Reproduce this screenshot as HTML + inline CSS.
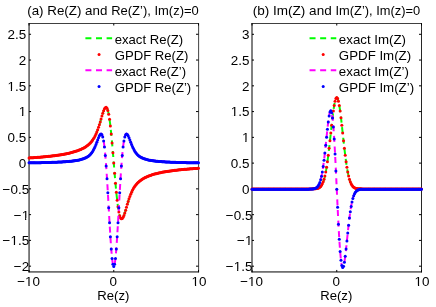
<!DOCTYPE html>
<html><head><meta charset="utf-8"><title>plot</title>
<style>html,body{margin:0;padding:0;background:#fff}body{width:436px;height:307px;overflow:hidden;font-family:"Liberation Sans",sans-serif}</style></head>
<body>
<svg width="436" height="307" viewBox="0 0 436 307" style="display:block;will-change:transform" font-family="Liberation Sans, sans-serif" font-size="13.6" fill="#000">
<rect width="436" height="307" fill="#fff"/>
<g transform="translate(26.15,39.18) scale(0.989,1)"><text text-anchor="end">2.5</text></g>
<g transform="translate(26.15,64.94) scale(0.989,1)"><text text-anchor="end">2</text></g>
<g transform="translate(26.15,90.70) scale(0.989,1)"><text text-anchor="end">1.5</text><rect x="-19.11" y="-1.43" width="3.62" height="2.46" fill="#fff"/><rect x="-14.28" y="-1.43" width="3.11" height="2.46" fill="#fff"/></g>
<g transform="translate(26.15,116.47) scale(0.989,1)"><text text-anchor="end">1</text><rect x="-7.76" y="-1.43" width="3.62" height="2.46" fill="#fff"/><rect x="-2.94" y="-1.43" width="3.11" height="2.46" fill="#fff"/></g>
<g transform="translate(26.15,142.23) scale(0.989,1)"><text text-anchor="end">0.5</text></g>
<g transform="translate(26.15,168.00) scale(0.989,1)"><text text-anchor="end">0</text></g>
<g transform="translate(29.15,193.77) scale(0.989,1)"><text text-anchor="end">−0.5</text></g>
<g transform="translate(29.15,219.53) scale(0.989,1)"><text text-anchor="end">−1</text><rect x="-7.76" y="-1.43" width="3.62" height="2.46" fill="#fff"/><rect x="-2.94" y="-1.43" width="3.11" height="2.46" fill="#fff"/></g>
<g transform="translate(29.15,245.29) scale(0.989,1)"><text text-anchor="end">−1.5</text><rect x="-19.11" y="-1.43" width="3.62" height="2.46" fill="#fff"/><rect x="-14.28" y="-1.43" width="3.11" height="2.46" fill="#fff"/></g>
<g transform="translate(29.15,271.06) scale(0.989,1)"><text text-anchor="end">−2</text></g>
<g transform="translate(28.60,286.30) scale(0.989,1)"><text text-anchor="middle">−10</text><rect x="-3.79" y="-1.43" width="3.62" height="2.46" fill="#fff"/><rect x="1.03" y="-1.43" width="3.11" height="2.46" fill="#fff"/></g>
<g transform="translate(113.32,286.30) scale(0.989,1)"><text text-anchor="middle">0</text></g>
<g transform="translate(199.05,286.30) scale(0.989,1)"><text text-anchor="middle">10</text><rect x="-7.76" y="-1.43" width="3.62" height="2.46" fill="#fff"/><rect x="-2.94" y="-1.43" width="3.11" height="2.46" fill="#fff"/></g>
<path d="M29.05,23.1V272.45" stroke="#000" stroke-width="1" fill="none"/>
<path d="M28.55,271.95H198.9" stroke="#000" stroke-width="1" fill="none"/>
<path d="M28.55,23.5H198.9" stroke="#000" stroke-width="0.75" fill="none"/>
<path d="M198.62,23.1V272.45" stroke="#000" stroke-width="0.75" fill="none"/>
<path d="M29.05,34.28h2.0M198.5,34.28h-2.5M29.05,60.04h2.0M198.5,60.04h-2.5M29.05,85.80h2.0M198.5,85.80h-2.5M29.05,111.57h2.0M198.5,111.57h-2.5M29.05,137.33h2.0M198.5,137.33h-2.5M29.05,163.10h2.0M198.5,163.10h-2.5M29.05,188.87h2.0M198.5,188.87h-2.5M29.05,214.63h2.0M198.5,214.63h-2.5M29.05,240.39h2.0M198.5,240.39h-2.5M29.05,266.16h2.0M198.5,266.16h-2.5M29.05,271.95v-2.0M29.05,23.5v2.0M113.77,271.95v-2.0M113.77,23.5v2.0M198.50,271.95v-2.0M198.50,23.5v2.0" stroke="#000" stroke-width="1" fill="none"/>
<path d="M29.05,157.92 L29.13,157.92 L29.22,157.91 L29.30,157.91 L29.39,157.90 L29.47,157.89 L29.56,157.89 L29.64,157.88 L29.73,157.88 L29.81,157.87 L29.90,157.87 L29.98,157.86 L30.07,157.86 L30.15,157.85 L30.24,157.85 L30.32,157.84 L30.41,157.84 L30.49,157.83 L30.58,157.82 L30.66,157.82 L30.74,157.81 L30.83,157.81 L30.91,157.80 L31.00,157.80 L31.08,157.79 L31.17,157.79 L31.25,157.78 L31.34,157.78 L31.42,157.77 L31.51,157.76 L31.59,157.76 L31.68,157.75 L31.76,157.75 L31.85,157.74 L31.93,157.74 L32.02,157.73 L32.10,157.73 L32.18,157.72 L32.27,157.71 L32.35,157.71 L32.44,157.70 L32.52,157.70 L32.61,157.69 L32.69,157.69 L32.78,157.68 L32.86,157.67 L32.95,157.67 L33.03,157.66 L33.12,157.66 L33.20,157.65 L33.29,157.65 L33.37,157.64 L33.46,157.63 L33.54,157.63 L33.63,157.62 L33.71,157.62 L33.79,157.61 L33.88,157.60 L33.96,157.60 L34.05,157.59 L34.13,157.59 L34.22,157.58 L34.30,157.57 L34.39,157.57 L34.47,157.56 L34.56,157.56 L34.64,157.55 L34.73,157.54 L34.81,157.54 L34.90,157.53 L34.98,157.53 L35.07,157.52 L35.15,157.51 L35.23,157.51 L35.32,157.50 L35.40,157.50 L35.49,157.49 L35.57,157.48 L35.66,157.48 L35.74,157.47 L35.83,157.47 L35.91,157.46 L36.00,157.45 L36.08,157.45 L36.17,157.44 L36.25,157.43 L36.34,157.43 L36.42,157.42 L36.51,157.42 L36.59,157.41 L36.68,157.40 L36.76,157.40 L36.84,157.39 L36.93,157.38 L37.01,157.38 L37.10,157.37 L37.18,157.36 L37.27,157.36 L37.35,157.35 L37.44,157.34 L37.52,157.34 L37.61,157.33 L37.69,157.33 L37.78,157.32 L37.86,157.31 L37.95,157.31 L38.03,157.30 L38.12,157.29 L38.20,157.29 L38.29,157.28 L38.37,157.27 L38.45,157.27 L38.54,157.26 L38.62,157.25 L38.71,157.25 L38.79,157.24 L38.88,157.23 L38.96,157.23 L39.05,157.22 L39.13,157.21 L39.22,157.21 L39.30,157.20 L39.39,157.19 L39.47,157.19 L39.56,157.18 L39.64,157.17 L39.73,157.16 L39.81,157.16 L39.89,157.15 L39.98,157.14 L40.06,157.14 L40.15,157.13 L40.23,157.12 L40.32,157.12 L40.40,157.11 L40.49,157.10 L40.57,157.10 L40.66,157.09 L40.74,157.08 L40.83,157.07 L40.91,157.07 L41.00,157.06 L41.08,157.05 L41.17,157.05 L41.25,157.04 L41.34,157.03 L41.42,157.02 L41.50,157.02 L41.59,157.01 L41.67,157.00 L41.76,156.99 L41.84,156.99 L41.93,156.98 L42.01,156.97 L42.10,156.97 L42.18,156.96 L42.27,156.95 L42.35,156.94 L42.44,156.94 L42.52,156.93 L42.61,156.92 L42.69,156.91 L42.78,156.91 L42.86,156.90 L42.94,156.89 L43.03,156.88 L43.11,156.88 L43.20,156.87 L43.28,156.86 L43.37,156.85 L43.45,156.85 L43.54,156.84 L43.62,156.83 L43.71,156.82 L43.79,156.81 L43.88,156.81 L43.96,156.80 L44.05,156.79 L44.13,156.78 L44.22,156.78 L44.30,156.77 L44.39,156.76 L44.47,156.75 L44.55,156.74 L44.64,156.74 L44.72,156.73 L44.81,156.72 L44.89,156.71 L44.98,156.70 L45.06,156.70 L45.15,156.69 L45.23,156.68 L45.32,156.67 L45.40,156.66 L45.49,156.66 L45.57,156.65 L45.66,156.64 L45.74,156.63 L45.83,156.62 L45.91,156.62 L46.00,156.61 L46.08,156.60 L46.16,156.59 L46.25,156.58 L46.33,156.57 L46.42,156.57 L46.50,156.56 L46.59,156.55 L46.67,156.54 L46.76,156.53 L46.84,156.52 L46.93,156.52 L47.01,156.51 L47.10,156.50 L47.18,156.49 L47.27,156.48 L47.35,156.47 L47.44,156.46 L47.52,156.46 L47.60,156.45 L47.69,156.44 L47.77,156.43 L47.86,156.42 L47.94,156.41 L48.03,156.40 L48.11,156.39 L48.20,156.39 L48.28,156.38 L48.37,156.37 L48.45,156.36 L48.54,156.35 L48.62,156.34 L48.71,156.33 L48.79,156.32 L48.88,156.31 L48.96,156.30 L49.05,156.30 L49.13,156.29 L49.21,156.28 L49.30,156.27 L49.38,156.26 L49.47,156.25 L49.55,156.24 L49.64,156.23 L49.72,156.22 L49.81,156.21 L49.89,156.20 L49.98,156.19 L50.06,156.19 L50.15,156.18 L50.23,156.17 L50.32,156.16 L50.40,156.15 L50.49,156.14 L50.57,156.13 L50.65,156.12 L50.74,156.11 L50.82,156.10 L50.91,156.09 L50.99,156.08 L51.08,156.07 L51.16,156.06 L51.25,156.05 L51.33,156.04 L51.42,156.03 L51.50,156.02 L51.59,156.01 L51.67,156.00 L51.76,155.99 L51.84,155.98 L51.93,155.97 L52.01,155.96 L52.10,155.95 L52.18,155.94 L52.26,155.93 L52.35,155.92 L52.43,155.91 L52.52,155.90 L52.60,155.89 L52.69,155.88 L52.77,155.87 L52.86,155.86 L52.94,155.85 L53.03,155.84 L53.11,155.83 L53.20,155.82 L53.28,155.81 L53.37,155.80 L53.45,155.79 L53.54,155.78 L53.62,155.77 L53.70,155.76 L53.79,155.75 L53.87,155.74 L53.96,155.73 L54.04,155.71 L54.13,155.70 L54.21,155.69 L54.30,155.68 L54.38,155.67 L54.47,155.66 L54.55,155.65 L54.64,155.64 L54.72,155.63 L54.81,155.62 L54.89,155.61 L54.98,155.60 L55.06,155.58 L55.15,155.57 L55.23,155.56 L55.31,155.55 L55.40,155.54 L55.48,155.53 L55.57,155.52 L55.65,155.51 L55.74,155.49 L55.82,155.48 L55.91,155.47 L55.99,155.46 L56.08,155.45 L56.16,155.44 L56.25,155.43 L56.33,155.41 L56.42,155.40 L56.50,155.39 L56.59,155.38 L56.67,155.37 L56.76,155.36 L56.84,155.34 L56.92,155.33 L57.01,155.32 L57.09,155.31 L57.18,155.30 L57.26,155.28 L57.35,155.27 L57.43,155.26 L57.52,155.25 L57.60,155.24 L57.69,155.22 L57.77,155.21 L57.86,155.20 L57.94,155.19 L58.03,155.17 L58.11,155.16 L58.20,155.15 L58.28,155.14 L58.36,155.13 L58.45,155.11 L58.53,155.10 L58.62,155.09 L58.70,155.07 L58.79,155.06 L58.87,155.05 L58.96,155.04 L59.04,155.02 L59.13,155.01 L59.21,155.00 L59.30,154.99 L59.38,154.97 L59.47,154.96 L59.55,154.95 L59.64,154.93 L59.72,154.92 L59.81,154.91 L59.89,154.89 L59.97,154.88 L60.06,154.87 L60.14,154.85 L60.23,154.84 L60.31,154.83 L60.40,154.81 L60.48,154.80 L60.57,154.79 L60.65,154.77 L60.74,154.76 L60.82,154.75 L60.91,154.73 L60.99,154.72 L61.08,154.70 L61.16,154.69 L61.25,154.68 L61.33,154.66 L61.41,154.65 L61.50,154.63 L61.58,154.62 L61.67,154.61 L61.75,154.59 L61.84,154.58 L61.92,154.56 L62.01,154.55 L62.09,154.53 L62.18,154.52 L62.26,154.51 L62.35,154.49 L62.43,154.48 L62.52,154.46 L62.60,154.45 L62.69,154.43 L62.77,154.42 L62.86,154.40 L62.94,154.39 L63.02,154.37 L63.11,154.36 L63.19,154.34 L63.28,154.33 L63.36,154.31 L63.45,154.30 L63.53,154.28 L63.62,154.27 L63.70,154.25 L63.79,154.23 L63.87,154.22 L63.96,154.20 L64.04,154.19 L64.13,154.17 L64.21,154.16 L64.30,154.14 L64.38,154.13 L64.47,154.11 L64.55,154.09 L64.63,154.08 L64.72,154.06 L64.80,154.04 L64.89,154.03 L64.97,154.01 L65.06,154.00 L65.14,153.98 L65.23,153.96 L65.31,153.95 L65.40,153.93 L65.48,153.91 L65.57,153.90 L65.65,153.88 L65.74,153.86 L65.82,153.85 L65.91,153.83 L65.99,153.81 L66.07,153.80 L66.16,153.78 L66.24,153.76 L66.33,153.74 L66.41,153.73 L66.50,153.71 L66.58,153.69 L66.67,153.67 L66.75,153.66 L66.84,153.64 L66.92,153.62 L67.01,153.60 L67.09,153.59 L67.18,153.57 L67.26,153.55 L67.35,153.53 L67.43,153.51 L67.52,153.50 L67.60,153.48 L67.68,153.46 L67.77,153.44 L67.85,153.42 L67.94,153.40 L68.02,153.38 L68.11,153.37 L68.19,153.35 L68.28,153.33 L68.36,153.31 L68.45,153.29 L68.53,153.27 L68.62,153.25 L68.70,153.23 L68.79,153.21 L68.87,153.19 L68.96,153.17 L69.04,153.16 L69.12,153.14 L69.21,153.12 L69.29,153.10 L69.38,153.08 L69.46,153.06 L69.55,153.04 L69.63,153.02 L69.72,153.00 L69.80,152.98 L69.89,152.96 L69.97,152.93 L70.06,152.91 L70.14,152.89 L70.23,152.87 L70.31,152.85 L70.40,152.83 L70.48,152.81 L70.57,152.79 L70.65,152.77 L70.73,152.75 L70.82,152.73 L70.90,152.70 L70.99,152.68 L71.07,152.66 L71.16,152.64 L71.24,152.62 L71.33,152.60 L71.41,152.57 L71.50,152.55 L71.58,152.53 L71.67,152.51 L71.75,152.49 L71.84,152.46 L71.92,152.44 L72.01,152.42 L72.09,152.40 L72.18,152.37 L72.26,152.35 L72.34,152.33 L72.43,152.30 L72.51,152.28 L72.60,152.26 L72.68,152.23 L72.77,152.21 L72.85,152.19 L72.94,152.16 L73.02,152.14 L73.11,152.11 L73.19,152.09 L73.28,152.07 L73.36,152.04 L73.45,152.02 L73.53,151.99 L73.62,151.97 L73.70,151.94 L73.78,151.92 L73.87,151.89 L73.95,151.87 L74.04,151.84 L74.12,151.82 L74.21,151.79 L74.29,151.77 L74.38,151.74 L74.46,151.72 L74.55,151.69 L74.63,151.66 L74.72,151.64 L74.80,151.61 L74.89,151.59 L74.97,151.56 L75.06,151.53 L75.14,151.51 L75.23,151.48 L75.31,151.45 L75.39,151.42 L75.48,151.40 L75.56,151.37 L75.65,151.34 L75.73,151.31 L75.82,151.29 L75.90,151.26 L75.99,151.23 L76.07,151.20 L76.16,151.17 L76.24,151.15 L76.33,151.12 L76.41,151.09 L76.50,151.06 L76.58,151.03 L76.67,151.00 L76.75,150.97 L76.83,150.94 L76.92,150.91 L77.00,150.88 L77.09,150.85 L77.17,150.82 L77.26,150.79 L77.34,150.76 L77.43,150.73 L77.51,150.70 L77.60,150.67 L77.68,150.64 L77.77,150.61 L77.85,150.58 L77.94,150.54 L78.02,150.51 L78.11,150.48 L78.19,150.45 L78.28,150.42 L78.36,150.38 L78.44,150.35 L78.53,150.32 L78.61,150.29 L78.70,150.25 L78.78,150.22 L78.87,150.19 L78.95,150.15 L79.04,150.12 L79.12,150.08 L79.21,150.05 L79.29,150.02 L79.38,149.98 L79.46,149.95 L79.55,149.91 L79.63,149.88 L79.72,149.84 L79.80,149.81 L79.88,149.77 L79.97,149.73 L80.05,149.70 L80.14,149.66 L80.22,149.62 L80.31,149.59 L80.39,149.55 L80.48,149.51 L80.56,149.48 L80.65,149.44 L80.73,149.40 L80.82,149.36 L80.90,149.32 L80.99,149.29 L81.07,149.25 L81.16,149.21 L81.24,149.17 L81.33,149.13 L81.41,149.09 L81.49,149.05 L81.58,149.01 L81.66,148.97 L81.75,148.93 L81.83,148.89 L81.92,148.85 L82.00,148.81 L82.09,148.76 L82.17,148.72 L82.26,148.68 L82.34,148.64 L82.43,148.59 L82.51,148.55 L82.60,148.51 L82.68,148.46 L82.77,148.42 L82.85,148.38 L82.94,148.33 L83.02,148.29 L83.10,148.24 L83.19,148.20 L83.27,148.15 L83.36,148.11 L83.44,148.06 L83.53,148.01 L83.61,147.97 L83.70,147.92 L83.78,147.87 L83.87,147.82 L83.95,147.78 L84.04,147.73 L84.12,147.68 L84.21,147.63 L84.29,147.58 L84.38,147.53 L84.46,147.48 L84.54,147.43 L84.63,147.38 L84.71,147.33 L84.80,147.28 L84.88,147.23 L84.97,147.17 L85.05,147.12 L85.14,147.07 L85.22,147.02 L85.31,146.96 L85.39,146.91 L85.48,146.85 L85.56,146.80 L85.65,146.74 L85.73,146.69 L85.82,146.63 L85.90,146.58 L85.99,146.52 L86.07,146.46 L86.15,146.40 L86.24,146.35 L86.32,146.29 L86.41,146.23 L86.49,146.17 L86.58,146.11 L86.66,146.05 L86.75,145.99 L86.83,145.92 L86.92,145.86 L87.00,145.80 L87.09,145.74 L87.17,145.67 L87.26,145.61 L87.34,145.55 L87.43,145.48 L87.51,145.41 L87.59,145.35 L87.68,145.28 L87.76,145.21 L87.85,145.15 L87.93,145.08 L88.02,145.01 L88.10,144.94 L88.19,144.87 L88.27,144.80 L88.36,144.73 L88.44,144.66 L88.53,144.58 L88.61,144.51 L88.70,144.44 L88.78,144.36 L88.87,144.29 L88.95,144.21 L89.04,144.13 L89.12,144.05 L89.20,143.98 L89.29,143.90 L89.37,143.82 L89.46,143.74 L89.54,143.66 L89.63,143.57 L89.71,143.49 L89.80,143.41 L89.88,143.32 L89.97,143.24 L90.05,143.15 L90.14,143.07 L90.22,142.98 L90.31,142.89 L90.39,142.80 L90.48,142.71 L90.56,142.62 L90.65,142.53 L90.73,142.43 L90.81,142.34 L90.90,142.24 L90.98,142.15 L91.07,142.05 L91.15,141.95 L91.24,141.85 L91.32,141.75 L91.41,141.65 L91.49,141.55 L91.58,141.44 L91.66,141.34 L91.75,141.23 L91.83,141.13 L91.92,141.02 L92.00,140.91 L92.09,140.80 L92.17,140.69 L92.25,140.57 L92.34,140.46 L92.42,140.34 L92.51,140.23 L92.59,140.11 L92.68,139.99 L92.76,139.87 L92.85,139.75 L92.93,139.62 L93.02,139.50 L93.10,139.37 L93.19,139.24 L93.27,139.11 L93.36,138.98 L93.44,138.85 L93.53,138.71 L93.61,138.58 L93.70,138.44 L93.78,138.30 L93.86,138.16 L93.95,138.02 L94.03,137.88 L94.12,137.73 L94.20,137.58 L94.29,137.43 L94.37,137.28 L94.46,137.13 L94.54,136.97 L94.63,136.82 L94.71,136.66 L94.80,136.50 L94.88,136.34 L94.97,136.17 L95.05,136.01 L95.14,135.84 L95.22,135.67 L95.30,135.50 L95.39,135.32 L95.47,135.15 L95.56,134.97 L95.64,134.79 L95.73,134.61 L95.81,134.42 L95.90,134.24 L95.98,134.05 L96.07,133.86 L96.15,133.67 L96.24,133.47 L96.32,133.27 L96.41,133.07 L96.49,132.87 L96.58,132.67 L96.66,132.46 L96.75,132.25 L96.83,132.04 L96.91,131.83 L97.00,131.62 L97.08,131.40 L97.17,131.18 L97.25,130.96 L97.34,130.73 L97.42,130.51 L97.51,130.28 L97.59,130.05 L97.68,129.81 L97.76,129.58 L97.85,129.34 L97.93,129.10 L98.02,128.86 L98.10,128.62 L98.19,128.37 L98.27,128.12 L98.36,127.87 L98.44,127.62 L98.52,127.36 L98.61,127.10 L98.69,126.85 L98.78,126.58 L98.86,126.32 L98.95,126.06 L99.03,125.79 L99.12,125.52 L99.20,125.25 L99.29,124.98 L99.37,124.70 L99.46,124.43 L99.54,124.15 L99.63,123.87 L99.71,123.59 L99.80,123.31 L99.88,123.03 L99.96,122.74 L100.05,122.46 L100.13,122.17 L100.22,121.88 L100.30,121.59 L100.39,121.30 L100.47,121.01 L100.56,120.72 L100.64,120.43 L100.73,120.14 L100.81,119.84 L100.90,119.55 L100.98,119.26 L101.07,118.96 L101.15,118.67 L101.24,118.38 L101.32,118.08 L101.41,117.79 L101.49,117.50 L101.57,117.21 L101.66,116.92 L101.74,116.63 L101.83,116.34 L101.91,116.05 L102.00,115.77 L102.08,115.48 L102.17,115.20 L102.25,114.92 L102.34,114.64 L102.42,114.36 L102.51,114.09 L102.59,113.82 L102.68,113.55 L102.76,113.28 L102.85,113.02 L102.93,112.76 L103.01,112.50 L103.10,112.25 L103.18,112.00 L103.27,111.76 L103.35,111.51 L103.44,111.28 L103.52,111.05 L103.61,110.82 L103.69,110.60 L103.78,110.38 L103.86,110.17 L103.95,109.97 L104.03,109.77 L104.12,109.57 L104.20,109.39 L104.29,109.21 L104.37,109.04 L104.46,108.87 L104.54,108.71 L104.62,108.56 L104.71,108.42 L104.79,108.28 L104.88,108.15 L104.96,108.03 L105.05,107.92 L105.13,107.82 L105.22,107.73 L105.30,107.65 L105.39,107.57 L105.47,107.51 L105.56,107.45 L105.64,107.41 L105.73,107.38 L105.81,107.35 L105.90,107.34 L105.98,107.34 L106.07,107.35 L106.15,107.37 L106.23,107.41 L106.32,107.45 L106.40,107.51 L106.49,107.58 L106.57,107.66 L106.66,107.75 L106.74,107.86 L106.83,107.98 L106.91,108.12 L107.00,108.26 L107.08,108.42 L107.17,108.60 L107.25,108.78 L107.34,108.98 L107.42,109.20 L107.51,109.43 L107.59,109.67 L107.67,109.93 L107.76,110.20 L107.84,110.49 L107.93,110.79 L108.01,111.10 L108.10,111.44 L108.18,111.78 L108.27,112.14 L108.35,112.52 L108.44,112.91 L108.52,113.31 L108.61,113.74 L108.69,114.17 L108.78,114.62 L108.86,115.09 L108.95,115.57 L109.03,116.07 L109.12,116.58 L109.20,117.10 L109.28,117.64 L109.37,118.20 L109.45,118.77 L109.54,119.36 L109.62,119.96 L109.71,120.57 L109.79,121.20 L109.88,121.85 L109.96,122.50 L110.05,123.18 L110.13,123.86 L110.22,124.56 L110.30,125.28 L110.39,126.00 L110.47,126.74 L110.56,127.50 L110.64,128.26 L110.72,129.04 L110.81,129.84 L110.89,130.64 L110.98,131.46 L111.06,132.28 L111.15,133.12 L111.23,133.97 L111.32,134.83 L111.40,135.71 L111.49,136.59 L111.57,137.48 L111.66,138.38 L111.74,139.29 L111.83,140.21 L111.91,141.14 L112.00,142.08 L112.08,143.03 L112.17,143.98 L112.25,144.94 L112.33,145.91 L112.42,146.89 L112.50,147.87 L112.59,148.86 L112.67,149.85 L112.76,150.85 L112.84,151.85 L112.93,152.86 L113.01,153.87 L113.10,154.89 L113.18,155.91 L113.27,156.93 L113.35,157.96 L113.44,158.98 L113.52,160.01 L113.61,161.04 L113.69,162.07 L113.77,163.10 L113.86,164.13 L113.94,165.16 L114.03,166.19 L114.11,167.22 L114.20,168.24 L114.28,169.27 L114.37,170.29 L114.45,171.31 L114.54,172.33 L114.62,173.34 L114.71,174.35 L114.79,175.35 L114.88,176.35 L114.96,177.34 L115.05,178.33 L115.13,179.31 L115.22,180.29 L115.30,181.26 L115.38,182.22 L115.47,183.17 L115.55,184.12 L115.64,185.06 L115.72,185.99 L115.81,186.91 L115.89,187.82 L115.98,188.72 L116.06,189.61 L116.15,190.49 L116.23,191.37 L116.32,192.23 L116.40,193.08 L116.49,193.92 L116.57,194.74 L116.66,195.56 L116.74,196.36 L116.83,197.16 L116.91,197.94 L116.99,198.70 L117.08,199.46 L117.16,200.20 L117.25,200.92 L117.33,201.64 L117.42,202.34 L117.50,203.02 L117.59,203.70 L117.67,204.35 L117.76,205.00 L117.84,205.63 L117.93,206.24 L118.01,206.84 L118.10,207.43 L118.18,208.00 L118.27,208.56 L118.35,209.10 L118.43,209.62 L118.52,210.13 L118.60,210.63 L118.69,211.11 L118.77,211.58 L118.86,212.03 L118.94,212.46 L119.03,212.89 L119.11,213.29 L119.20,213.68 L119.28,214.06 L119.37,214.42 L119.45,214.76 L119.54,215.10 L119.62,215.41 L119.71,215.71 L119.79,216.00 L119.88,216.27 L119.96,216.53 L120.04,216.77 L120.13,217.00 L120.21,217.22 L120.30,217.42 L120.38,217.60 L120.47,217.78 L120.55,217.94 L120.64,218.08 L120.72,218.22 L120.81,218.34 L120.89,218.45 L120.98,218.54 L121.06,218.62 L121.15,218.69 L121.23,218.75 L121.32,218.79 L121.40,218.83 L121.48,218.85 L121.57,218.86 L121.65,218.86 L121.74,218.85 L121.82,218.82 L121.91,218.79 L121.99,218.75 L122.08,218.69 L122.16,218.63 L122.25,218.55 L122.33,218.47 L122.42,218.38 L122.50,218.28 L122.59,218.17 L122.67,218.05 L122.76,217.92 L122.84,217.78 L122.93,217.64 L123.01,217.49 L123.09,217.33 L123.18,217.16 L123.26,216.99 L123.35,216.81 L123.43,216.63 L123.52,216.43 L123.60,216.23 L123.69,216.03 L123.77,215.82 L123.86,215.60 L123.94,215.38 L124.03,215.15 L124.11,214.92 L124.20,214.69 L124.28,214.44 L124.37,214.20 L124.45,213.95 L124.54,213.70 L124.62,213.44 L124.70,213.18 L124.79,212.92 L124.87,212.65 L124.96,212.38 L125.04,212.11 L125.13,211.84 L125.21,211.56 L125.30,211.28 L125.38,211.00 L125.47,210.72 L125.55,210.43 L125.64,210.15 L125.72,209.86 L125.81,209.57 L125.89,209.28 L125.98,208.99 L126.06,208.70 L126.14,208.41 L126.23,208.12 L126.31,207.82 L126.40,207.53 L126.48,207.24 L126.57,206.94 L126.65,206.65 L126.74,206.36 L126.82,206.06 L126.91,205.77 L126.99,205.48 L127.08,205.19 L127.16,204.90 L127.25,204.61 L127.33,204.32 L127.42,204.03 L127.50,203.74 L127.59,203.46 L127.67,203.17 L127.75,202.89 L127.84,202.61 L127.92,202.33 L128.01,202.05 L128.09,201.77 L128.18,201.50 L128.26,201.22 L128.35,200.95 L128.43,200.68 L128.52,200.41 L128.60,200.14 L128.69,199.88 L128.77,199.62 L128.86,199.35 L128.94,199.10 L129.03,198.84 L129.11,198.58 L129.19,198.33 L129.28,198.08 L129.36,197.83 L129.45,197.58 L129.53,197.34 L129.62,197.10 L129.70,196.86 L129.79,196.62 L129.87,196.39 L129.96,196.15 L130.04,195.92 L130.13,195.69 L130.21,195.47 L130.30,195.24 L130.38,195.02 L130.47,194.80 L130.55,194.58 L130.64,194.37 L130.72,194.16 L130.80,193.95 L130.89,193.74 L130.97,193.53 L131.06,193.33 L131.14,193.13 L131.23,192.93 L131.31,192.73 L131.40,192.53 L131.48,192.34 L131.57,192.15 L131.65,191.96 L131.74,191.78 L131.82,191.59 L131.91,191.41 L131.99,191.23 L132.08,191.05 L132.16,190.88 L132.25,190.70 L132.33,190.53 L132.41,190.36 L132.50,190.19 L132.58,190.03 L132.67,189.86 L132.75,189.70 L132.84,189.54 L132.92,189.38 L133.01,189.23 L133.09,189.07 L133.18,188.92 L133.26,188.77 L133.35,188.62 L133.43,188.47 L133.52,188.32 L133.60,188.18 L133.69,188.04 L133.77,187.90 L133.85,187.76 L133.94,187.62 L134.02,187.49 L134.11,187.35 L134.19,187.22 L134.28,187.09 L134.36,186.96 L134.45,186.83 L134.53,186.70 L134.62,186.58 L134.70,186.45 L134.79,186.33 L134.87,186.21 L134.96,186.09 L135.04,185.97 L135.13,185.86 L135.21,185.74 L135.30,185.63 L135.38,185.51 L135.46,185.40 L135.55,185.29 L135.63,185.18 L135.72,185.07 L135.80,184.97 L135.89,184.86 L135.97,184.76 L136.06,184.65 L136.14,184.55 L136.23,184.45 L136.31,184.35 L136.40,184.25 L136.48,184.15 L136.57,184.05 L136.65,183.96 L136.74,183.86 L136.82,183.77 L136.90,183.67 L136.99,183.58 L137.07,183.49 L137.16,183.40 L137.24,183.31 L137.33,183.22 L137.41,183.13 L137.50,183.05 L137.58,182.96 L137.67,182.88 L137.75,182.79 L137.84,182.71 L137.92,182.63 L138.01,182.54 L138.09,182.46 L138.18,182.38 L138.26,182.30 L138.35,182.22 L138.43,182.15 L138.51,182.07 L138.60,181.99 L138.68,181.91 L138.77,181.84 L138.85,181.76 L138.94,181.69 L139.02,181.62 L139.11,181.54 L139.19,181.47 L139.28,181.40 L139.36,181.33 L139.45,181.26 L139.53,181.19 L139.62,181.12 L139.70,181.05 L139.79,180.99 L139.87,180.92 L139.96,180.85 L140.04,180.79 L140.12,180.72 L140.21,180.65 L140.29,180.59 L140.38,180.53 L140.46,180.46 L140.55,180.40 L140.63,180.34 L140.72,180.28 L140.80,180.21 L140.89,180.15 L140.97,180.09 L141.06,180.03 L141.14,179.97 L141.23,179.91 L141.31,179.85 L141.40,179.80 L141.48,179.74 L141.56,179.68 L141.65,179.62 L141.73,179.57 L141.82,179.51 L141.90,179.46 L141.99,179.40 L142.07,179.35 L142.16,179.29 L142.24,179.24 L142.33,179.18 L142.41,179.13 L142.50,179.08 L142.58,179.03 L142.67,178.97 L142.75,178.92 L142.84,178.87 L142.92,178.82 L143.01,178.77 L143.09,178.72 L143.17,178.67 L143.26,178.62 L143.34,178.57 L143.43,178.52 L143.51,178.47 L143.60,178.42 L143.68,178.38 L143.77,178.33 L143.85,178.28 L143.94,178.23 L144.02,178.19 L144.11,178.14 L144.19,178.09 L144.28,178.05 L144.36,178.00 L144.45,177.96 L144.53,177.91 L144.61,177.87 L144.70,177.82 L144.78,177.78 L144.87,177.74 L144.95,177.69 L145.04,177.65 L145.12,177.61 L145.21,177.56 L145.29,177.52 L145.38,177.48 L145.46,177.44 L145.55,177.39 L145.63,177.35 L145.72,177.31 L145.80,177.27 L145.89,177.23 L145.97,177.19 L146.06,177.15 L146.14,177.11 L146.22,177.07 L146.31,177.03 L146.39,176.99 L146.48,176.95 L146.56,176.91 L146.65,176.88 L146.73,176.84 L146.82,176.80 L146.90,176.76 L146.99,176.72 L147.07,176.69 L147.16,176.65 L147.24,176.61 L147.33,176.58 L147.41,176.54 L147.50,176.50 L147.58,176.47 L147.66,176.43 L147.75,176.39 L147.83,176.36 L147.92,176.32 L148.00,176.29 L148.09,176.25 L148.17,176.22 L148.26,176.18 L148.34,176.15 L148.43,176.12 L148.51,176.08 L148.60,176.05 L148.68,176.01 L148.77,175.98 L148.85,175.95 L148.94,175.91 L149.02,175.88 L149.11,175.85 L149.19,175.82 L149.27,175.78 L149.36,175.75 L149.44,175.72 L149.53,175.69 L149.61,175.66 L149.70,175.62 L149.78,175.59 L149.87,175.56 L149.95,175.53 L150.04,175.50 L150.12,175.47 L150.21,175.44 L150.29,175.41 L150.38,175.38 L150.46,175.35 L150.55,175.32 L150.63,175.29 L150.72,175.26 L150.80,175.23 L150.88,175.20 L150.97,175.17 L151.05,175.14 L151.14,175.11 L151.22,175.08 L151.31,175.05 L151.39,175.03 L151.48,175.00 L151.56,174.97 L151.65,174.94 L151.73,174.91 L151.82,174.89 L151.90,174.86 L151.99,174.83 L152.07,174.80 L152.16,174.78 L152.24,174.75 L152.32,174.72 L152.41,174.69 L152.49,174.67 L152.58,174.64 L152.66,174.61 L152.75,174.59 L152.83,174.56 L152.92,174.54 L153.00,174.51 L153.09,174.48 L153.17,174.46 L153.26,174.43 L153.34,174.41 L153.43,174.38 L153.51,174.36 L153.60,174.33 L153.68,174.31 L153.77,174.28 L153.85,174.26 L153.93,174.23 L154.02,174.21 L154.10,174.18 L154.19,174.16 L154.27,174.13 L154.36,174.11 L154.44,174.09 L154.53,174.06 L154.61,174.04 L154.70,174.01 L154.78,173.99 L154.87,173.97 L154.95,173.94 L155.04,173.92 L155.12,173.90 L155.21,173.87 L155.29,173.85 L155.37,173.83 L155.46,173.80 L155.54,173.78 L155.63,173.76 L155.71,173.74 L155.80,173.71 L155.88,173.69 L155.97,173.67 L156.05,173.65 L156.14,173.63 L156.22,173.60 L156.31,173.58 L156.39,173.56 L156.48,173.54 L156.56,173.52 L156.65,173.50 L156.73,173.47 L156.82,173.45 L156.90,173.43 L156.98,173.41 L157.07,173.39 L157.15,173.37 L157.24,173.35 L157.32,173.33 L157.41,173.31 L157.49,173.29 L157.58,173.27 L157.66,173.24 L157.75,173.22 L157.83,173.20 L157.92,173.18 L158.00,173.16 L158.09,173.14 L158.17,173.12 L158.26,173.10 L158.34,173.08 L158.43,173.06 L158.51,173.04 L158.59,173.03 L158.68,173.01 L158.76,172.99 L158.85,172.97 L158.93,172.95 L159.02,172.93 L159.10,172.91 L159.19,172.89 L159.27,172.87 L159.36,172.85 L159.44,172.83 L159.53,172.82 L159.61,172.80 L159.70,172.78 L159.78,172.76 L159.87,172.74 L159.95,172.72 L160.03,172.70 L160.12,172.69 L160.20,172.67 L160.29,172.65 L160.37,172.63 L160.46,172.61 L160.54,172.60 L160.63,172.58 L160.71,172.56 L160.80,172.54 L160.88,172.53 L160.97,172.51 L161.05,172.49 L161.14,172.47 L161.22,172.46 L161.31,172.44 L161.39,172.42 L161.48,172.40 L161.56,172.39 L161.64,172.37 L161.73,172.35 L161.81,172.34 L161.90,172.32 L161.98,172.30 L162.07,172.29 L162.15,172.27 L162.24,172.25 L162.32,172.24 L162.41,172.22 L162.49,172.20 L162.58,172.19 L162.66,172.17 L162.75,172.16 L162.83,172.14 L162.92,172.12 L163.00,172.11 L163.08,172.09 L163.17,172.07 L163.25,172.06 L163.34,172.04 L163.42,172.03 L163.51,172.01 L163.59,172.00 L163.68,171.98 L163.76,171.97 L163.85,171.95 L163.93,171.93 L164.02,171.92 L164.10,171.90 L164.19,171.89 L164.27,171.87 L164.36,171.86 L164.44,171.84 L164.53,171.83 L164.61,171.81 L164.69,171.80 L164.78,171.78 L164.86,171.77 L164.95,171.75 L165.03,171.74 L165.12,171.72 L165.20,171.71 L165.29,171.69 L165.37,171.68 L165.46,171.67 L165.54,171.65 L165.63,171.64 L165.71,171.62 L165.80,171.61 L165.88,171.59 L165.97,171.58 L166.05,171.57 L166.14,171.55 L166.22,171.54 L166.30,171.52 L166.39,171.51 L166.47,171.50 L166.56,171.48 L166.64,171.47 L166.73,171.45 L166.81,171.44 L166.90,171.43 L166.98,171.41 L167.07,171.40 L167.15,171.39 L167.24,171.37 L167.32,171.36 L167.41,171.35 L167.49,171.33 L167.58,171.32 L167.66,171.31 L167.74,171.29 L167.83,171.28 L167.91,171.27 L168.00,171.25 L168.08,171.24 L168.17,171.23 L168.25,171.21 L168.34,171.20 L168.42,171.19 L168.51,171.18 L168.59,171.16 L168.68,171.15 L168.76,171.14 L168.85,171.13 L168.93,171.11 L169.02,171.10 L169.10,171.09 L169.19,171.07 L169.27,171.06 L169.35,171.05 L169.44,171.04 L169.52,171.03 L169.61,171.01 L169.69,171.00 L169.78,170.99 L169.86,170.98 L169.95,170.96 L170.03,170.95 L170.12,170.94 L170.20,170.93 L170.29,170.92 L170.37,170.90 L170.46,170.89 L170.54,170.88 L170.63,170.87 L170.71,170.86 L170.79,170.84 L170.88,170.83 L170.96,170.82 L171.05,170.81 L171.13,170.80 L171.22,170.79 L171.30,170.77 L171.39,170.76 L171.47,170.75 L171.56,170.74 L171.64,170.73 L171.73,170.72 L171.81,170.71 L171.90,170.69 L171.98,170.68 L172.07,170.67 L172.15,170.66 L172.24,170.65 L172.32,170.64 L172.40,170.63 L172.49,170.62 L172.57,170.60 L172.66,170.59 L172.74,170.58 L172.83,170.57 L172.91,170.56 L173.00,170.55 L173.08,170.54 L173.17,170.53 L173.25,170.52 L173.34,170.51 L173.42,170.50 L173.51,170.49 L173.59,170.47 L173.68,170.46 L173.76,170.45 L173.85,170.44 L173.93,170.43 L174.01,170.42 L174.10,170.41 L174.18,170.40 L174.27,170.39 L174.35,170.38 L174.44,170.37 L174.52,170.36 L174.61,170.35 L174.69,170.34 L174.78,170.33 L174.86,170.32 L174.95,170.31 L175.03,170.30 L175.12,170.29 L175.20,170.28 L175.29,170.27 L175.37,170.26 L175.45,170.25 L175.54,170.24 L175.62,170.23 L175.71,170.22 L175.79,170.21 L175.88,170.20 L175.96,170.19 L176.05,170.18 L176.13,170.17 L176.22,170.16 L176.30,170.15 L176.39,170.14 L176.47,170.13 L176.56,170.12 L176.64,170.11 L176.73,170.10 L176.81,170.09 L176.90,170.08 L176.98,170.07 L177.06,170.06 L177.15,170.05 L177.23,170.04 L177.32,170.03 L177.40,170.02 L177.49,170.01 L177.57,170.01 L177.66,170.00 L177.74,169.99 L177.83,169.98 L177.91,169.97 L178.00,169.96 L178.08,169.95 L178.17,169.94 L178.25,169.93 L178.34,169.92 L178.42,169.91 L178.50,169.90 L178.59,169.90 L178.67,169.89 L178.76,169.88 L178.84,169.87 L178.93,169.86 L179.01,169.85 L179.10,169.84 L179.18,169.83 L179.27,169.82 L179.35,169.81 L179.44,169.81 L179.52,169.80 L179.61,169.79 L179.69,169.78 L179.78,169.77 L179.86,169.76 L179.95,169.75 L180.03,169.74 L180.11,169.74 L180.20,169.73 L180.28,169.72 L180.37,169.71 L180.45,169.70 L180.54,169.69 L180.62,169.68 L180.71,169.68 L180.79,169.67 L180.88,169.66 L180.96,169.65 L181.05,169.64 L181.13,169.63 L181.22,169.63 L181.30,169.62 L181.39,169.61 L181.47,169.60 L181.56,169.59 L181.64,169.58 L181.72,169.58 L181.81,169.57 L181.89,169.56 L181.98,169.55 L182.06,169.54 L182.15,169.54 L182.23,169.53 L182.32,169.52 L182.40,169.51 L182.49,169.50 L182.57,169.50 L182.66,169.49 L182.74,169.48 L182.83,169.47 L182.91,169.46 L183.00,169.46 L183.08,169.45 L183.16,169.44 L183.25,169.43 L183.33,169.42 L183.42,169.42 L183.50,169.41 L183.59,169.40 L183.67,169.39 L183.76,169.39 L183.84,169.38 L183.93,169.37 L184.01,169.36 L184.10,169.35 L184.18,169.35 L184.27,169.34 L184.35,169.33 L184.44,169.32 L184.52,169.32 L184.61,169.31 L184.69,169.30 L184.77,169.29 L184.86,169.29 L184.94,169.28 L185.03,169.27 L185.11,169.26 L185.20,169.26 L185.28,169.25 L185.37,169.24 L185.45,169.23 L185.54,169.23 L185.62,169.22 L185.71,169.21 L185.79,169.21 L185.88,169.20 L185.96,169.19 L186.05,169.18 L186.13,169.18 L186.21,169.17 L186.30,169.16 L186.38,169.15 L186.47,169.15 L186.55,169.14 L186.64,169.13 L186.72,169.13 L186.81,169.12 L186.89,169.11 L186.98,169.10 L187.06,169.10 L187.15,169.09 L187.23,169.08 L187.32,169.08 L187.40,169.07 L187.49,169.06 L187.57,169.06 L187.66,169.05 L187.74,169.04 L187.82,169.04 L187.91,169.03 L187.99,169.02 L188.08,169.01 L188.16,169.01 L188.25,169.00 L188.33,168.99 L188.42,168.99 L188.50,168.98 L188.59,168.97 L188.67,168.97 L188.76,168.96 L188.84,168.95 L188.93,168.95 L189.01,168.94 L189.10,168.93 L189.18,168.93 L189.26,168.92 L189.35,168.91 L189.43,168.91 L189.52,168.90 L189.60,168.89 L189.69,168.89 L189.77,168.88 L189.86,168.87 L189.94,168.87 L190.03,168.86 L190.11,168.86 L190.20,168.85 L190.28,168.84 L190.37,168.84 L190.45,168.83 L190.54,168.82 L190.62,168.82 L190.71,168.81 L190.79,168.80 L190.87,168.80 L190.96,168.79 L191.04,168.78 L191.13,168.78 L191.21,168.77 L191.30,168.77 L191.38,168.76 L191.47,168.75 L191.55,168.75 L191.64,168.74 L191.72,168.73 L191.81,168.73 L191.89,168.72 L191.98,168.72 L192.06,168.71 L192.15,168.70 L192.23,168.70 L192.32,168.69 L192.40,168.69 L192.48,168.68 L192.57,168.67 L192.65,168.67 L192.74,168.66 L192.82,168.66 L192.91,168.65 L192.99,168.64 L193.08,168.64 L193.16,168.63 L193.25,168.63 L193.33,168.62 L193.42,168.61 L193.50,168.61 L193.59,168.60 L193.67,168.60 L193.76,168.59 L193.84,168.58 L193.92,168.58 L194.01,168.57 L194.09,168.57 L194.18,168.56 L194.26,168.55 L194.35,168.55 L194.43,168.54 L194.52,168.54 L194.60,168.53 L194.69,168.53 L194.77,168.52 L194.86,168.51 L194.94,168.51 L195.03,168.50 L195.11,168.50 L195.20,168.49 L195.28,168.49 L195.37,168.48 L195.45,168.47 L195.53,168.47 L195.62,168.46 L195.70,168.46 L195.79,168.45 L195.87,168.45 L195.96,168.44 L196.04,168.44 L196.13,168.43 L196.21,168.42 L196.30,168.42 L196.38,168.41 L196.47,168.41 L196.55,168.40 L196.64,168.40 L196.72,168.39 L196.81,168.39 L196.89,168.38 L196.97,168.38 L197.06,168.37 L197.14,168.36 L197.23,168.36 L197.31,168.35 L197.40,168.35 L197.48,168.34 L197.57,168.34 L197.65,168.33 L197.74,168.33 L197.82,168.32 L197.91,168.32 L197.99,168.31 L198.08,168.31 L198.16,168.30 L198.25,168.29 L198.33,168.29 L198.42,168.28 L198.50,168.28" fill="none" stroke="#00ff00" stroke-width="2" stroke-dasharray="6 4.6"/>
<g fill="#ff0000"><circle cx="29.05" cy="157.92" r="1.5"/><circle cx="29.90" cy="157.87" r="1.5"/><circle cx="30.74" cy="157.81" r="1.5"/><circle cx="31.59" cy="157.76" r="1.5"/><circle cx="32.44" cy="157.70" r="1.5"/><circle cx="33.29" cy="157.65" r="1.5"/><circle cx="34.13" cy="157.59" r="1.5"/><circle cx="34.98" cy="157.53" r="1.5"/><circle cx="35.83" cy="157.47" r="1.5"/><circle cx="36.68" cy="157.40" r="1.5"/><circle cx="37.52" cy="157.34" r="1.5"/><circle cx="38.37" cy="157.27" r="1.5"/><circle cx="39.22" cy="157.21" r="1.5"/><circle cx="40.06" cy="157.14" r="1.5"/><circle cx="40.91" cy="157.07" r="1.5"/><circle cx="41.76" cy="156.99" r="1.5"/><circle cx="42.61" cy="156.92" r="1.5"/><circle cx="43.45" cy="156.85" r="1.5"/><circle cx="44.30" cy="156.77" r="1.5"/><circle cx="45.15" cy="156.69" r="1.5"/><circle cx="46.00" cy="156.61" r="1.5"/><circle cx="46.84" cy="156.52" r="1.5"/><circle cx="47.69" cy="156.44" r="1.5"/><circle cx="48.54" cy="156.35" r="1.5"/><circle cx="49.38" cy="156.26" r="1.5"/><circle cx="50.23" cy="156.17" r="1.5"/><circle cx="51.08" cy="156.07" r="1.5"/><circle cx="51.93" cy="155.97" r="1.5"/><circle cx="52.77" cy="155.87" r="1.5"/><circle cx="53.62" cy="155.77" r="1.5"/><circle cx="54.47" cy="155.66" r="1.5"/><circle cx="55.31" cy="155.55" r="1.5"/><circle cx="56.16" cy="155.44" r="1.5"/><circle cx="57.01" cy="155.32" r="1.5"/><circle cx="57.86" cy="155.20" r="1.5"/><circle cx="58.70" cy="155.07" r="1.5"/><circle cx="59.55" cy="154.95" r="1.5"/><circle cx="60.40" cy="154.81" r="1.5"/><circle cx="61.25" cy="154.68" r="1.5"/><circle cx="62.09" cy="154.53" r="1.5"/><circle cx="62.94" cy="154.39" r="1.5"/><circle cx="63.79" cy="154.23" r="1.5"/><circle cx="64.63" cy="154.08" r="1.5"/><circle cx="65.48" cy="153.91" r="1.5"/><circle cx="66.33" cy="153.74" r="1.5"/><circle cx="67.18" cy="153.57" r="1.5"/><circle cx="68.02" cy="153.38" r="1.5"/><circle cx="68.87" cy="153.19" r="1.5"/><circle cx="69.72" cy="153.00" r="1.5"/><circle cx="70.57" cy="152.79" r="1.5"/><circle cx="71.41" cy="152.57" r="1.5"/><circle cx="72.26" cy="152.35" r="1.5"/><circle cx="73.11" cy="152.11" r="1.5"/><circle cx="73.95" cy="151.87" r="1.5"/><circle cx="74.80" cy="151.61" r="1.5"/><circle cx="75.65" cy="151.34" r="1.5"/><circle cx="76.50" cy="151.06" r="1.5"/><circle cx="77.34" cy="150.76" r="1.5"/><circle cx="78.19" cy="150.45" r="1.5"/><circle cx="79.04" cy="150.12" r="1.5"/><circle cx="79.88" cy="149.77" r="1.5"/><circle cx="80.73" cy="149.40" r="1.5"/><circle cx="81.58" cy="149.01" r="1.5"/><circle cx="82.43" cy="148.59" r="1.5"/><circle cx="83.27" cy="148.15" r="1.5"/><circle cx="84.12" cy="147.68" r="1.5"/><circle cx="84.97" cy="147.17" r="1.5"/><circle cx="85.82" cy="146.63" r="1.5"/><circle cx="86.66" cy="146.05" r="1.5"/><circle cx="87.51" cy="145.41" r="1.5"/><circle cx="88.36" cy="144.73" r="1.5"/><circle cx="89.20" cy="143.98" r="1.5"/><circle cx="90.05" cy="143.15" r="1.5"/><circle cx="90.90" cy="142.24" r="1.5"/><circle cx="91.75" cy="141.23" r="1.5"/><circle cx="92.59" cy="140.11" r="1.5"/><circle cx="93.44" cy="138.85" r="1.5"/><circle cx="94.29" cy="137.43" r="1.5"/><circle cx="95.14" cy="135.84" r="1.5"/><circle cx="95.98" cy="134.05" r="1.5"/><circle cx="96.83" cy="132.04" r="1.5"/><circle cx="97.68" cy="129.81" r="1.5"/><circle cx="98.52" cy="127.36" r="1.5"/><circle cx="99.37" cy="124.70" r="1.5"/><circle cx="100.22" cy="121.88" r="1.5"/><circle cx="101.07" cy="118.96" r="1.5"/><circle cx="101.91" cy="116.05" r="1.5"/><circle cx="102.76" cy="113.28" r="1.5"/><circle cx="103.61" cy="110.82" r="1.5"/><circle cx="104.46" cy="108.87" r="1.5"/><circle cx="105.30" cy="107.65" r="1.5"/><circle cx="106.15" cy="107.37" r="1.5"/><circle cx="107.00" cy="108.26" r="1.5"/><circle cx="107.84" cy="110.49" r="1.5"/><circle cx="108.69" cy="114.17" r="1.5"/><circle cx="109.54" cy="119.36" r="1.5"/><circle cx="110.39" cy="126.00" r="1.5"/><circle cx="111.23" cy="133.97" r="1.5"/><circle cx="112.08" cy="143.03" r="1.5"/><circle cx="112.93" cy="152.86" r="1.5"/><circle cx="113.77" cy="163.10" r="1.5"/><circle cx="114.62" cy="173.34" r="1.5"/><circle cx="115.47" cy="183.17" r="1.5"/><circle cx="116.32" cy="192.23" r="1.5"/><circle cx="117.16" cy="200.20" r="1.5"/><circle cx="118.01" cy="206.84" r="1.5"/><circle cx="118.86" cy="212.03" r="1.5"/><circle cx="119.71" cy="215.71" r="1.5"/><circle cx="120.55" cy="217.94" r="1.5"/><circle cx="121.40" cy="218.83" r="1.5"/><circle cx="122.25" cy="218.55" r="1.5"/><circle cx="123.09" cy="217.33" r="1.5"/><circle cx="123.94" cy="215.38" r="1.5"/><circle cx="124.79" cy="212.92" r="1.5"/><circle cx="125.64" cy="210.15" r="1.5"/><circle cx="126.48" cy="207.24" r="1.5"/><circle cx="127.33" cy="204.32" r="1.5"/><circle cx="128.18" cy="201.50" r="1.5"/><circle cx="129.03" cy="198.84" r="1.5"/><circle cx="129.87" cy="196.39" r="1.5"/><circle cx="130.72" cy="194.16" r="1.5"/><circle cx="131.57" cy="192.15" r="1.5"/><circle cx="132.41" cy="190.36" r="1.5"/><circle cx="133.26" cy="188.77" r="1.5"/><circle cx="134.11" cy="187.35" r="1.5"/><circle cx="134.96" cy="186.09" r="1.5"/><circle cx="135.80" cy="184.97" r="1.5"/><circle cx="136.65" cy="183.96" r="1.5"/><circle cx="137.50" cy="183.05" r="1.5"/><circle cx="138.35" cy="182.22" r="1.5"/><circle cx="139.19" cy="181.47" r="1.5"/><circle cx="140.04" cy="180.79" r="1.5"/><circle cx="140.89" cy="180.15" r="1.5"/><circle cx="141.73" cy="179.57" r="1.5"/><circle cx="142.58" cy="179.03" r="1.5"/><circle cx="143.43" cy="178.52" r="1.5"/><circle cx="144.28" cy="178.05" r="1.5"/><circle cx="145.12" cy="177.61" r="1.5"/><circle cx="145.97" cy="177.19" r="1.5"/><circle cx="146.82" cy="176.80" r="1.5"/><circle cx="147.66" cy="176.43" r="1.5"/><circle cx="148.51" cy="176.08" r="1.5"/><circle cx="149.36" cy="175.75" r="1.5"/><circle cx="150.21" cy="175.44" r="1.5"/><circle cx="151.05" cy="175.14" r="1.5"/><circle cx="151.90" cy="174.86" r="1.5"/><circle cx="152.75" cy="174.59" r="1.5"/><circle cx="153.60" cy="174.33" r="1.5"/><circle cx="154.44" cy="174.09" r="1.5"/><circle cx="155.29" cy="173.85" r="1.5"/><circle cx="156.14" cy="173.63" r="1.5"/><circle cx="156.98" cy="173.41" r="1.5"/><circle cx="157.83" cy="173.20" r="1.5"/><circle cx="158.68" cy="173.01" r="1.5"/><circle cx="159.53" cy="172.82" r="1.5"/><circle cx="160.37" cy="172.63" r="1.5"/><circle cx="161.22" cy="172.46" r="1.5"/><circle cx="162.07" cy="172.29" r="1.5"/><circle cx="162.92" cy="172.12" r="1.5"/><circle cx="163.76" cy="171.97" r="1.5"/><circle cx="164.61" cy="171.81" r="1.5"/><circle cx="165.46" cy="171.67" r="1.5"/><circle cx="166.30" cy="171.52" r="1.5"/><circle cx="167.15" cy="171.39" r="1.5"/><circle cx="168.00" cy="171.25" r="1.5"/><circle cx="168.85" cy="171.13" r="1.5"/><circle cx="169.69" cy="171.00" r="1.5"/><circle cx="170.54" cy="170.88" r="1.5"/><circle cx="171.39" cy="170.76" r="1.5"/><circle cx="172.24" cy="170.65" r="1.5"/><circle cx="173.08" cy="170.54" r="1.5"/><circle cx="173.93" cy="170.43" r="1.5"/><circle cx="174.78" cy="170.33" r="1.5"/><circle cx="175.62" cy="170.23" r="1.5"/><circle cx="176.47" cy="170.13" r="1.5"/><circle cx="177.32" cy="170.03" r="1.5"/><circle cx="178.17" cy="169.94" r="1.5"/><circle cx="179.01" cy="169.85" r="1.5"/><circle cx="179.86" cy="169.76" r="1.5"/><circle cx="180.71" cy="169.68" r="1.5"/><circle cx="181.56" cy="169.59" r="1.5"/><circle cx="182.40" cy="169.51" r="1.5"/><circle cx="183.25" cy="169.43" r="1.5"/><circle cx="184.10" cy="169.35" r="1.5"/><circle cx="184.94" cy="169.28" r="1.5"/><circle cx="185.79" cy="169.21" r="1.5"/><circle cx="186.64" cy="169.13" r="1.5"/><circle cx="187.49" cy="169.06" r="1.5"/><circle cx="188.33" cy="168.99" r="1.5"/><circle cx="189.18" cy="168.93" r="1.5"/><circle cx="190.03" cy="168.86" r="1.5"/><circle cx="190.87" cy="168.80" r="1.5"/><circle cx="191.72" cy="168.73" r="1.5"/><circle cx="192.57" cy="168.67" r="1.5"/><circle cx="193.42" cy="168.61" r="1.5"/><circle cx="194.26" cy="168.55" r="1.5"/><circle cx="195.11" cy="168.50" r="1.5"/><circle cx="195.96" cy="168.44" r="1.5"/><circle cx="196.81" cy="168.39" r="1.5"/><circle cx="197.65" cy="168.33" r="1.5"/><circle cx="198.50" cy="168.28" r="1.5"/></g>
<path d="M29.05,162.58 L29.13,162.58 L29.22,162.57 L29.30,162.57 L29.39,162.57 L29.47,162.57 L29.56,162.57 L29.64,162.57 L29.73,162.57 L29.81,162.57 L29.90,162.57 L29.98,162.56 L30.07,162.56 L30.15,162.56 L30.24,162.56 L30.32,162.56 L30.41,162.56 L30.49,162.56 L30.58,162.56 L30.66,162.56 L30.74,162.55 L30.83,162.55 L30.91,162.55 L31.00,162.55 L31.08,162.55 L31.17,162.55 L31.25,162.55 L31.34,162.55 L31.42,162.55 L31.51,162.54 L31.59,162.54 L31.68,162.54 L31.76,162.54 L31.85,162.54 L31.93,162.54 L32.02,162.54 L32.10,162.54 L32.18,162.54 L32.27,162.53 L32.35,162.53 L32.44,162.53 L32.52,162.53 L32.61,162.53 L32.69,162.53 L32.78,162.53 L32.86,162.53 L32.95,162.52 L33.03,162.52 L33.12,162.52 L33.20,162.52 L33.29,162.52 L33.37,162.52 L33.46,162.52 L33.54,162.52 L33.63,162.51 L33.71,162.51 L33.79,162.51 L33.88,162.51 L33.96,162.51 L34.05,162.51 L34.13,162.51 L34.22,162.51 L34.30,162.50 L34.39,162.50 L34.47,162.50 L34.56,162.50 L34.64,162.50 L34.73,162.50 L34.81,162.50 L34.90,162.49 L34.98,162.49 L35.07,162.49 L35.15,162.49 L35.23,162.49 L35.32,162.49 L35.40,162.49 L35.49,162.49 L35.57,162.48 L35.66,162.48 L35.74,162.48 L35.83,162.48 L35.91,162.48 L36.00,162.48 L36.08,162.48 L36.17,162.47 L36.25,162.47 L36.34,162.47 L36.42,162.47 L36.51,162.47 L36.59,162.47 L36.68,162.47 L36.76,162.46 L36.84,162.46 L36.93,162.46 L37.01,162.46 L37.10,162.46 L37.18,162.46 L37.27,162.46 L37.35,162.45 L37.44,162.45 L37.52,162.45 L37.61,162.45 L37.69,162.45 L37.78,162.45 L37.86,162.45 L37.95,162.44 L38.03,162.44 L38.12,162.44 L38.20,162.44 L38.29,162.44 L38.37,162.44 L38.45,162.44 L38.54,162.43 L38.62,162.43 L38.71,162.43 L38.79,162.43 L38.88,162.43 L38.96,162.43 L39.05,162.42 L39.13,162.42 L39.22,162.42 L39.30,162.42 L39.39,162.42 L39.47,162.42 L39.56,162.41 L39.64,162.41 L39.73,162.41 L39.81,162.41 L39.89,162.41 L39.98,162.41 L40.06,162.41 L40.15,162.40 L40.23,162.40 L40.32,162.40 L40.40,162.40 L40.49,162.40 L40.57,162.40 L40.66,162.39 L40.74,162.39 L40.83,162.39 L40.91,162.39 L41.00,162.39 L41.08,162.39 L41.17,162.38 L41.25,162.38 L41.34,162.38 L41.42,162.38 L41.50,162.38 L41.59,162.37 L41.67,162.37 L41.76,162.37 L41.84,162.37 L41.93,162.37 L42.01,162.37 L42.10,162.36 L42.18,162.36 L42.27,162.36 L42.35,162.36 L42.44,162.36 L42.52,162.36 L42.61,162.35 L42.69,162.35 L42.78,162.35 L42.86,162.35 L42.94,162.35 L43.03,162.34 L43.11,162.34 L43.20,162.34 L43.28,162.34 L43.37,162.34 L43.45,162.34 L43.54,162.33 L43.62,162.33 L43.71,162.33 L43.79,162.33 L43.88,162.33 L43.96,162.32 L44.05,162.32 L44.13,162.32 L44.22,162.32 L44.30,162.32 L44.39,162.31 L44.47,162.31 L44.55,162.31 L44.64,162.31 L44.72,162.31 L44.81,162.30 L44.89,162.30 L44.98,162.30 L45.06,162.30 L45.15,162.30 L45.23,162.29 L45.32,162.29 L45.40,162.29 L45.49,162.29 L45.57,162.29 L45.66,162.28 L45.74,162.28 L45.83,162.28 L45.91,162.28 L46.00,162.28 L46.08,162.27 L46.16,162.27 L46.25,162.27 L46.33,162.27 L46.42,162.26 L46.50,162.26 L46.59,162.26 L46.67,162.26 L46.76,162.26 L46.84,162.25 L46.93,162.25 L47.01,162.25 L47.10,162.25 L47.18,162.24 L47.27,162.24 L47.35,162.24 L47.44,162.24 L47.52,162.24 L47.60,162.23 L47.69,162.23 L47.77,162.23 L47.86,162.23 L47.94,162.22 L48.03,162.22 L48.11,162.22 L48.20,162.22 L48.28,162.22 L48.37,162.21 L48.45,162.21 L48.54,162.21 L48.62,162.21 L48.71,162.20 L48.79,162.20 L48.88,162.20 L48.96,162.20 L49.05,162.19 L49.13,162.19 L49.21,162.19 L49.30,162.19 L49.38,162.18 L49.47,162.18 L49.55,162.18 L49.64,162.18 L49.72,162.17 L49.81,162.17 L49.89,162.17 L49.98,162.17 L50.06,162.16 L50.15,162.16 L50.23,162.16 L50.32,162.16 L50.40,162.15 L50.49,162.15 L50.57,162.15 L50.65,162.15 L50.74,162.14 L50.82,162.14 L50.91,162.14 L50.99,162.13 L51.08,162.13 L51.16,162.13 L51.25,162.13 L51.33,162.12 L51.42,162.12 L51.50,162.12 L51.59,162.12 L51.67,162.11 L51.76,162.11 L51.84,162.11 L51.93,162.10 L52.01,162.10 L52.10,162.10 L52.18,162.10 L52.26,162.09 L52.35,162.09 L52.43,162.09 L52.52,162.08 L52.60,162.08 L52.69,162.08 L52.77,162.08 L52.86,162.07 L52.94,162.07 L53.03,162.07 L53.11,162.06 L53.20,162.06 L53.28,162.06 L53.37,162.05 L53.45,162.05 L53.54,162.05 L53.62,162.05 L53.70,162.04 L53.79,162.04 L53.87,162.04 L53.96,162.03 L54.04,162.03 L54.13,162.03 L54.21,162.02 L54.30,162.02 L54.38,162.02 L54.47,162.01 L54.55,162.01 L54.64,162.01 L54.72,162.00 L54.81,162.00 L54.89,162.00 L54.98,161.99 L55.06,161.99 L55.15,161.99 L55.23,161.98 L55.31,161.98 L55.40,161.98 L55.48,161.97 L55.57,161.97 L55.65,161.97 L55.74,161.96 L55.82,161.96 L55.91,161.96 L55.99,161.95 L56.08,161.95 L56.16,161.95 L56.25,161.94 L56.33,161.94 L56.42,161.94 L56.50,161.93 L56.59,161.93 L56.67,161.93 L56.76,161.92 L56.84,161.92 L56.92,161.92 L57.01,161.91 L57.09,161.91 L57.18,161.90 L57.26,161.90 L57.35,161.90 L57.43,161.89 L57.52,161.89 L57.60,161.89 L57.69,161.88 L57.77,161.88 L57.86,161.87 L57.94,161.87 L58.03,161.87 L58.11,161.86 L58.20,161.86 L58.28,161.85 L58.36,161.85 L58.45,161.85 L58.53,161.84 L58.62,161.84 L58.70,161.83 L58.79,161.83 L58.87,161.83 L58.96,161.82 L59.04,161.82 L59.13,161.81 L59.21,161.81 L59.30,161.81 L59.38,161.80 L59.47,161.80 L59.55,161.79 L59.64,161.79 L59.72,161.78 L59.81,161.78 L59.89,161.78 L59.97,161.77 L60.06,161.77 L60.14,161.76 L60.23,161.76 L60.31,161.75 L60.40,161.75 L60.48,161.74 L60.57,161.74 L60.65,161.74 L60.74,161.73 L60.82,161.73 L60.91,161.72 L60.99,161.72 L61.08,161.71 L61.16,161.71 L61.25,161.70 L61.33,161.70 L61.41,161.69 L61.50,161.69 L61.58,161.68 L61.67,161.68 L61.75,161.67 L61.84,161.67 L61.92,161.67 L62.01,161.66 L62.09,161.66 L62.18,161.65 L62.26,161.65 L62.35,161.64 L62.43,161.64 L62.52,161.63 L62.60,161.63 L62.69,161.62 L62.77,161.61 L62.86,161.61 L62.94,161.60 L63.02,161.60 L63.11,161.59 L63.19,161.59 L63.28,161.58 L63.36,161.58 L63.45,161.57 L63.53,161.57 L63.62,161.56 L63.70,161.56 L63.79,161.55 L63.87,161.55 L63.96,161.54 L64.04,161.53 L64.13,161.53 L64.21,161.52 L64.30,161.52 L64.38,161.51 L64.47,161.51 L64.55,161.50 L64.63,161.49 L64.72,161.49 L64.80,161.48 L64.89,161.48 L64.97,161.47 L65.06,161.46 L65.14,161.46 L65.23,161.45 L65.31,161.45 L65.40,161.44 L65.48,161.43 L65.57,161.43 L65.65,161.42 L65.74,161.42 L65.82,161.41 L65.91,161.40 L65.99,161.40 L66.07,161.39 L66.16,161.38 L66.24,161.38 L66.33,161.37 L66.41,161.36 L66.50,161.36 L66.58,161.35 L66.67,161.34 L66.75,161.34 L66.84,161.33 L66.92,161.32 L67.01,161.32 L67.09,161.31 L67.18,161.30 L67.26,161.30 L67.35,161.29 L67.43,161.28 L67.52,161.28 L67.60,161.27 L67.68,161.26 L67.77,161.25 L67.85,161.25 L67.94,161.24 L68.02,161.23 L68.11,161.23 L68.19,161.22 L68.28,161.21 L68.36,161.20 L68.45,161.20 L68.53,161.19 L68.62,161.18 L68.70,161.17 L68.79,161.17 L68.87,161.16 L68.96,161.15 L69.04,161.14 L69.12,161.13 L69.21,161.13 L69.29,161.12 L69.38,161.11 L69.46,161.10 L69.55,161.09 L69.63,161.09 L69.72,161.08 L69.80,161.07 L69.89,161.06 L69.97,161.05 L70.06,161.04 L70.14,161.04 L70.23,161.03 L70.31,161.02 L70.40,161.01 L70.48,161.00 L70.57,160.99 L70.65,160.98 L70.73,160.97 L70.82,160.97 L70.90,160.96 L70.99,160.95 L71.07,160.94 L71.16,160.93 L71.24,160.92 L71.33,160.91 L71.41,160.90 L71.50,160.89 L71.58,160.88 L71.67,160.87 L71.75,160.86 L71.84,160.85 L71.92,160.84 L72.01,160.83 L72.09,160.82 L72.18,160.81 L72.26,160.80 L72.34,160.79 L72.43,160.78 L72.51,160.77 L72.60,160.76 L72.68,160.75 L72.77,160.74 L72.85,160.73 L72.94,160.72 L73.02,160.71 L73.11,160.70 L73.19,160.69 L73.28,160.68 L73.36,160.67 L73.45,160.66 L73.53,160.64 L73.62,160.63 L73.70,160.62 L73.78,160.61 L73.87,160.60 L73.95,160.59 L74.04,160.58 L74.12,160.56 L74.21,160.55 L74.29,160.54 L74.38,160.53 L74.46,160.52 L74.55,160.50 L74.63,160.49 L74.72,160.48 L74.80,160.47 L74.89,160.45 L74.97,160.44 L75.06,160.43 L75.14,160.42 L75.23,160.40 L75.31,160.39 L75.39,160.38 L75.48,160.36 L75.56,160.35 L75.65,160.34 L75.73,160.32 L75.82,160.31 L75.90,160.30 L75.99,160.28 L76.07,160.27 L76.16,160.26 L76.24,160.24 L76.33,160.23 L76.41,160.21 L76.50,160.20 L76.58,160.18 L76.67,160.17 L76.75,160.16 L76.83,160.14 L76.92,160.13 L77.00,160.11 L77.09,160.09 L77.17,160.08 L77.26,160.06 L77.34,160.05 L77.43,160.03 L77.51,160.02 L77.60,160.00 L77.68,159.98 L77.77,159.97 L77.85,159.95 L77.94,159.94 L78.02,159.92 L78.11,159.90 L78.19,159.89 L78.28,159.87 L78.36,159.85 L78.44,159.83 L78.53,159.82 L78.61,159.80 L78.70,159.78 L78.78,159.76 L78.87,159.74 L78.95,159.73 L79.04,159.71 L79.12,159.69 L79.21,159.67 L79.29,159.65 L79.38,159.63 L79.46,159.61 L79.55,159.59 L79.63,159.57 L79.72,159.56 L79.80,159.54 L79.88,159.52 L79.97,159.49 L80.05,159.47 L80.14,159.45 L80.22,159.43 L80.31,159.41 L80.39,159.39 L80.48,159.37 L80.56,159.35 L80.65,159.33 L80.73,159.30 L80.82,159.28 L80.90,159.26 L80.99,159.24 L81.07,159.21 L81.16,159.19 L81.24,159.17 L81.33,159.14 L81.41,159.12 L81.49,159.10 L81.58,159.07 L81.66,159.05 L81.75,159.02 L81.83,159.00 L81.92,158.97 L82.00,158.95 L82.09,158.92 L82.17,158.90 L82.26,158.87 L82.34,158.84 L82.43,158.82 L82.51,158.79 L82.60,158.76 L82.68,158.74 L82.77,158.71 L82.85,158.68 L82.94,158.65 L83.02,158.62 L83.10,158.59 L83.19,158.56 L83.27,158.53 L83.36,158.50 L83.44,158.47 L83.53,158.44 L83.61,158.41 L83.70,158.38 L83.78,158.35 L83.87,158.32 L83.95,158.29 L84.04,158.25 L84.12,158.22 L84.21,158.19 L84.29,158.15 L84.38,158.12 L84.46,158.08 L84.54,158.05 L84.63,158.01 L84.71,157.98 L84.80,157.94 L84.88,157.91 L84.97,157.87 L85.05,157.83 L85.14,157.79 L85.22,157.75 L85.31,157.72 L85.39,157.68 L85.48,157.64 L85.56,157.60 L85.65,157.56 L85.73,157.51 L85.82,157.47 L85.90,157.43 L85.99,157.39 L86.07,157.34 L86.15,157.30 L86.24,157.26 L86.32,157.21 L86.41,157.16 L86.49,157.12 L86.58,157.07 L86.66,157.02 L86.75,156.98 L86.83,156.93 L86.92,156.88 L87.00,156.83 L87.09,156.78 L87.17,156.73 L87.26,156.67 L87.34,156.62 L87.43,156.57 L87.51,156.51 L87.59,156.46 L87.68,156.40 L87.76,156.34 L87.85,156.29 L87.93,156.23 L88.02,156.17 L88.10,156.11 L88.19,156.05 L88.27,155.99 L88.36,155.92 L88.44,155.86 L88.53,155.80 L88.61,155.73 L88.70,155.66 L88.78,155.60 L88.87,155.53 L88.95,155.46 L89.04,155.39 L89.12,155.32 L89.20,155.24 L89.29,155.17 L89.37,155.10 L89.46,155.02 L89.54,154.94 L89.63,154.86 L89.71,154.79 L89.80,154.70 L89.88,154.62 L89.97,154.54 L90.05,154.45 L90.14,154.37 L90.22,154.28 L90.31,154.19 L90.39,154.10 L90.48,154.01 L90.56,153.92 L90.65,153.83 L90.73,153.73 L90.81,153.63 L90.90,153.53 L90.98,153.43 L91.07,153.33 L91.15,153.23 L91.24,153.12 L91.32,153.02 L91.41,152.91 L91.49,152.80 L91.58,152.69 L91.66,152.57 L91.75,152.46 L91.83,152.34 L91.92,152.22 L92.00,152.10 L92.09,151.98 L92.17,151.86 L92.25,151.73 L92.34,151.60 L92.42,151.47 L92.51,151.34 L92.59,151.20 L92.68,151.07 L92.76,150.93 L92.85,150.79 L92.93,150.65 L93.02,150.51 L93.10,150.36 L93.19,150.21 L93.27,150.06 L93.36,149.91 L93.44,149.75 L93.53,149.60 L93.61,149.44 L93.70,149.28 L93.78,149.11 L93.86,148.95 L93.95,148.78 L94.03,148.61 L94.12,148.44 L94.20,148.27 L94.29,148.09 L94.37,147.91 L94.46,147.73 L94.54,147.55 L94.63,147.36 L94.71,147.18 L94.80,146.99 L94.88,146.80 L94.97,146.61 L95.05,146.41 L95.14,146.21 L95.22,146.02 L95.30,145.81 L95.39,145.61 L95.47,145.41 L95.56,145.20 L95.64,144.99 L95.73,144.78 L95.81,144.57 L95.90,144.36 L95.98,144.15 L96.07,143.93 L96.15,143.71 L96.24,143.49 L96.32,143.27 L96.41,143.05 L96.49,142.83 L96.58,142.61 L96.66,142.39 L96.75,142.16 L96.83,141.94 L96.91,141.71 L97.00,141.48 L97.08,141.26 L97.17,141.03 L97.25,140.80 L97.34,140.58 L97.42,140.35 L97.51,140.12 L97.59,139.90 L97.68,139.67 L97.76,139.45 L97.85,139.23 L97.93,139.01 L98.02,138.78 L98.10,138.57 L98.19,138.35 L98.27,138.13 L98.36,137.92 L98.44,137.71 L98.52,137.50 L98.61,137.30 L98.69,137.09 L98.78,136.90 L98.86,136.70 L98.95,136.51 L99.03,136.32 L99.12,136.14 L99.20,135.96 L99.29,135.78 L99.37,135.61 L99.46,135.45 L99.54,135.29 L99.63,135.14 L99.71,134.99 L99.80,134.85 L99.88,134.72 L99.96,134.59 L100.05,134.48 L100.13,134.37 L100.22,134.26 L100.30,134.17 L100.39,134.08 L100.47,134.01 L100.56,133.94 L100.64,133.88 L100.73,133.84 L100.81,133.80 L100.90,133.77 L100.98,133.76 L101.07,133.75 L101.15,133.76 L101.24,133.78 L101.32,133.82 L101.41,133.86 L101.49,133.92 L101.57,133.99 L101.66,134.08 L101.74,134.18 L101.83,134.30 L101.91,134.43 L102.00,134.57 L102.08,134.73 L102.17,134.91 L102.25,135.11 L102.34,135.32 L102.42,135.54 L102.51,135.79 L102.59,136.05 L102.68,136.33 L102.76,136.63 L102.85,136.95 L102.93,137.28 L103.01,137.64 L103.10,138.02 L103.18,138.41 L103.27,138.82 L103.35,139.26 L103.44,139.72 L103.52,140.19 L103.61,140.69 L103.69,141.21 L103.78,141.75 L103.86,142.31 L103.95,142.89 L104.03,143.50 L104.12,144.12 L104.20,144.77 L104.29,145.44 L104.37,146.14 L104.46,146.85 L104.54,147.59 L104.62,148.35 L104.71,149.14 L104.79,149.94 L104.88,150.77 L104.96,151.62 L105.05,152.50 L105.13,153.39 L105.22,154.31 L105.30,155.25 L105.39,156.21 L105.47,157.20 L105.56,158.21 L105.64,159.24 L105.73,160.29 L105.81,161.36 L105.90,162.45 L105.98,163.56 L106.07,164.70 L106.15,165.85 L106.23,167.03 L106.32,168.22 L106.40,169.43 L106.49,170.66 L106.57,171.91 L106.66,173.18 L106.74,174.46 L106.83,175.77 L106.91,177.08 L107.00,178.42 L107.08,179.77 L107.17,181.13 L107.25,182.51 L107.34,183.90 L107.42,185.31 L107.51,186.72 L107.59,188.15 L107.67,189.59 L107.76,191.04 L107.84,192.50 L107.93,193.97 L108.01,195.45 L108.10,196.93 L108.18,198.42 L108.27,199.91 L108.35,201.41 L108.44,202.92 L108.52,204.43 L108.61,205.93 L108.69,207.45 L108.78,208.96 L108.86,210.47 L108.95,211.97 L109.03,213.48 L109.12,214.98 L109.20,216.48 L109.28,217.98 L109.37,219.46 L109.45,220.95 L109.54,222.42 L109.62,223.88 L109.71,225.33 L109.79,226.78 L109.88,228.21 L109.96,229.62 L110.05,231.03 L110.13,232.42 L110.22,233.79 L110.30,235.15 L110.39,236.48 L110.47,237.80 L110.56,239.10 L110.64,240.38 L110.72,241.64 L110.81,242.87 L110.89,244.09 L110.98,245.27 L111.06,246.44 L111.15,247.57 L111.23,248.68 L111.32,249.77 L111.40,250.82 L111.49,251.84 L111.57,252.84 L111.66,253.80 L111.74,254.73 L111.83,255.63 L111.91,256.50 L112.00,257.33 L112.08,258.13 L112.17,258.90 L112.25,259.62 L112.33,260.32 L112.42,260.97 L112.50,261.59 L112.59,262.17 L112.67,262.72 L112.76,263.22 L112.84,263.69 L112.93,264.11 L113.01,264.50 L113.10,264.85 L113.18,265.15 L113.27,265.42 L113.35,265.65 L113.44,265.83 L113.52,265.97 L113.61,266.08 L113.69,266.14 L113.77,266.16 L113.86,266.14 L113.94,266.08 L114.03,265.97 L114.11,265.83 L114.20,265.65 L114.28,265.42 L114.37,265.15 L114.45,264.85 L114.54,264.50 L114.62,264.11 L114.71,263.69 L114.79,263.22 L114.88,262.72 L114.96,262.17 L115.05,261.59 L115.13,260.97 L115.22,260.32 L115.30,259.62 L115.38,258.90 L115.47,258.13 L115.55,257.33 L115.64,256.50 L115.72,255.63 L115.81,254.73 L115.89,253.80 L115.98,252.84 L116.06,251.84 L116.15,250.82 L116.23,249.77 L116.32,248.68 L116.40,247.57 L116.49,246.44 L116.57,245.27 L116.66,244.09 L116.74,242.87 L116.83,241.64 L116.91,240.38 L116.99,239.10 L117.08,237.80 L117.16,236.48 L117.25,235.15 L117.33,233.79 L117.42,232.42 L117.50,231.03 L117.59,229.62 L117.67,228.21 L117.76,226.78 L117.84,225.33 L117.93,223.88 L118.01,222.42 L118.10,220.95 L118.18,219.46 L118.27,217.98 L118.35,216.48 L118.43,214.98 L118.52,213.48 L118.60,211.97 L118.69,210.47 L118.77,208.96 L118.86,207.45 L118.94,205.93 L119.03,204.43 L119.11,202.92 L119.20,201.41 L119.28,199.91 L119.37,198.42 L119.45,196.93 L119.54,195.45 L119.62,193.97 L119.71,192.50 L119.79,191.04 L119.88,189.59 L119.96,188.15 L120.04,186.72 L120.13,185.31 L120.21,183.90 L120.30,182.51 L120.38,181.13 L120.47,179.77 L120.55,178.42 L120.64,177.08 L120.72,175.77 L120.81,174.46 L120.89,173.18 L120.98,171.91 L121.06,170.66 L121.15,169.43 L121.23,168.22 L121.32,167.03 L121.40,165.85 L121.48,164.70 L121.57,163.56 L121.65,162.45 L121.74,161.36 L121.82,160.29 L121.91,159.24 L121.99,158.21 L122.08,157.20 L122.16,156.21 L122.25,155.25 L122.33,154.31 L122.42,153.39 L122.50,152.50 L122.59,151.62 L122.67,150.77 L122.76,149.94 L122.84,149.14 L122.93,148.35 L123.01,147.59 L123.09,146.85 L123.18,146.14 L123.26,145.44 L123.35,144.77 L123.43,144.12 L123.52,143.50 L123.60,142.89 L123.69,142.31 L123.77,141.75 L123.86,141.21 L123.94,140.69 L124.03,140.19 L124.11,139.72 L124.20,139.26 L124.28,138.82 L124.37,138.41 L124.45,138.02 L124.54,137.64 L124.62,137.28 L124.70,136.95 L124.79,136.63 L124.87,136.33 L124.96,136.05 L125.04,135.79 L125.13,135.54 L125.21,135.32 L125.30,135.11 L125.38,134.91 L125.47,134.73 L125.55,134.57 L125.64,134.43 L125.72,134.30 L125.81,134.18 L125.89,134.08 L125.98,133.99 L126.06,133.92 L126.14,133.86 L126.23,133.82 L126.31,133.78 L126.40,133.76 L126.48,133.75 L126.57,133.76 L126.65,133.77 L126.74,133.80 L126.82,133.84 L126.91,133.88 L126.99,133.94 L127.08,134.01 L127.16,134.08 L127.25,134.17 L127.33,134.26 L127.42,134.37 L127.50,134.48 L127.59,134.59 L127.67,134.72 L127.75,134.85 L127.84,134.99 L127.92,135.14 L128.01,135.29 L128.09,135.45 L128.18,135.61 L128.26,135.78 L128.35,135.96 L128.43,136.14 L128.52,136.32 L128.60,136.51 L128.69,136.70 L128.77,136.90 L128.86,137.09 L128.94,137.30 L129.03,137.50 L129.11,137.71 L129.19,137.92 L129.28,138.13 L129.36,138.35 L129.45,138.57 L129.53,138.78 L129.62,139.01 L129.70,139.23 L129.79,139.45 L129.87,139.67 L129.96,139.90 L130.04,140.12 L130.13,140.35 L130.21,140.58 L130.30,140.80 L130.38,141.03 L130.47,141.26 L130.55,141.48 L130.64,141.71 L130.72,141.94 L130.80,142.16 L130.89,142.39 L130.97,142.61 L131.06,142.83 L131.14,143.05 L131.23,143.27 L131.31,143.49 L131.40,143.71 L131.48,143.93 L131.57,144.15 L131.65,144.36 L131.74,144.57 L131.82,144.78 L131.91,144.99 L131.99,145.20 L132.08,145.41 L132.16,145.61 L132.25,145.81 L132.33,146.02 L132.41,146.21 L132.50,146.41 L132.58,146.61 L132.67,146.80 L132.75,146.99 L132.84,147.18 L132.92,147.36 L133.01,147.55 L133.09,147.73 L133.18,147.91 L133.26,148.09 L133.35,148.27 L133.43,148.44 L133.52,148.61 L133.60,148.78 L133.69,148.95 L133.77,149.11 L133.85,149.28 L133.94,149.44 L134.02,149.60 L134.11,149.75 L134.19,149.91 L134.28,150.06 L134.36,150.21 L134.45,150.36 L134.53,150.51 L134.62,150.65 L134.70,150.79 L134.79,150.93 L134.87,151.07 L134.96,151.20 L135.04,151.34 L135.13,151.47 L135.21,151.60 L135.30,151.73 L135.38,151.86 L135.46,151.98 L135.55,152.10 L135.63,152.22 L135.72,152.34 L135.80,152.46 L135.89,152.57 L135.97,152.69 L136.06,152.80 L136.14,152.91 L136.23,153.02 L136.31,153.12 L136.40,153.23 L136.48,153.33 L136.57,153.43 L136.65,153.53 L136.74,153.63 L136.82,153.73 L136.90,153.83 L136.99,153.92 L137.07,154.01 L137.16,154.10 L137.24,154.19 L137.33,154.28 L137.41,154.37 L137.50,154.45 L137.58,154.54 L137.67,154.62 L137.75,154.70 L137.84,154.79 L137.92,154.86 L138.01,154.94 L138.09,155.02 L138.18,155.10 L138.26,155.17 L138.35,155.24 L138.43,155.32 L138.51,155.39 L138.60,155.46 L138.68,155.53 L138.77,155.60 L138.85,155.66 L138.94,155.73 L139.02,155.80 L139.11,155.86 L139.19,155.92 L139.28,155.99 L139.36,156.05 L139.45,156.11 L139.53,156.17 L139.62,156.23 L139.70,156.29 L139.79,156.34 L139.87,156.40 L139.96,156.46 L140.04,156.51 L140.12,156.57 L140.21,156.62 L140.29,156.67 L140.38,156.73 L140.46,156.78 L140.55,156.83 L140.63,156.88 L140.72,156.93 L140.80,156.98 L140.89,157.02 L140.97,157.07 L141.06,157.12 L141.14,157.16 L141.23,157.21 L141.31,157.26 L141.40,157.30 L141.48,157.34 L141.56,157.39 L141.65,157.43 L141.73,157.47 L141.82,157.51 L141.90,157.56 L141.99,157.60 L142.07,157.64 L142.16,157.68 L142.24,157.72 L142.33,157.75 L142.41,157.79 L142.50,157.83 L142.58,157.87 L142.67,157.91 L142.75,157.94 L142.84,157.98 L142.92,158.01 L143.01,158.05 L143.09,158.08 L143.17,158.12 L143.26,158.15 L143.34,158.19 L143.43,158.22 L143.51,158.25 L143.60,158.29 L143.68,158.32 L143.77,158.35 L143.85,158.38 L143.94,158.41 L144.02,158.44 L144.11,158.47 L144.19,158.50 L144.28,158.53 L144.36,158.56 L144.45,158.59 L144.53,158.62 L144.61,158.65 L144.70,158.68 L144.78,158.71 L144.87,158.74 L144.95,158.76 L145.04,158.79 L145.12,158.82 L145.21,158.84 L145.29,158.87 L145.38,158.90 L145.46,158.92 L145.55,158.95 L145.63,158.97 L145.72,159.00 L145.80,159.02 L145.89,159.05 L145.97,159.07 L146.06,159.10 L146.14,159.12 L146.22,159.14 L146.31,159.17 L146.39,159.19 L146.48,159.21 L146.56,159.24 L146.65,159.26 L146.73,159.28 L146.82,159.30 L146.90,159.33 L146.99,159.35 L147.07,159.37 L147.16,159.39 L147.24,159.41 L147.33,159.43 L147.41,159.45 L147.50,159.47 L147.58,159.49 L147.66,159.52 L147.75,159.54 L147.83,159.56 L147.92,159.57 L148.00,159.59 L148.09,159.61 L148.17,159.63 L148.26,159.65 L148.34,159.67 L148.43,159.69 L148.51,159.71 L148.60,159.73 L148.68,159.74 L148.77,159.76 L148.85,159.78 L148.94,159.80 L149.02,159.82 L149.11,159.83 L149.19,159.85 L149.27,159.87 L149.36,159.89 L149.44,159.90 L149.53,159.92 L149.61,159.94 L149.70,159.95 L149.78,159.97 L149.87,159.98 L149.95,160.00 L150.04,160.02 L150.12,160.03 L150.21,160.05 L150.29,160.06 L150.38,160.08 L150.46,160.09 L150.55,160.11 L150.63,160.13 L150.72,160.14 L150.80,160.16 L150.88,160.17 L150.97,160.18 L151.05,160.20 L151.14,160.21 L151.22,160.23 L151.31,160.24 L151.39,160.26 L151.48,160.27 L151.56,160.28 L151.65,160.30 L151.73,160.31 L151.82,160.32 L151.90,160.34 L151.99,160.35 L152.07,160.36 L152.16,160.38 L152.24,160.39 L152.32,160.40 L152.41,160.42 L152.49,160.43 L152.58,160.44 L152.66,160.45 L152.75,160.47 L152.83,160.48 L152.92,160.49 L153.00,160.50 L153.09,160.52 L153.17,160.53 L153.26,160.54 L153.34,160.55 L153.43,160.56 L153.51,160.58 L153.60,160.59 L153.68,160.60 L153.77,160.61 L153.85,160.62 L153.93,160.63 L154.02,160.64 L154.10,160.66 L154.19,160.67 L154.27,160.68 L154.36,160.69 L154.44,160.70 L154.53,160.71 L154.61,160.72 L154.70,160.73 L154.78,160.74 L154.87,160.75 L154.95,160.76 L155.04,160.77 L155.12,160.78 L155.21,160.79 L155.29,160.80 L155.37,160.81 L155.46,160.82 L155.54,160.83 L155.63,160.84 L155.71,160.85 L155.80,160.86 L155.88,160.87 L155.97,160.88 L156.05,160.89 L156.14,160.90 L156.22,160.91 L156.31,160.92 L156.39,160.93 L156.48,160.94 L156.56,160.95 L156.65,160.96 L156.73,160.97 L156.82,160.97 L156.90,160.98 L156.98,160.99 L157.07,161.00 L157.15,161.01 L157.24,161.02 L157.32,161.03 L157.41,161.04 L157.49,161.04 L157.58,161.05 L157.66,161.06 L157.75,161.07 L157.83,161.08 L157.92,161.09 L158.00,161.09 L158.09,161.10 L158.17,161.11 L158.26,161.12 L158.34,161.13 L158.43,161.13 L158.51,161.14 L158.59,161.15 L158.68,161.16 L158.76,161.17 L158.85,161.17 L158.93,161.18 L159.02,161.19 L159.10,161.20 L159.19,161.20 L159.27,161.21 L159.36,161.22 L159.44,161.23 L159.53,161.23 L159.61,161.24 L159.70,161.25 L159.78,161.25 L159.87,161.26 L159.95,161.27 L160.03,161.28 L160.12,161.28 L160.20,161.29 L160.29,161.30 L160.37,161.30 L160.46,161.31 L160.54,161.32 L160.63,161.32 L160.71,161.33 L160.80,161.34 L160.88,161.34 L160.97,161.35 L161.05,161.36 L161.14,161.36 L161.22,161.37 L161.31,161.38 L161.39,161.38 L161.48,161.39 L161.56,161.40 L161.64,161.40 L161.73,161.41 L161.81,161.42 L161.90,161.42 L161.98,161.43 L162.07,161.43 L162.15,161.44 L162.24,161.45 L162.32,161.45 L162.41,161.46 L162.49,161.46 L162.58,161.47 L162.66,161.48 L162.75,161.48 L162.83,161.49 L162.92,161.49 L163.00,161.50 L163.08,161.51 L163.17,161.51 L163.25,161.52 L163.34,161.52 L163.42,161.53 L163.51,161.53 L163.59,161.54 L163.68,161.55 L163.76,161.55 L163.85,161.56 L163.93,161.56 L164.02,161.57 L164.10,161.57 L164.19,161.58 L164.27,161.58 L164.36,161.59 L164.44,161.59 L164.53,161.60 L164.61,161.60 L164.69,161.61 L164.78,161.61 L164.86,161.62 L164.95,161.63 L165.03,161.63 L165.12,161.64 L165.20,161.64 L165.29,161.65 L165.37,161.65 L165.46,161.66 L165.54,161.66 L165.63,161.67 L165.71,161.67 L165.80,161.67 L165.88,161.68 L165.97,161.68 L166.05,161.69 L166.14,161.69 L166.22,161.70 L166.30,161.70 L166.39,161.71 L166.47,161.71 L166.56,161.72 L166.64,161.72 L166.73,161.73 L166.81,161.73 L166.90,161.74 L166.98,161.74 L167.07,161.74 L167.15,161.75 L167.24,161.75 L167.32,161.76 L167.41,161.76 L167.49,161.77 L167.58,161.77 L167.66,161.78 L167.74,161.78 L167.83,161.78 L167.91,161.79 L168.00,161.79 L168.08,161.80 L168.17,161.80 L168.25,161.81 L168.34,161.81 L168.42,161.81 L168.51,161.82 L168.59,161.82 L168.68,161.83 L168.76,161.83 L168.85,161.83 L168.93,161.84 L169.02,161.84 L169.10,161.85 L169.19,161.85 L169.27,161.85 L169.35,161.86 L169.44,161.86 L169.52,161.87 L169.61,161.87 L169.69,161.87 L169.78,161.88 L169.86,161.88 L169.95,161.89 L170.03,161.89 L170.12,161.89 L170.20,161.90 L170.29,161.90 L170.37,161.90 L170.46,161.91 L170.54,161.91 L170.63,161.92 L170.71,161.92 L170.79,161.92 L170.88,161.93 L170.96,161.93 L171.05,161.93 L171.13,161.94 L171.22,161.94 L171.30,161.94 L171.39,161.95 L171.47,161.95 L171.56,161.95 L171.64,161.96 L171.73,161.96 L171.81,161.96 L171.90,161.97 L171.98,161.97 L172.07,161.97 L172.15,161.98 L172.24,161.98 L172.32,161.98 L172.40,161.99 L172.49,161.99 L172.57,161.99 L172.66,162.00 L172.74,162.00 L172.83,162.00 L172.91,162.01 L173.00,162.01 L173.08,162.01 L173.17,162.02 L173.25,162.02 L173.34,162.02 L173.42,162.03 L173.51,162.03 L173.59,162.03 L173.68,162.04 L173.76,162.04 L173.85,162.04 L173.93,162.05 L174.01,162.05 L174.10,162.05 L174.18,162.05 L174.27,162.06 L174.35,162.06 L174.44,162.06 L174.52,162.07 L174.61,162.07 L174.69,162.07 L174.78,162.08 L174.86,162.08 L174.95,162.08 L175.03,162.08 L175.12,162.09 L175.20,162.09 L175.29,162.09 L175.37,162.10 L175.45,162.10 L175.54,162.10 L175.62,162.10 L175.71,162.11 L175.79,162.11 L175.88,162.11 L175.96,162.12 L176.05,162.12 L176.13,162.12 L176.22,162.12 L176.30,162.13 L176.39,162.13 L176.47,162.13 L176.56,162.13 L176.64,162.14 L176.73,162.14 L176.81,162.14 L176.90,162.15 L176.98,162.15 L177.06,162.15 L177.15,162.15 L177.23,162.16 L177.32,162.16 L177.40,162.16 L177.49,162.16 L177.57,162.17 L177.66,162.17 L177.74,162.17 L177.83,162.17 L177.91,162.18 L178.00,162.18 L178.08,162.18 L178.17,162.18 L178.25,162.19 L178.34,162.19 L178.42,162.19 L178.50,162.19 L178.59,162.20 L178.67,162.20 L178.76,162.20 L178.84,162.20 L178.93,162.21 L179.01,162.21 L179.10,162.21 L179.18,162.21 L179.27,162.22 L179.35,162.22 L179.44,162.22 L179.52,162.22 L179.61,162.22 L179.69,162.23 L179.78,162.23 L179.86,162.23 L179.95,162.23 L180.03,162.24 L180.11,162.24 L180.20,162.24 L180.28,162.24 L180.37,162.24 L180.45,162.25 L180.54,162.25 L180.62,162.25 L180.71,162.25 L180.79,162.26 L180.88,162.26 L180.96,162.26 L181.05,162.26 L181.13,162.26 L181.22,162.27 L181.30,162.27 L181.39,162.27 L181.47,162.27 L181.56,162.28 L181.64,162.28 L181.72,162.28 L181.81,162.28 L181.89,162.28 L181.98,162.29 L182.06,162.29 L182.15,162.29 L182.23,162.29 L182.32,162.29 L182.40,162.30 L182.49,162.30 L182.57,162.30 L182.66,162.30 L182.74,162.30 L182.83,162.31 L182.91,162.31 L183.00,162.31 L183.08,162.31 L183.16,162.31 L183.25,162.32 L183.33,162.32 L183.42,162.32 L183.50,162.32 L183.59,162.32 L183.67,162.33 L183.76,162.33 L183.84,162.33 L183.93,162.33 L184.01,162.33 L184.10,162.34 L184.18,162.34 L184.27,162.34 L184.35,162.34 L184.44,162.34 L184.52,162.34 L184.61,162.35 L184.69,162.35 L184.77,162.35 L184.86,162.35 L184.94,162.35 L185.03,162.36 L185.11,162.36 L185.20,162.36 L185.28,162.36 L185.37,162.36 L185.45,162.36 L185.54,162.37 L185.62,162.37 L185.71,162.37 L185.79,162.37 L185.88,162.37 L185.96,162.37 L186.05,162.38 L186.13,162.38 L186.21,162.38 L186.30,162.38 L186.38,162.38 L186.47,162.39 L186.55,162.39 L186.64,162.39 L186.72,162.39 L186.81,162.39 L186.89,162.39 L186.98,162.40 L187.06,162.40 L187.15,162.40 L187.23,162.40 L187.32,162.40 L187.40,162.40 L187.49,162.41 L187.57,162.41 L187.66,162.41 L187.74,162.41 L187.82,162.41 L187.91,162.41 L187.99,162.41 L188.08,162.42 L188.16,162.42 L188.25,162.42 L188.33,162.42 L188.42,162.42 L188.50,162.42 L188.59,162.43 L188.67,162.43 L188.76,162.43 L188.84,162.43 L188.93,162.43 L189.01,162.43 L189.10,162.44 L189.18,162.44 L189.26,162.44 L189.35,162.44 L189.43,162.44 L189.52,162.44 L189.60,162.44 L189.69,162.45 L189.77,162.45 L189.86,162.45 L189.94,162.45 L190.03,162.45 L190.11,162.45 L190.20,162.45 L190.28,162.46 L190.37,162.46 L190.45,162.46 L190.54,162.46 L190.62,162.46 L190.71,162.46 L190.79,162.46 L190.87,162.47 L190.96,162.47 L191.04,162.47 L191.13,162.47 L191.21,162.47 L191.30,162.47 L191.38,162.47 L191.47,162.48 L191.55,162.48 L191.64,162.48 L191.72,162.48 L191.81,162.48 L191.89,162.48 L191.98,162.48 L192.06,162.49 L192.15,162.49 L192.23,162.49 L192.32,162.49 L192.40,162.49 L192.48,162.49 L192.57,162.49 L192.65,162.49 L192.74,162.50 L192.82,162.50 L192.91,162.50 L192.99,162.50 L193.08,162.50 L193.16,162.50 L193.25,162.50 L193.33,162.51 L193.42,162.51 L193.50,162.51 L193.59,162.51 L193.67,162.51 L193.76,162.51 L193.84,162.51 L193.92,162.51 L194.01,162.52 L194.09,162.52 L194.18,162.52 L194.26,162.52 L194.35,162.52 L194.43,162.52 L194.52,162.52 L194.60,162.52 L194.69,162.53 L194.77,162.53 L194.86,162.53 L194.94,162.53 L195.03,162.53 L195.11,162.53 L195.20,162.53 L195.28,162.53 L195.37,162.54 L195.45,162.54 L195.53,162.54 L195.62,162.54 L195.70,162.54 L195.79,162.54 L195.87,162.54 L195.96,162.54 L196.04,162.54 L196.13,162.55 L196.21,162.55 L196.30,162.55 L196.38,162.55 L196.47,162.55 L196.55,162.55 L196.64,162.55 L196.72,162.55 L196.81,162.55 L196.89,162.56 L196.97,162.56 L197.06,162.56 L197.14,162.56 L197.23,162.56 L197.31,162.56 L197.40,162.56 L197.48,162.56 L197.57,162.56 L197.65,162.57 L197.74,162.57 L197.82,162.57 L197.91,162.57 L197.99,162.57 L198.08,162.57 L198.16,162.57 L198.25,162.57 L198.33,162.57 L198.42,162.58 L198.50,162.58" fill="none" stroke="#ff00ff" stroke-width="2" stroke-dasharray="6 4.6"/>
<g fill="#0000ff"><circle cx="29.05" cy="162.83" r="1.5"/><circle cx="29.90" cy="162.82" r="1.5"/><circle cx="30.74" cy="162.80" r="1.5"/><circle cx="31.59" cy="162.79" r="1.5"/><circle cx="32.44" cy="162.78" r="1.5"/><circle cx="33.29" cy="162.77" r="1.5"/><circle cx="34.13" cy="162.76" r="1.5"/><circle cx="34.98" cy="162.74" r="1.5"/><circle cx="35.83" cy="162.73" r="1.5"/><circle cx="36.68" cy="162.72" r="1.5"/><circle cx="37.52" cy="162.70" r="1.5"/><circle cx="38.37" cy="162.69" r="1.5"/><circle cx="39.22" cy="162.67" r="1.5"/><circle cx="40.06" cy="162.66" r="1.5"/><circle cx="40.91" cy="162.64" r="1.5"/><circle cx="41.76" cy="162.62" r="1.5"/><circle cx="42.61" cy="162.60" r="1.5"/><circle cx="43.45" cy="162.59" r="1.5"/><circle cx="44.30" cy="162.57" r="1.5"/><circle cx="45.15" cy="162.55" r="1.5"/><circle cx="46.00" cy="162.53" r="1.5"/><circle cx="46.84" cy="162.50" r="1.5"/><circle cx="47.69" cy="162.48" r="1.5"/><circle cx="48.54" cy="162.46" r="1.5"/><circle cx="49.38" cy="162.43" r="1.5"/><circle cx="50.23" cy="162.41" r="1.5"/><circle cx="51.08" cy="162.38" r="1.5"/><circle cx="51.93" cy="162.35" r="1.5"/><circle cx="52.77" cy="162.33" r="1.5"/><circle cx="53.62" cy="162.30" r="1.5"/><circle cx="54.47" cy="162.26" r="1.5"/><circle cx="55.31" cy="162.23" r="1.5"/><circle cx="56.16" cy="162.20" r="1.5"/><circle cx="57.01" cy="162.16" r="1.5"/><circle cx="57.86" cy="162.12" r="1.5"/><circle cx="58.70" cy="162.08" r="1.5"/><circle cx="59.55" cy="162.04" r="1.5"/><circle cx="60.40" cy="162.00" r="1.5"/><circle cx="61.25" cy="161.95" r="1.5"/><circle cx="62.09" cy="161.91" r="1.5"/><circle cx="62.94" cy="161.85" r="1.5"/><circle cx="63.79" cy="161.80" r="1.5"/><circle cx="64.63" cy="161.74" r="1.5"/><circle cx="65.48" cy="161.68" r="1.5"/><circle cx="66.33" cy="161.62" r="1.5"/><circle cx="67.18" cy="161.55" r="1.5"/><circle cx="68.02" cy="161.48" r="1.5"/><circle cx="68.87" cy="161.41" r="1.5"/><circle cx="69.72" cy="161.33" r="1.5"/><circle cx="70.57" cy="161.24" r="1.5"/><circle cx="71.41" cy="161.15" r="1.5"/><circle cx="72.26" cy="161.05" r="1.5"/><circle cx="73.11" cy="160.95" r="1.5"/><circle cx="73.95" cy="160.84" r="1.5"/><circle cx="74.80" cy="160.72" r="1.5"/><circle cx="75.65" cy="160.59" r="1.5"/><circle cx="76.50" cy="160.45" r="1.5"/><circle cx="77.34" cy="160.30" r="1.5"/><circle cx="78.19" cy="160.14" r="1.5"/><circle cx="79.04" cy="159.96" r="1.5"/><circle cx="79.88" cy="159.77" r="1.5"/><circle cx="80.73" cy="159.55" r="1.5"/><circle cx="81.58" cy="159.32" r="1.5"/><circle cx="82.43" cy="159.07" r="1.5"/><circle cx="83.27" cy="158.78" r="1.5"/><circle cx="84.12" cy="158.47" r="1.5"/><circle cx="84.97" cy="158.12" r="1.5"/><circle cx="85.82" cy="157.72" r="1.5"/><circle cx="86.66" cy="157.27" r="1.5"/><circle cx="87.51" cy="156.76" r="1.5"/><circle cx="88.36" cy="156.17" r="1.5"/><circle cx="89.20" cy="155.49" r="1.5"/><circle cx="90.05" cy="154.70" r="1.5"/><circle cx="90.90" cy="153.78" r="1.5"/><circle cx="91.75" cy="152.71" r="1.5"/><circle cx="92.59" cy="151.45" r="1.5"/><circle cx="93.44" cy="150.00" r="1.5"/><circle cx="94.29" cy="148.34" r="1.5"/><circle cx="95.14" cy="146.46" r="1.5"/><circle cx="95.98" cy="144.40" r="1.5"/><circle cx="96.83" cy="142.19" r="1.5"/><circle cx="97.68" cy="139.92" r="1.5"/><circle cx="98.52" cy="137.75" r="1.5"/><circle cx="99.37" cy="135.86" r="1.5"/><circle cx="100.22" cy="134.51" r="1.5"/><circle cx="101.07" cy="134.00" r="1.5"/><circle cx="101.91" cy="134.68" r="1.5"/><circle cx="102.76" cy="136.88" r="1.5"/><circle cx="103.61" cy="140.94" r="1.5"/><circle cx="104.46" cy="147.10" r="1.5"/><circle cx="105.30" cy="155.50" r="1.5"/><circle cx="106.15" cy="166.10" r="1.5"/><circle cx="107.00" cy="178.67" r="1.5"/><circle cx="107.84" cy="192.75" r="1.5"/><circle cx="108.69" cy="207.70" r="1.5"/><circle cx="109.54" cy="222.67" r="1.5"/><circle cx="110.39" cy="236.73" r="1.5"/><circle cx="111.23" cy="248.93" r="1.5"/><circle cx="112.08" cy="258.38" r="1.5"/><circle cx="112.93" cy="264.36" r="1.5"/><circle cx="113.77" cy="266.41" r="1.5"/><circle cx="114.62" cy="264.36" r="1.5"/><circle cx="115.47" cy="258.38" r="1.5"/><circle cx="116.32" cy="248.93" r="1.5"/><circle cx="117.16" cy="236.73" r="1.5"/><circle cx="118.01" cy="222.67" r="1.5"/><circle cx="118.86" cy="207.70" r="1.5"/><circle cx="119.71" cy="192.75" r="1.5"/><circle cx="120.55" cy="178.67" r="1.5"/><circle cx="121.40" cy="166.10" r="1.5"/><circle cx="122.25" cy="155.50" r="1.5"/><circle cx="123.09" cy="147.10" r="1.5"/><circle cx="123.94" cy="140.94" r="1.5"/><circle cx="124.79" cy="136.88" r="1.5"/><circle cx="125.64" cy="134.68" r="1.5"/><circle cx="126.48" cy="134.00" r="1.5"/><circle cx="127.33" cy="134.51" r="1.5"/><circle cx="128.18" cy="135.86" r="1.5"/><circle cx="129.03" cy="137.75" r="1.5"/><circle cx="129.87" cy="139.92" r="1.5"/><circle cx="130.72" cy="142.19" r="1.5"/><circle cx="131.57" cy="144.40" r="1.5"/><circle cx="132.41" cy="146.46" r="1.5"/><circle cx="133.26" cy="148.34" r="1.5"/><circle cx="134.11" cy="150.00" r="1.5"/><circle cx="134.96" cy="151.45" r="1.5"/><circle cx="135.80" cy="152.71" r="1.5"/><circle cx="136.65" cy="153.78" r="1.5"/><circle cx="137.50" cy="154.70" r="1.5"/><circle cx="138.35" cy="155.49" r="1.5"/><circle cx="139.19" cy="156.17" r="1.5"/><circle cx="140.04" cy="156.76" r="1.5"/><circle cx="140.89" cy="157.27" r="1.5"/><circle cx="141.73" cy="157.72" r="1.5"/><circle cx="142.58" cy="158.12" r="1.5"/><circle cx="143.43" cy="158.47" r="1.5"/><circle cx="144.28" cy="158.78" r="1.5"/><circle cx="145.12" cy="159.07" r="1.5"/><circle cx="145.97" cy="159.32" r="1.5"/><circle cx="146.82" cy="159.55" r="1.5"/><circle cx="147.66" cy="159.77" r="1.5"/><circle cx="148.51" cy="159.96" r="1.5"/><circle cx="149.36" cy="160.14" r="1.5"/><circle cx="150.21" cy="160.30" r="1.5"/><circle cx="151.05" cy="160.45" r="1.5"/><circle cx="151.90" cy="160.59" r="1.5"/><circle cx="152.75" cy="160.72" r="1.5"/><circle cx="153.60" cy="160.84" r="1.5"/><circle cx="154.44" cy="160.95" r="1.5"/><circle cx="155.29" cy="161.05" r="1.5"/><circle cx="156.14" cy="161.15" r="1.5"/><circle cx="156.98" cy="161.24" r="1.5"/><circle cx="157.83" cy="161.33" r="1.5"/><circle cx="158.68" cy="161.41" r="1.5"/><circle cx="159.53" cy="161.48" r="1.5"/><circle cx="160.37" cy="161.55" r="1.5"/><circle cx="161.22" cy="161.62" r="1.5"/><circle cx="162.07" cy="161.68" r="1.5"/><circle cx="162.92" cy="161.74" r="1.5"/><circle cx="163.76" cy="161.80" r="1.5"/><circle cx="164.61" cy="161.85" r="1.5"/><circle cx="165.46" cy="161.91" r="1.5"/><circle cx="166.30" cy="161.95" r="1.5"/><circle cx="167.15" cy="162.00" r="1.5"/><circle cx="168.00" cy="162.04" r="1.5"/><circle cx="168.85" cy="162.08" r="1.5"/><circle cx="169.69" cy="162.12" r="1.5"/><circle cx="170.54" cy="162.16" r="1.5"/><circle cx="171.39" cy="162.20" r="1.5"/><circle cx="172.24" cy="162.23" r="1.5"/><circle cx="173.08" cy="162.26" r="1.5"/><circle cx="173.93" cy="162.30" r="1.5"/><circle cx="174.78" cy="162.33" r="1.5"/><circle cx="175.62" cy="162.35" r="1.5"/><circle cx="176.47" cy="162.38" r="1.5"/><circle cx="177.32" cy="162.41" r="1.5"/><circle cx="178.17" cy="162.43" r="1.5"/><circle cx="179.01" cy="162.46" r="1.5"/><circle cx="179.86" cy="162.48" r="1.5"/><circle cx="180.71" cy="162.50" r="1.5"/><circle cx="181.56" cy="162.53" r="1.5"/><circle cx="182.40" cy="162.55" r="1.5"/><circle cx="183.25" cy="162.57" r="1.5"/><circle cx="184.10" cy="162.59" r="1.5"/><circle cx="184.94" cy="162.60" r="1.5"/><circle cx="185.79" cy="162.62" r="1.5"/><circle cx="186.64" cy="162.64" r="1.5"/><circle cx="187.49" cy="162.66" r="1.5"/><circle cx="188.33" cy="162.67" r="1.5"/><circle cx="189.18" cy="162.69" r="1.5"/><circle cx="190.03" cy="162.70" r="1.5"/><circle cx="190.87" cy="162.72" r="1.5"/><circle cx="191.72" cy="162.73" r="1.5"/><circle cx="192.57" cy="162.74" r="1.5"/><circle cx="193.42" cy="162.76" r="1.5"/><circle cx="194.26" cy="162.77" r="1.5"/><circle cx="195.11" cy="162.78" r="1.5"/><circle cx="195.96" cy="162.79" r="1.5"/><circle cx="196.81" cy="162.80" r="1.5"/><circle cx="197.65" cy="162.82" r="1.5"/><circle cx="198.50" cy="162.83" r="1.5"/></g>
<g transform="translate(113.28,299.90) scale(0.9654,1)"><text text-anchor="middle">Re(z)</text></g>
<g transform="translate(27.25,14.90) scale(0.9830390632147105,1)"><text text-anchor="start">(a) Re(Z) and</text></g>
<g transform="translate(111.20,14.90) scale(0.9547930283224401,1)"><text text-anchor="start">Re(Z’), Im(z)=0</text></g>
<path d="M85.4,38.3H112.1" stroke="#00ff00" stroke-width="2" stroke-dasharray="6 4.6"/>
<g transform="translate(114.70,43.70) scale(0.9654,1)"><text text-anchor="start">exact Re(Z)</text></g>
<circle cx="99.05" cy="54.599999999999994" r="1.5" fill="#ff0000"/>
<g transform="translate(114.70,59.70) scale(0.9654,1)"><text text-anchor="start">GPDF Re(Z)</text></g>
<path d="M85.4,70.3H112.1" stroke="#ff00ff" stroke-width="2" stroke-dasharray="6 4.6"/>
<g transform="translate(114.70,75.70) scale(0.9654,1)"><text text-anchor="start">exact Re(Z’)</text></g>
<circle cx="99.05" cy="86.6" r="1.5" fill="#0000ff"/>
<g transform="translate(114.70,91.70) scale(0.9654,1)"><text text-anchor="start">GPDF Re(Z’)</text></g>
<g transform="translate(249.40,39.20) scale(0.989,1)"><text text-anchor="end">3</text></g>
<g transform="translate(249.40,64.97) scale(0.989,1)"><text text-anchor="end">2.5</text></g>
<g transform="translate(249.40,90.73) scale(0.989,1)"><text text-anchor="end">2</text></g>
<g transform="translate(249.40,116.49) scale(0.989,1)"><text text-anchor="end">1.5</text><rect x="-19.11" y="-1.43" width="3.62" height="2.46" fill="#fff"/><rect x="-14.28" y="-1.43" width="3.11" height="2.46" fill="#fff"/></g>
<g transform="translate(249.40,142.26) scale(0.989,1)"><text text-anchor="end">1</text><rect x="-7.76" y="-1.43" width="3.62" height="2.46" fill="#fff"/><rect x="-2.94" y="-1.43" width="3.11" height="2.46" fill="#fff"/></g>
<g transform="translate(249.40,168.03) scale(0.989,1)"><text text-anchor="end">0.5</text></g>
<g transform="translate(249.40,193.79) scale(0.989,1)"><text text-anchor="end">0</text></g>
<g transform="translate(252.40,219.55) scale(0.989,1)"><text text-anchor="end">−0.5</text></g>
<g transform="translate(252.40,245.32) scale(0.989,1)"><text text-anchor="end">−1</text><rect x="-7.76" y="-1.43" width="3.62" height="2.46" fill="#fff"/><rect x="-2.94" y="-1.43" width="3.11" height="2.46" fill="#fff"/></g>
<g transform="translate(252.40,271.08) scale(0.989,1)"><text text-anchor="end">−1.5</text><rect x="-19.11" y="-1.43" width="3.62" height="2.46" fill="#fff"/><rect x="-14.28" y="-1.43" width="3.11" height="2.46" fill="#fff"/></g>
<g transform="translate(251.55,286.30) scale(0.989,1)"><text text-anchor="middle">−10</text><rect x="-3.79" y="-1.43" width="3.62" height="2.46" fill="#fff"/><rect x="1.03" y="-1.43" width="3.11" height="2.46" fill="#fff"/></g>
<g transform="translate(336.30,286.30) scale(0.989,1)"><text text-anchor="middle">0</text></g>
<g transform="translate(422.05,286.30) scale(0.989,1)"><text text-anchor="middle">10</text><rect x="-7.76" y="-1.43" width="3.62" height="2.46" fill="#fff"/><rect x="-2.94" y="-1.43" width="3.11" height="2.46" fill="#fff"/></g>
<path d="M252.0,23.1V272.45" stroke="#000" stroke-width="1" fill="none"/>
<path d="M251.5,271.95H421.9" stroke="#000" stroke-width="1" fill="none"/>
<path d="M251.5,23.5H421.9" stroke="#000" stroke-width="0.75" fill="none"/>
<path d="M421.5,23.1V272.45" stroke="#000" stroke-width="0.85" fill="none"/>
<path d="M252.0,34.30h2.0M421.5,34.30h-2.5M252.0,60.06h2.0M421.5,60.06h-2.5M252.0,85.83h2.0M421.5,85.83h-2.5M252.0,111.59h2.0M421.5,111.59h-2.5M252.0,137.36h2.0M421.5,137.36h-2.5M252.0,163.12h2.0M421.5,163.12h-2.5M252.0,188.89h2.0M421.5,188.89h-2.5M252.0,214.65h2.0M421.5,214.65h-2.5M252.0,240.42h2.0M421.5,240.42h-2.5M252.0,266.19h2.0M421.5,266.19h-2.5M252.00,271.95v-2.0M252.00,23.5v2.0M336.75,271.95v-2.0M336.75,23.5v2.0M421.50,271.95v-2.0M421.50,23.5v2.0" stroke="#000" stroke-width="1" fill="none"/>
<path d="M252.00,188.89 L252.08,188.89 L252.17,188.89 L252.25,188.89 L252.34,188.89 L252.42,188.89 L252.51,188.89 L252.59,188.89 L252.68,188.89 L252.76,188.89 L252.85,188.89 L252.93,188.89 L253.02,188.89 L253.10,188.89 L253.19,188.89 L253.27,188.89 L253.36,188.89 L253.44,188.89 L253.53,188.89 L253.61,188.89 L253.69,188.89 L253.78,188.89 L253.86,188.89 L253.95,188.89 L254.03,188.89 L254.12,188.89 L254.20,188.89 L254.29,188.89 L254.37,188.89 L254.46,188.89 L254.54,188.89 L254.63,188.89 L254.71,188.89 L254.80,188.89 L254.88,188.89 L254.97,188.89 L255.05,188.89 L255.14,188.89 L255.22,188.89 L255.31,188.89 L255.39,188.89 L255.47,188.89 L255.56,188.89 L255.64,188.89 L255.73,188.89 L255.81,188.89 L255.90,188.89 L255.98,188.89 L256.07,188.89 L256.15,188.89 L256.24,188.89 L256.32,188.89 L256.41,188.89 L256.49,188.89 L256.58,188.89 L256.66,188.89 L256.75,188.89 L256.83,188.89 L256.92,188.89 L257.00,188.89 L257.08,188.89 L257.17,188.89 L257.25,188.89 L257.34,188.89 L257.42,188.89 L257.51,188.89 L257.59,188.89 L257.68,188.89 L257.76,188.89 L257.85,188.89 L257.93,188.89 L258.02,188.89 L258.10,188.89 L258.19,188.89 L258.27,188.89 L258.36,188.89 L258.44,188.89 L258.53,188.89 L258.61,188.89 L258.70,188.89 L258.78,188.89 L258.86,188.89 L258.95,188.89 L259.03,188.89 L259.12,188.89 L259.20,188.89 L259.29,188.89 L259.37,188.89 L259.46,188.89 L259.54,188.89 L259.63,188.89 L259.71,188.89 L259.80,188.89 L259.88,188.89 L259.97,188.89 L260.05,188.89 L260.14,188.89 L260.22,188.89 L260.31,188.89 L260.39,188.89 L260.48,188.89 L260.56,188.89 L260.64,188.89 L260.73,188.89 L260.81,188.89 L260.90,188.89 L260.98,188.89 L261.07,188.89 L261.15,188.89 L261.24,188.89 L261.32,188.89 L261.41,188.89 L261.49,188.89 L261.58,188.89 L261.66,188.89 L261.75,188.89 L261.83,188.89 L261.92,188.89 L262.00,188.89 L262.09,188.89 L262.17,188.89 L262.25,188.89 L262.34,188.89 L262.42,188.89 L262.51,188.89 L262.59,188.89 L262.68,188.89 L262.76,188.89 L262.85,188.89 L262.93,188.89 L263.02,188.89 L263.10,188.89 L263.19,188.89 L263.27,188.89 L263.36,188.89 L263.44,188.89 L263.53,188.89 L263.61,188.89 L263.70,188.89 L263.78,188.89 L263.87,188.89 L263.95,188.89 L264.03,188.89 L264.12,188.89 L264.20,188.89 L264.29,188.89 L264.37,188.89 L264.46,188.89 L264.54,188.89 L264.63,188.89 L264.71,188.89 L264.80,188.89 L264.88,188.89 L264.97,188.89 L265.05,188.89 L265.14,188.89 L265.22,188.89 L265.31,188.89 L265.39,188.89 L265.48,188.89 L265.56,188.89 L265.64,188.89 L265.73,188.89 L265.81,188.89 L265.90,188.89 L265.98,188.89 L266.07,188.89 L266.15,188.89 L266.24,188.89 L266.32,188.89 L266.41,188.89 L266.49,188.89 L266.58,188.89 L266.66,188.89 L266.75,188.89 L266.83,188.89 L266.92,188.89 L267.00,188.89 L267.09,188.89 L267.17,188.89 L267.25,188.89 L267.34,188.89 L267.42,188.89 L267.51,188.89 L267.59,188.89 L267.68,188.89 L267.76,188.89 L267.85,188.89 L267.93,188.89 L268.02,188.89 L268.10,188.89 L268.19,188.89 L268.27,188.89 L268.36,188.89 L268.44,188.89 L268.53,188.89 L268.61,188.89 L268.70,188.89 L268.78,188.89 L268.87,188.89 L268.95,188.89 L269.03,188.89 L269.12,188.89 L269.20,188.89 L269.29,188.89 L269.37,188.89 L269.46,188.89 L269.54,188.89 L269.63,188.89 L269.71,188.89 L269.80,188.89 L269.88,188.89 L269.97,188.89 L270.05,188.89 L270.14,188.89 L270.22,188.89 L270.31,188.89 L270.39,188.89 L270.48,188.89 L270.56,188.89 L270.64,188.89 L270.73,188.89 L270.81,188.89 L270.90,188.89 L270.98,188.89 L271.07,188.89 L271.15,188.89 L271.24,188.89 L271.32,188.89 L271.41,188.89 L271.49,188.89 L271.58,188.89 L271.66,188.89 L271.75,188.89 L271.83,188.89 L271.92,188.89 L272.00,188.89 L272.09,188.89 L272.17,188.89 L272.26,188.89 L272.34,188.89 L272.42,188.89 L272.51,188.89 L272.59,188.89 L272.68,188.89 L272.76,188.89 L272.85,188.89 L272.93,188.89 L273.02,188.89 L273.10,188.89 L273.19,188.89 L273.27,188.89 L273.36,188.89 L273.44,188.89 L273.53,188.89 L273.61,188.89 L273.70,188.89 L273.78,188.89 L273.87,188.89 L273.95,188.89 L274.03,188.89 L274.12,188.89 L274.20,188.89 L274.29,188.89 L274.37,188.89 L274.46,188.89 L274.54,188.89 L274.63,188.89 L274.71,188.89 L274.80,188.89 L274.88,188.89 L274.97,188.89 L275.05,188.89 L275.14,188.89 L275.22,188.89 L275.31,188.89 L275.39,188.89 L275.48,188.89 L275.56,188.89 L275.65,188.89 L275.73,188.89 L275.81,188.89 L275.90,188.89 L275.98,188.89 L276.07,188.89 L276.15,188.89 L276.24,188.89 L276.32,188.89 L276.41,188.89 L276.49,188.89 L276.58,188.89 L276.66,188.89 L276.75,188.89 L276.83,188.89 L276.92,188.89 L277.00,188.89 L277.09,188.89 L277.17,188.89 L277.26,188.89 L277.34,188.89 L277.43,188.89 L277.51,188.89 L277.59,188.89 L277.68,188.89 L277.76,188.89 L277.85,188.89 L277.93,188.89 L278.02,188.89 L278.10,188.89 L278.19,188.89 L278.27,188.89 L278.36,188.89 L278.44,188.89 L278.53,188.89 L278.61,188.89 L278.70,188.89 L278.78,188.89 L278.87,188.89 L278.95,188.89 L279.04,188.89 L279.12,188.89 L279.20,188.89 L279.29,188.89 L279.37,188.89 L279.46,188.89 L279.54,188.89 L279.63,188.89 L279.71,188.89 L279.80,188.89 L279.88,188.89 L279.97,188.89 L280.05,188.89 L280.14,188.89 L280.22,188.89 L280.31,188.89 L280.39,188.89 L280.48,188.89 L280.56,188.89 L280.65,188.89 L280.73,188.89 L280.81,188.89 L280.90,188.89 L280.98,188.89 L281.07,188.89 L281.15,188.89 L281.24,188.89 L281.32,188.89 L281.41,188.89 L281.49,188.89 L281.58,188.89 L281.66,188.89 L281.75,188.89 L281.83,188.89 L281.92,188.89 L282.00,188.89 L282.09,188.89 L282.17,188.89 L282.26,188.89 L282.34,188.89 L282.43,188.89 L282.51,188.89 L282.59,188.89 L282.68,188.89 L282.76,188.89 L282.85,188.89 L282.93,188.89 L283.02,188.89 L283.10,188.89 L283.19,188.89 L283.27,188.89 L283.36,188.89 L283.44,188.89 L283.53,188.89 L283.61,188.89 L283.70,188.89 L283.78,188.89 L283.87,188.89 L283.95,188.89 L284.04,188.89 L284.12,188.89 L284.20,188.89 L284.29,188.89 L284.37,188.89 L284.46,188.89 L284.54,188.89 L284.63,188.89 L284.71,188.89 L284.80,188.89 L284.88,188.89 L284.97,188.89 L285.05,188.89 L285.14,188.89 L285.22,188.89 L285.31,188.89 L285.39,188.89 L285.48,188.89 L285.56,188.89 L285.65,188.89 L285.73,188.89 L285.82,188.89 L285.90,188.89 L285.98,188.89 L286.07,188.89 L286.15,188.89 L286.24,188.89 L286.32,188.89 L286.41,188.89 L286.49,188.89 L286.58,188.89 L286.66,188.89 L286.75,188.89 L286.83,188.89 L286.92,188.89 L287.00,188.89 L287.09,188.89 L287.17,188.89 L287.26,188.89 L287.34,188.89 L287.43,188.89 L287.51,188.89 L287.60,188.89 L287.68,188.89 L287.76,188.89 L287.85,188.89 L287.93,188.89 L288.02,188.89 L288.10,188.89 L288.19,188.89 L288.27,188.89 L288.36,188.89 L288.44,188.89 L288.53,188.89 L288.61,188.89 L288.70,188.89 L288.78,188.89 L288.87,188.89 L288.95,188.89 L289.04,188.89 L289.12,188.89 L289.21,188.89 L289.29,188.89 L289.37,188.89 L289.46,188.89 L289.54,188.89 L289.63,188.89 L289.71,188.89 L289.80,188.89 L289.88,188.89 L289.97,188.89 L290.05,188.89 L290.14,188.89 L290.22,188.89 L290.31,188.89 L290.39,188.89 L290.48,188.89 L290.56,188.89 L290.65,188.89 L290.73,188.89 L290.82,188.89 L290.90,188.89 L290.99,188.89 L291.07,188.89 L291.15,188.89 L291.24,188.89 L291.32,188.89 L291.41,188.89 L291.49,188.89 L291.58,188.89 L291.66,188.89 L291.75,188.89 L291.83,188.89 L291.92,188.89 L292.00,188.89 L292.09,188.89 L292.17,188.89 L292.26,188.89 L292.34,188.89 L292.43,188.89 L292.51,188.89 L292.60,188.89 L292.68,188.89 L292.76,188.89 L292.85,188.89 L292.93,188.89 L293.02,188.89 L293.10,188.89 L293.19,188.89 L293.27,188.89 L293.36,188.89 L293.44,188.89 L293.53,188.89 L293.61,188.89 L293.70,188.89 L293.78,188.89 L293.87,188.89 L293.95,188.89 L294.04,188.89 L294.12,188.89 L294.21,188.89 L294.29,188.89 L294.38,188.89 L294.46,188.89 L294.54,188.89 L294.63,188.89 L294.71,188.89 L294.80,188.89 L294.88,188.89 L294.97,188.89 L295.05,188.89 L295.14,188.89 L295.22,188.89 L295.31,188.89 L295.39,188.89 L295.48,188.89 L295.56,188.89 L295.65,188.89 L295.73,188.89 L295.82,188.89 L295.90,188.89 L295.99,188.89 L296.07,188.89 L296.15,188.89 L296.24,188.89 L296.32,188.89 L296.41,188.89 L296.49,188.89 L296.58,188.89 L296.66,188.89 L296.75,188.89 L296.83,188.89 L296.92,188.89 L297.00,188.89 L297.09,188.89 L297.17,188.89 L297.26,188.89 L297.34,188.89 L297.43,188.89 L297.51,188.89 L297.60,188.89 L297.68,188.89 L297.76,188.89 L297.85,188.89 L297.93,188.89 L298.02,188.89 L298.10,188.89 L298.19,188.89 L298.27,188.89 L298.36,188.89 L298.44,188.89 L298.53,188.89 L298.61,188.89 L298.70,188.89 L298.78,188.89 L298.87,188.89 L298.95,188.89 L299.04,188.89 L299.12,188.89 L299.21,188.89 L299.29,188.89 L299.38,188.89 L299.46,188.89 L299.54,188.89 L299.63,188.89 L299.71,188.89 L299.80,188.89 L299.88,188.89 L299.97,188.89 L300.05,188.89 L300.14,188.89 L300.22,188.89 L300.31,188.89 L300.39,188.89 L300.48,188.89 L300.56,188.89 L300.65,188.89 L300.73,188.89 L300.82,188.89 L300.90,188.89 L300.99,188.89 L301.07,188.89 L301.15,188.89 L301.24,188.89 L301.32,188.89 L301.41,188.89 L301.49,188.89 L301.58,188.89 L301.66,188.89 L301.75,188.89 L301.83,188.89 L301.92,188.89 L302.00,188.89 L302.09,188.89 L302.17,188.89 L302.26,188.89 L302.34,188.89 L302.43,188.89 L302.51,188.89 L302.60,188.89 L302.68,188.89 L302.77,188.89 L302.85,188.89 L302.93,188.89 L303.02,188.89 L303.10,188.89 L303.19,188.89 L303.27,188.89 L303.36,188.89 L303.44,188.89 L303.53,188.89 L303.61,188.89 L303.70,188.89 L303.78,188.89 L303.87,188.89 L303.95,188.89 L304.04,188.89 L304.12,188.89 L304.21,188.89 L304.29,188.89 L304.38,188.89 L304.46,188.89 L304.55,188.89 L304.63,188.89 L304.71,188.89 L304.80,188.89 L304.88,188.89 L304.97,188.89 L305.05,188.89 L305.14,188.89 L305.22,188.89 L305.31,188.89 L305.39,188.89 L305.48,188.89 L305.56,188.89 L305.65,188.89 L305.73,188.89 L305.82,188.89 L305.90,188.89 L305.99,188.89 L306.07,188.89 L306.16,188.89 L306.24,188.89 L306.32,188.89 L306.41,188.89 L306.49,188.89 L306.58,188.89 L306.66,188.89 L306.75,188.89 L306.83,188.89 L306.92,188.89 L307.00,188.89 L307.09,188.89 L307.17,188.89 L307.26,188.89 L307.34,188.89 L307.43,188.89 L307.51,188.89 L307.60,188.89 L307.68,188.89 L307.77,188.89 L307.85,188.89 L307.94,188.89 L308.02,188.89 L308.10,188.89 L308.19,188.89 L308.27,188.89 L308.36,188.89 L308.44,188.89 L308.53,188.89 L308.61,188.89 L308.70,188.89 L308.78,188.89 L308.87,188.89 L308.95,188.89 L309.04,188.89 L309.12,188.89 L309.21,188.89 L309.29,188.89 L309.38,188.89 L309.46,188.89 L309.55,188.89 L309.63,188.89 L309.71,188.89 L309.80,188.89 L309.88,188.89 L309.97,188.89 L310.05,188.89 L310.14,188.89 L310.22,188.88 L310.31,188.88 L310.39,188.88 L310.48,188.88 L310.56,188.88 L310.65,188.88 L310.73,188.88 L310.82,188.88 L310.90,188.88 L310.99,188.88 L311.07,188.88 L311.16,188.88 L311.24,188.88 L311.32,188.88 L311.41,188.88 L311.49,188.88 L311.58,188.88 L311.66,188.88 L311.75,188.87 L311.83,188.87 L311.92,188.87 L312.00,188.87 L312.09,188.87 L312.17,188.87 L312.26,188.87 L312.34,188.87 L312.43,188.87 L312.51,188.86 L312.60,188.86 L312.68,188.86 L312.77,188.86 L312.85,188.86 L312.94,188.86 L313.02,188.85 L313.10,188.85 L313.19,188.85 L313.27,188.85 L313.36,188.85 L313.44,188.84 L313.53,188.84 L313.61,188.84 L313.70,188.83 L313.78,188.83 L313.87,188.83 L313.95,188.82 L314.04,188.82 L314.12,188.82 L314.21,188.81 L314.29,188.81 L314.38,188.80 L314.46,188.80 L314.55,188.79 L314.63,188.79 L314.71,188.78 L314.80,188.78 L314.88,188.77 L314.97,188.77 L315.05,188.76 L315.14,188.75 L315.22,188.75 L315.31,188.74 L315.39,188.73 L315.48,188.72 L315.56,188.71 L315.65,188.70 L315.73,188.70 L315.82,188.69 L315.90,188.67 L315.99,188.66 L316.07,188.65 L316.16,188.64 L316.24,188.63 L316.33,188.62 L316.41,188.60 L316.49,188.59 L316.58,188.57 L316.66,188.56 L316.75,188.54 L316.83,188.53 L316.92,188.51 L317.00,188.49 L317.09,188.47 L317.17,188.45 L317.26,188.43 L317.34,188.41 L317.43,188.39 L317.51,188.36 L317.60,188.34 L317.68,188.31 L317.77,188.29 L317.85,188.26 L317.94,188.23 L318.02,188.20 L318.11,188.17 L318.19,188.14 L318.27,188.10 L318.36,188.07 L318.44,188.03 L318.53,187.99 L318.61,187.95 L318.70,187.91 L318.78,187.87 L318.87,187.83 L318.95,187.78 L319.04,187.73 L319.12,187.68 L319.21,187.63 L319.29,187.58 L319.38,187.52 L319.46,187.47 L319.55,187.41 L319.63,187.35 L319.72,187.28 L319.80,187.22 L319.88,187.15 L319.97,187.08 L320.05,187.01 L320.14,186.93 L320.22,186.85 L320.31,186.77 L320.39,186.69 L320.48,186.60 L320.56,186.51 L320.65,186.42 L320.73,186.32 L320.82,186.23 L320.90,186.12 L320.99,186.02 L321.07,185.91 L321.16,185.80 L321.24,185.68 L321.33,185.56 L321.41,185.44 L321.50,185.31 L321.58,185.18 L321.66,185.05 L321.75,184.91 L321.83,184.77 L321.92,184.62 L322.00,184.47 L322.09,184.31 L322.17,184.15 L322.26,183.98 L322.34,183.81 L322.43,183.64 L322.51,183.46 L322.60,183.27 L322.68,183.08 L322.77,182.89 L322.85,182.69 L322.94,182.48 L323.02,182.27 L323.11,182.05 L323.19,181.83 L323.27,181.60 L323.36,181.37 L323.44,181.12 L323.53,180.88 L323.61,180.63 L323.70,180.37 L323.78,180.10 L323.87,179.83 L323.95,179.55 L324.04,179.26 L324.12,178.97 L324.21,178.67 L324.29,178.37 L324.38,178.05 L324.46,177.73 L324.55,177.41 L324.63,177.07 L324.72,176.73 L324.80,176.38 L324.88,176.02 L324.97,175.66 L325.05,175.29 L325.14,174.91 L325.22,174.52 L325.31,174.13 L325.39,173.73 L325.48,173.32 L325.56,172.90 L325.65,172.47 L325.73,172.04 L325.82,171.59 L325.90,171.14 L325.99,170.69 L326.07,170.22 L326.16,169.75 L326.24,169.26 L326.33,168.77 L326.41,168.27 L326.50,167.77 L326.58,167.25 L326.66,166.73 L326.75,166.20 L326.83,165.66 L326.92,165.11 L327.00,164.55 L327.09,163.99 L327.17,163.42 L327.26,162.84 L327.34,162.25 L327.43,161.65 L327.51,161.05 L327.60,160.44 L327.68,159.82 L327.77,159.20 L327.85,158.56 L327.94,157.92 L328.02,157.28 L328.11,156.62 L328.19,155.96 L328.27,155.29 L328.36,154.61 L328.44,153.93 L328.53,153.24 L328.61,152.55 L328.70,151.85 L328.78,151.14 L328.87,150.43 L328.95,149.71 L329.04,148.99 L329.12,148.26 L329.21,147.53 L329.29,146.79 L329.38,146.04 L329.46,145.30 L329.55,144.54 L329.63,143.79 L329.72,143.03 L329.80,142.27 L329.89,141.50 L329.97,140.73 L330.05,139.96 L330.14,139.18 L330.22,138.41 L330.31,137.63 L330.39,136.85 L330.48,136.07 L330.56,135.29 L330.65,134.50 L330.73,133.72 L330.82,132.94 L330.90,132.15 L330.99,131.37 L331.07,130.59 L331.16,129.81 L331.24,129.03 L331.33,128.25 L331.41,127.48 L331.50,126.70 L331.58,125.93 L331.67,125.17 L331.75,124.41 L331.83,123.65 L331.92,122.89 L332.00,122.14 L332.09,121.40 L332.17,120.66 L332.26,119.92 L332.34,119.19 L332.43,118.47 L332.51,117.76 L332.60,117.05 L332.68,116.35 L332.77,115.66 L332.85,114.97 L332.94,114.30 L333.02,113.63 L333.11,112.97 L333.19,112.33 L333.28,111.69 L333.36,111.06 L333.44,110.44 L333.53,109.84 L333.61,109.24 L333.70,108.66 L333.78,108.09 L333.87,107.53 L333.95,106.98 L334.04,106.45 L334.12,105.92 L334.21,105.42 L334.29,104.92 L334.38,104.44 L334.46,103.98 L334.55,103.53 L334.63,103.09 L334.72,102.67 L334.80,102.26 L334.89,101.87 L334.97,101.50 L335.06,101.14 L335.14,100.79 L335.22,100.47 L335.31,100.16 L335.39,99.86 L335.48,99.59 L335.56,99.33 L335.65,99.09 L335.73,98.86 L335.82,98.65 L335.90,98.46 L335.99,98.29 L336.07,98.14 L336.16,98.00 L336.24,97.88 L336.33,97.78 L336.41,97.70 L336.50,97.64 L336.58,97.59 L336.67,97.56 L336.75,97.56 L336.83,97.56 L336.92,97.59 L337.00,97.64 L337.09,97.70 L337.17,97.78 L337.26,97.88 L337.34,98.00 L337.43,98.14 L337.51,98.29 L337.60,98.46 L337.68,98.65 L337.77,98.86 L337.85,99.09 L337.94,99.33 L338.02,99.59 L338.11,99.86 L338.19,100.16 L338.28,100.47 L338.36,100.79 L338.44,101.14 L338.53,101.50 L338.61,101.87 L338.70,102.26 L338.78,102.67 L338.87,103.09 L338.95,103.53 L339.04,103.98 L339.12,104.44 L339.21,104.92 L339.29,105.42 L339.38,105.92 L339.46,106.45 L339.55,106.98 L339.63,107.53 L339.72,108.09 L339.80,108.66 L339.89,109.24 L339.97,109.84 L340.06,110.44 L340.14,111.06 L340.22,111.69 L340.31,112.33 L340.39,112.97 L340.48,113.63 L340.56,114.30 L340.65,114.97 L340.73,115.66 L340.82,116.35 L340.90,117.05 L340.99,117.76 L341.07,118.47 L341.16,119.19 L341.24,119.92 L341.33,120.66 L341.41,121.40 L341.50,122.14 L341.58,122.89 L341.67,123.65 L341.75,124.41 L341.84,125.17 L341.92,125.93 L342.00,126.70 L342.09,127.48 L342.17,128.25 L342.26,129.03 L342.34,129.81 L342.43,130.59 L342.51,131.37 L342.60,132.15 L342.68,132.94 L342.77,133.72 L342.85,134.50 L342.94,135.29 L343.02,136.07 L343.11,136.85 L343.19,137.63 L343.28,138.41 L343.36,139.18 L343.45,139.96 L343.53,140.73 L343.61,141.50 L343.70,142.27 L343.78,143.03 L343.87,143.79 L343.95,144.54 L344.04,145.30 L344.12,146.04 L344.21,146.79 L344.29,147.53 L344.38,148.26 L344.46,148.99 L344.55,149.71 L344.63,150.43 L344.72,151.14 L344.80,151.85 L344.89,152.55 L344.97,153.24 L345.06,153.93 L345.14,154.61 L345.23,155.29 L345.31,155.96 L345.39,156.62 L345.48,157.28 L345.56,157.92 L345.65,158.56 L345.73,159.20 L345.82,159.82 L345.90,160.44 L345.99,161.05 L346.07,161.65 L346.16,162.25 L346.24,162.84 L346.33,163.42 L346.41,163.99 L346.50,164.55 L346.58,165.11 L346.67,165.66 L346.75,166.20 L346.84,166.73 L346.92,167.25 L347.00,167.77 L347.09,168.27 L347.17,168.77 L347.26,169.26 L347.34,169.75 L347.43,170.22 L347.51,170.69 L347.60,171.14 L347.68,171.59 L347.77,172.04 L347.85,172.47 L347.94,172.90 L348.02,173.32 L348.11,173.73 L348.19,174.13 L348.28,174.52 L348.36,174.91 L348.45,175.29 L348.53,175.66 L348.62,176.02 L348.70,176.38 L348.78,176.73 L348.87,177.07 L348.95,177.41 L349.04,177.73 L349.12,178.05 L349.21,178.37 L349.29,178.67 L349.38,178.97 L349.46,179.26 L349.55,179.55 L349.63,179.83 L349.72,180.10 L349.80,180.37 L349.89,180.63 L349.97,180.88 L350.06,181.12 L350.14,181.37 L350.23,181.60 L350.31,181.83 L350.39,182.05 L350.48,182.27 L350.56,182.48 L350.65,182.69 L350.73,182.89 L350.82,183.08 L350.90,183.27 L350.99,183.46 L351.07,183.64 L351.16,183.81 L351.24,183.98 L351.33,184.15 L351.41,184.31 L351.50,184.47 L351.58,184.62 L351.67,184.77 L351.75,184.91 L351.84,185.05 L351.92,185.18 L352.00,185.31 L352.09,185.44 L352.17,185.56 L352.26,185.68 L352.34,185.80 L352.43,185.91 L352.51,186.02 L352.60,186.12 L352.68,186.23 L352.77,186.32 L352.85,186.42 L352.94,186.51 L353.02,186.60 L353.11,186.69 L353.19,186.77 L353.28,186.85 L353.36,186.93 L353.45,187.01 L353.53,187.08 L353.62,187.15 L353.70,187.22 L353.78,187.28 L353.87,187.35 L353.95,187.41 L354.04,187.47 L354.12,187.52 L354.21,187.58 L354.29,187.63 L354.38,187.68 L354.46,187.73 L354.55,187.78 L354.63,187.83 L354.72,187.87 L354.80,187.91 L354.89,187.95 L354.97,187.99 L355.06,188.03 L355.14,188.07 L355.23,188.10 L355.31,188.14 L355.39,188.17 L355.48,188.20 L355.56,188.23 L355.65,188.26 L355.73,188.29 L355.82,188.31 L355.90,188.34 L355.99,188.36 L356.07,188.39 L356.16,188.41 L356.24,188.43 L356.33,188.45 L356.41,188.47 L356.50,188.49 L356.58,188.51 L356.67,188.53 L356.75,188.54 L356.84,188.56 L356.92,188.57 L357.01,188.59 L357.09,188.60 L357.17,188.62 L357.26,188.63 L357.34,188.64 L357.43,188.65 L357.51,188.66 L357.60,188.67 L357.68,188.69 L357.77,188.70 L357.85,188.70 L357.94,188.71 L358.02,188.72 L358.11,188.73 L358.19,188.74 L358.28,188.75 L358.36,188.75 L358.45,188.76 L358.53,188.77 L358.62,188.77 L358.70,188.78 L358.78,188.78 L358.87,188.79 L358.95,188.79 L359.04,188.80 L359.12,188.80 L359.21,188.81 L359.29,188.81 L359.38,188.82 L359.46,188.82 L359.55,188.82 L359.63,188.83 L359.72,188.83 L359.80,188.83 L359.89,188.84 L359.97,188.84 L360.06,188.84 L360.14,188.85 L360.23,188.85 L360.31,188.85 L360.40,188.85 L360.48,188.85 L360.56,188.86 L360.65,188.86 L360.73,188.86 L360.82,188.86 L360.90,188.86 L360.99,188.86 L361.07,188.87 L361.16,188.87 L361.24,188.87 L361.33,188.87 L361.41,188.87 L361.50,188.87 L361.58,188.87 L361.67,188.87 L361.75,188.87 L361.84,188.88 L361.92,188.88 L362.01,188.88 L362.09,188.88 L362.18,188.88 L362.26,188.88 L362.34,188.88 L362.43,188.88 L362.51,188.88 L362.60,188.88 L362.68,188.88 L362.77,188.88 L362.85,188.88 L362.94,188.88 L363.02,188.88 L363.11,188.88 L363.19,188.88 L363.28,188.88 L363.36,188.89 L363.45,188.89 L363.53,188.89 L363.62,188.89 L363.70,188.89 L363.79,188.89 L363.87,188.89 L363.95,188.89 L364.04,188.89 L364.12,188.89 L364.21,188.89 L364.29,188.89 L364.38,188.89 L364.46,188.89 L364.55,188.89 L364.63,188.89 L364.72,188.89 L364.80,188.89 L364.89,188.89 L364.97,188.89 L365.06,188.89 L365.14,188.89 L365.23,188.89 L365.31,188.89 L365.40,188.89 L365.48,188.89 L365.56,188.89 L365.65,188.89 L365.73,188.89 L365.82,188.89 L365.90,188.89 L365.99,188.89 L366.07,188.89 L366.16,188.89 L366.24,188.89 L366.33,188.89 L366.41,188.89 L366.50,188.89 L366.58,188.89 L366.67,188.89 L366.75,188.89 L366.84,188.89 L366.92,188.89 L367.01,188.89 L367.09,188.89 L367.18,188.89 L367.26,188.89 L367.34,188.89 L367.43,188.89 L367.51,188.89 L367.60,188.89 L367.68,188.89 L367.77,188.89 L367.85,188.89 L367.94,188.89 L368.02,188.89 L368.11,188.89 L368.19,188.89 L368.28,188.89 L368.36,188.89 L368.45,188.89 L368.53,188.89 L368.62,188.89 L368.70,188.89 L368.79,188.89 L368.87,188.89 L368.96,188.89 L369.04,188.89 L369.12,188.89 L369.21,188.89 L369.29,188.89 L369.38,188.89 L369.46,188.89 L369.55,188.89 L369.63,188.89 L369.72,188.89 L369.80,188.89 L369.89,188.89 L369.97,188.89 L370.06,188.89 L370.14,188.89 L370.23,188.89 L370.31,188.89 L370.40,188.89 L370.48,188.89 L370.57,188.89 L370.65,188.89 L370.73,188.89 L370.82,188.89 L370.90,188.89 L370.99,188.89 L371.07,188.89 L371.16,188.89 L371.24,188.89 L371.33,188.89 L371.41,188.89 L371.50,188.89 L371.58,188.89 L371.67,188.89 L371.75,188.89 L371.84,188.89 L371.92,188.89 L372.01,188.89 L372.09,188.89 L372.18,188.89 L372.26,188.89 L372.35,188.89 L372.43,188.89 L372.51,188.89 L372.60,188.89 L372.68,188.89 L372.77,188.89 L372.85,188.89 L372.94,188.89 L373.02,188.89 L373.11,188.89 L373.19,188.89 L373.28,188.89 L373.36,188.89 L373.45,188.89 L373.53,188.89 L373.62,188.89 L373.70,188.89 L373.79,188.89 L373.87,188.89 L373.96,188.89 L374.04,188.89 L374.12,188.89 L374.21,188.89 L374.29,188.89 L374.38,188.89 L374.46,188.89 L374.55,188.89 L374.63,188.89 L374.72,188.89 L374.80,188.89 L374.89,188.89 L374.97,188.89 L375.06,188.89 L375.14,188.89 L375.23,188.89 L375.31,188.89 L375.40,188.89 L375.48,188.89 L375.57,188.89 L375.65,188.89 L375.74,188.89 L375.82,188.89 L375.90,188.89 L375.99,188.89 L376.07,188.89 L376.16,188.89 L376.24,188.89 L376.33,188.89 L376.41,188.89 L376.50,188.89 L376.58,188.89 L376.67,188.89 L376.75,188.89 L376.84,188.89 L376.92,188.89 L377.01,188.89 L377.09,188.89 L377.18,188.89 L377.26,188.89 L377.35,188.89 L377.43,188.89 L377.51,188.89 L377.60,188.89 L377.68,188.89 L377.77,188.89 L377.85,188.89 L377.94,188.89 L378.02,188.89 L378.11,188.89 L378.19,188.89 L378.28,188.89 L378.36,188.89 L378.45,188.89 L378.53,188.89 L378.62,188.89 L378.70,188.89 L378.79,188.89 L378.87,188.89 L378.96,188.89 L379.04,188.89 L379.12,188.89 L379.21,188.89 L379.29,188.89 L379.38,188.89 L379.46,188.89 L379.55,188.89 L379.63,188.89 L379.72,188.89 L379.80,188.89 L379.89,188.89 L379.97,188.89 L380.06,188.89 L380.14,188.89 L380.23,188.89 L380.31,188.89 L380.40,188.89 L380.48,188.89 L380.57,188.89 L380.65,188.89 L380.74,188.89 L380.82,188.89 L380.90,188.89 L380.99,188.89 L381.07,188.89 L381.16,188.89 L381.24,188.89 L381.33,188.89 L381.41,188.89 L381.50,188.89 L381.58,188.89 L381.67,188.89 L381.75,188.89 L381.84,188.89 L381.92,188.89 L382.01,188.89 L382.09,188.89 L382.18,188.89 L382.26,188.89 L382.35,188.89 L382.43,188.89 L382.51,188.89 L382.60,188.89 L382.68,188.89 L382.77,188.89 L382.85,188.89 L382.94,188.89 L383.02,188.89 L383.11,188.89 L383.19,188.89 L383.28,188.89 L383.36,188.89 L383.45,188.89 L383.53,188.89 L383.62,188.89 L383.70,188.89 L383.79,188.89 L383.87,188.89 L383.96,188.89 L384.04,188.89 L384.13,188.89 L384.21,188.89 L384.29,188.89 L384.38,188.89 L384.46,188.89 L384.55,188.89 L384.63,188.89 L384.72,188.89 L384.80,188.89 L384.89,188.89 L384.97,188.89 L385.06,188.89 L385.14,188.89 L385.23,188.89 L385.31,188.89 L385.40,188.89 L385.48,188.89 L385.57,188.89 L385.65,188.89 L385.74,188.89 L385.82,188.89 L385.90,188.89 L385.99,188.89 L386.07,188.89 L386.16,188.89 L386.24,188.89 L386.33,188.89 L386.41,188.89 L386.50,188.89 L386.58,188.89 L386.67,188.89 L386.75,188.89 L386.84,188.89 L386.92,188.89 L387.01,188.89 L387.09,188.89 L387.18,188.89 L387.26,188.89 L387.35,188.89 L387.43,188.89 L387.52,188.89 L387.60,188.89 L387.68,188.89 L387.77,188.89 L387.85,188.89 L387.94,188.89 L388.02,188.89 L388.11,188.89 L388.19,188.89 L388.28,188.89 L388.36,188.89 L388.45,188.89 L388.53,188.89 L388.62,188.89 L388.70,188.89 L388.79,188.89 L388.87,188.89 L388.96,188.89 L389.04,188.89 L389.13,188.89 L389.21,188.89 L389.29,188.89 L389.38,188.89 L389.46,188.89 L389.55,188.89 L389.63,188.89 L389.72,188.89 L389.80,188.89 L389.89,188.89 L389.97,188.89 L390.06,188.89 L390.14,188.89 L390.23,188.89 L390.31,188.89 L390.40,188.89 L390.48,188.89 L390.57,188.89 L390.65,188.89 L390.74,188.89 L390.82,188.89 L390.91,188.89 L390.99,188.89 L391.07,188.89 L391.16,188.89 L391.24,188.89 L391.33,188.89 L391.41,188.89 L391.50,188.89 L391.58,188.89 L391.67,188.89 L391.75,188.89 L391.84,188.89 L391.92,188.89 L392.01,188.89 L392.09,188.89 L392.18,188.89 L392.26,188.89 L392.35,188.89 L392.43,188.89 L392.52,188.89 L392.60,188.89 L392.69,188.89 L392.77,188.89 L392.85,188.89 L392.94,188.89 L393.02,188.89 L393.11,188.89 L393.19,188.89 L393.28,188.89 L393.36,188.89 L393.45,188.89 L393.53,188.89 L393.62,188.89 L393.70,188.89 L393.79,188.89 L393.87,188.89 L393.96,188.89 L394.04,188.89 L394.13,188.89 L394.21,188.89 L394.30,188.89 L394.38,188.89 L394.46,188.89 L394.55,188.89 L394.63,188.89 L394.72,188.89 L394.80,188.89 L394.89,188.89 L394.97,188.89 L395.06,188.89 L395.14,188.89 L395.23,188.89 L395.31,188.89 L395.40,188.89 L395.48,188.89 L395.57,188.89 L395.65,188.89 L395.74,188.89 L395.82,188.89 L395.91,188.89 L395.99,188.89 L396.07,188.89 L396.16,188.89 L396.24,188.89 L396.33,188.89 L396.41,188.89 L396.50,188.89 L396.58,188.89 L396.67,188.89 L396.75,188.89 L396.84,188.89 L396.92,188.89 L397.01,188.89 L397.09,188.89 L397.18,188.89 L397.26,188.89 L397.35,188.89 L397.43,188.89 L397.52,188.89 L397.60,188.89 L397.69,188.89 L397.77,188.89 L397.85,188.89 L397.94,188.89 L398.02,188.89 L398.11,188.89 L398.19,188.89 L398.28,188.89 L398.36,188.89 L398.45,188.89 L398.53,188.89 L398.62,188.89 L398.70,188.89 L398.79,188.89 L398.87,188.89 L398.96,188.89 L399.04,188.89 L399.13,188.89 L399.21,188.89 L399.30,188.89 L399.38,188.89 L399.47,188.89 L399.55,188.89 L399.63,188.89 L399.72,188.89 L399.80,188.89 L399.89,188.89 L399.97,188.89 L400.06,188.89 L400.14,188.89 L400.23,188.89 L400.31,188.89 L400.40,188.89 L400.48,188.89 L400.57,188.89 L400.65,188.89 L400.74,188.89 L400.82,188.89 L400.91,188.89 L400.99,188.89 L401.08,188.89 L401.16,188.89 L401.24,188.89 L401.33,188.89 L401.41,188.89 L401.50,188.89 L401.58,188.89 L401.67,188.89 L401.75,188.89 L401.84,188.89 L401.92,188.89 L402.01,188.89 L402.09,188.89 L402.18,188.89 L402.26,188.89 L402.35,188.89 L402.43,188.89 L402.52,188.89 L402.60,188.89 L402.69,188.89 L402.77,188.89 L402.86,188.89 L402.94,188.89 L403.02,188.89 L403.11,188.89 L403.19,188.89 L403.28,188.89 L403.36,188.89 L403.45,188.89 L403.53,188.89 L403.62,188.89 L403.70,188.89 L403.79,188.89 L403.87,188.89 L403.96,188.89 L404.04,188.89 L404.13,188.89 L404.21,188.89 L404.30,188.89 L404.38,188.89 L404.47,188.89 L404.55,188.89 L404.63,188.89 L404.72,188.89 L404.80,188.89 L404.89,188.89 L404.97,188.89 L405.06,188.89 L405.14,188.89 L405.23,188.89 L405.31,188.89 L405.40,188.89 L405.48,188.89 L405.57,188.89 L405.65,188.89 L405.74,188.89 L405.82,188.89 L405.91,188.89 L405.99,188.89 L406.08,188.89 L406.16,188.89 L406.25,188.89 L406.33,188.89 L406.41,188.89 L406.50,188.89 L406.58,188.89 L406.67,188.89 L406.75,188.89 L406.84,188.89 L406.92,188.89 L407.01,188.89 L407.09,188.89 L407.18,188.89 L407.26,188.89 L407.35,188.89 L407.43,188.89 L407.52,188.89 L407.60,188.89 L407.69,188.89 L407.77,188.89 L407.86,188.89 L407.94,188.89 L408.02,188.89 L408.11,188.89 L408.19,188.89 L408.28,188.89 L408.36,188.89 L408.45,188.89 L408.53,188.89 L408.62,188.89 L408.70,188.89 L408.79,188.89 L408.87,188.89 L408.96,188.89 L409.04,188.89 L409.13,188.89 L409.21,188.89 L409.30,188.89 L409.38,188.89 L409.47,188.89 L409.55,188.89 L409.63,188.89 L409.72,188.89 L409.80,188.89 L409.89,188.89 L409.97,188.89 L410.06,188.89 L410.14,188.89 L410.23,188.89 L410.31,188.89 L410.40,188.89 L410.48,188.89 L410.57,188.89 L410.65,188.89 L410.74,188.89 L410.82,188.89 L410.91,188.89 L410.99,188.89 L411.08,188.89 L411.16,188.89 L411.25,188.89 L411.33,188.89 L411.41,188.89 L411.50,188.89 L411.58,188.89 L411.67,188.89 L411.75,188.89 L411.84,188.89 L411.92,188.89 L412.01,188.89 L412.09,188.89 L412.18,188.89 L412.26,188.89 L412.35,188.89 L412.43,188.89 L412.52,188.89 L412.60,188.89 L412.69,188.89 L412.77,188.89 L412.86,188.89 L412.94,188.89 L413.02,188.89 L413.11,188.89 L413.19,188.89 L413.28,188.89 L413.36,188.89 L413.45,188.89 L413.53,188.89 L413.62,188.89 L413.70,188.89 L413.79,188.89 L413.87,188.89 L413.96,188.89 L414.04,188.89 L414.13,188.89 L414.21,188.89 L414.30,188.89 L414.38,188.89 L414.47,188.89 L414.55,188.89 L414.64,188.89 L414.72,188.89 L414.80,188.89 L414.89,188.89 L414.97,188.89 L415.06,188.89 L415.14,188.89 L415.23,188.89 L415.31,188.89 L415.40,188.89 L415.48,188.89 L415.57,188.89 L415.65,188.89 L415.74,188.89 L415.82,188.89 L415.91,188.89 L415.99,188.89 L416.08,188.89 L416.16,188.89 L416.25,188.89 L416.33,188.89 L416.42,188.89 L416.50,188.89 L416.58,188.89 L416.67,188.89 L416.75,188.89 L416.84,188.89 L416.92,188.89 L417.01,188.89 L417.09,188.89 L417.18,188.89 L417.26,188.89 L417.35,188.89 L417.43,188.89 L417.52,188.89 L417.60,188.89 L417.69,188.89 L417.77,188.89 L417.86,188.89 L417.94,188.89 L418.03,188.89 L418.11,188.89 L418.19,188.89 L418.28,188.89 L418.36,188.89 L418.45,188.89 L418.53,188.89 L418.62,188.89 L418.70,188.89 L418.79,188.89 L418.87,188.89 L418.96,188.89 L419.04,188.89 L419.13,188.89 L419.21,188.89 L419.30,188.89 L419.38,188.89 L419.47,188.89 L419.55,188.89 L419.64,188.89 L419.72,188.89 L419.81,188.89 L419.89,188.89 L419.97,188.89 L420.06,188.89 L420.14,188.89 L420.23,188.89 L420.31,188.89 L420.40,188.89 L420.48,188.89 L420.57,188.89 L420.65,188.89 L420.74,188.89 L420.82,188.89 L420.91,188.89 L420.99,188.89 L421.08,188.89 L421.16,188.89 L421.25,188.89 L421.33,188.89 L421.42,188.89 L421.50,188.89" fill="none" stroke="#00ff00" stroke-width="2" stroke-dasharray="6 4.6"/>
<g fill="#ff0000"><circle cx="252.00" cy="188.89" r="1.5"/><circle cx="252.85" cy="188.89" r="1.5"/><circle cx="253.69" cy="188.89" r="1.5"/><circle cx="254.54" cy="188.89" r="1.5"/><circle cx="255.39" cy="188.89" r="1.5"/><circle cx="256.24" cy="188.89" r="1.5"/><circle cx="257.08" cy="188.89" r="1.5"/><circle cx="257.93" cy="188.89" r="1.5"/><circle cx="258.78" cy="188.89" r="1.5"/><circle cx="259.63" cy="188.89" r="1.5"/><circle cx="260.48" cy="188.89" r="1.5"/><circle cx="261.32" cy="188.89" r="1.5"/><circle cx="262.17" cy="188.89" r="1.5"/><circle cx="263.02" cy="188.89" r="1.5"/><circle cx="263.87" cy="188.89" r="1.5"/><circle cx="264.71" cy="188.89" r="1.5"/><circle cx="265.56" cy="188.89" r="1.5"/><circle cx="266.41" cy="188.89" r="1.5"/><circle cx="267.25" cy="188.89" r="1.5"/><circle cx="268.10" cy="188.89" r="1.5"/><circle cx="268.95" cy="188.89" r="1.5"/><circle cx="269.80" cy="188.89" r="1.5"/><circle cx="270.64" cy="188.89" r="1.5"/><circle cx="271.49" cy="188.89" r="1.5"/><circle cx="272.34" cy="188.89" r="1.5"/><circle cx="273.19" cy="188.89" r="1.5"/><circle cx="274.03" cy="188.89" r="1.5"/><circle cx="274.88" cy="188.89" r="1.5"/><circle cx="275.73" cy="188.89" r="1.5"/><circle cx="276.58" cy="188.89" r="1.5"/><circle cx="277.43" cy="188.89" r="1.5"/><circle cx="278.27" cy="188.89" r="1.5"/><circle cx="279.12" cy="188.89" r="1.5"/><circle cx="279.97" cy="188.89" r="1.5"/><circle cx="280.81" cy="188.89" r="1.5"/><circle cx="281.66" cy="188.89" r="1.5"/><circle cx="282.51" cy="188.89" r="1.5"/><circle cx="283.36" cy="188.89" r="1.5"/><circle cx="284.20" cy="188.89" r="1.5"/><circle cx="285.05" cy="188.89" r="1.5"/><circle cx="285.90" cy="188.89" r="1.5"/><circle cx="286.75" cy="188.89" r="1.5"/><circle cx="287.60" cy="188.89" r="1.5"/><circle cx="288.44" cy="188.89" r="1.5"/><circle cx="289.29" cy="188.89" r="1.5"/><circle cx="290.14" cy="188.89" r="1.5"/><circle cx="290.99" cy="188.89" r="1.5"/><circle cx="291.83" cy="188.89" r="1.5"/><circle cx="292.68" cy="188.89" r="1.5"/><circle cx="293.53" cy="188.89" r="1.5"/><circle cx="294.38" cy="188.89" r="1.5"/><circle cx="295.22" cy="188.89" r="1.5"/><circle cx="296.07" cy="188.89" r="1.5"/><circle cx="296.92" cy="188.89" r="1.5"/><circle cx="297.76" cy="188.89" r="1.5"/><circle cx="298.61" cy="188.89" r="1.5"/><circle cx="299.46" cy="188.89" r="1.5"/><circle cx="300.31" cy="188.89" r="1.5"/><circle cx="301.16" cy="188.89" r="1.5"/><circle cx="302.00" cy="188.89" r="1.5"/><circle cx="302.85" cy="188.89" r="1.5"/><circle cx="303.70" cy="188.89" r="1.5"/><circle cx="304.55" cy="188.89" r="1.5"/><circle cx="305.39" cy="188.89" r="1.5"/><circle cx="306.24" cy="188.89" r="1.5"/><circle cx="307.09" cy="188.89" r="1.5"/><circle cx="307.94" cy="188.89" r="1.5"/><circle cx="308.78" cy="188.89" r="1.5"/><circle cx="309.63" cy="188.89" r="1.5"/><circle cx="310.48" cy="188.88" r="1.5"/><circle cx="311.32" cy="188.88" r="1.5"/><circle cx="312.17" cy="188.87" r="1.5"/><circle cx="313.02" cy="188.85" r="1.5"/><circle cx="313.87" cy="188.83" r="1.5"/><circle cx="314.71" cy="188.78" r="1.5"/><circle cx="315.56" cy="188.71" r="1.5"/><circle cx="316.41" cy="188.60" r="1.5"/><circle cx="317.26" cy="188.43" r="1.5"/><circle cx="318.11" cy="188.17" r="1.5"/><circle cx="318.95" cy="187.78" r="1.5"/><circle cx="319.80" cy="187.22" r="1.5"/><circle cx="320.65" cy="186.42" r="1.5"/><circle cx="321.50" cy="185.31" r="1.5"/><circle cx="322.34" cy="183.81" r="1.5"/><circle cx="323.19" cy="181.83" r="1.5"/><circle cx="324.04" cy="179.26" r="1.5"/><circle cx="324.88" cy="176.02" r="1.5"/><circle cx="325.73" cy="172.04" r="1.5"/><circle cx="326.58" cy="167.25" r="1.5"/><circle cx="327.43" cy="161.65" r="1.5"/><circle cx="328.27" cy="155.29" r="1.5"/><circle cx="329.12" cy="148.26" r="1.5"/><circle cx="329.97" cy="140.73" r="1.5"/><circle cx="330.82" cy="132.94" r="1.5"/><circle cx="331.67" cy="125.17" r="1.5"/><circle cx="332.51" cy="117.76" r="1.5"/><circle cx="333.36" cy="111.06" r="1.5"/><circle cx="334.21" cy="105.42" r="1.5"/><circle cx="335.06" cy="101.14" r="1.5"/><circle cx="335.90" cy="98.46" r="1.5"/><circle cx="336.75" cy="97.56" r="1.5"/><circle cx="337.60" cy="98.46" r="1.5"/><circle cx="338.44" cy="101.14" r="1.5"/><circle cx="339.29" cy="105.42" r="1.5"/><circle cx="340.14" cy="111.06" r="1.5"/><circle cx="340.99" cy="117.76" r="1.5"/><circle cx="341.84" cy="125.17" r="1.5"/><circle cx="342.68" cy="132.94" r="1.5"/><circle cx="343.53" cy="140.73" r="1.5"/><circle cx="344.38" cy="148.26" r="1.5"/><circle cx="345.23" cy="155.29" r="1.5"/><circle cx="346.07" cy="161.65" r="1.5"/><circle cx="346.92" cy="167.25" r="1.5"/><circle cx="347.77" cy="172.04" r="1.5"/><circle cx="348.62" cy="176.02" r="1.5"/><circle cx="349.46" cy="179.26" r="1.5"/><circle cx="350.31" cy="181.83" r="1.5"/><circle cx="351.16" cy="183.81" r="1.5"/><circle cx="352.00" cy="185.31" r="1.5"/><circle cx="352.85" cy="186.42" r="1.5"/><circle cx="353.70" cy="187.22" r="1.5"/><circle cx="354.55" cy="187.78" r="1.5"/><circle cx="355.39" cy="188.17" r="1.5"/><circle cx="356.24" cy="188.43" r="1.5"/><circle cx="357.09" cy="188.60" r="1.5"/><circle cx="357.94" cy="188.71" r="1.5"/><circle cx="358.79" cy="188.78" r="1.5"/><circle cx="359.63" cy="188.83" r="1.5"/><circle cx="360.48" cy="188.85" r="1.5"/><circle cx="361.33" cy="188.87" r="1.5"/><circle cx="362.18" cy="188.88" r="1.5"/><circle cx="363.02" cy="188.88" r="1.5"/><circle cx="363.87" cy="188.89" r="1.5"/><circle cx="364.72" cy="188.89" r="1.5"/><circle cx="365.56" cy="188.89" r="1.5"/><circle cx="366.41" cy="188.89" r="1.5"/><circle cx="367.26" cy="188.89" r="1.5"/><circle cx="368.11" cy="188.89" r="1.5"/><circle cx="368.96" cy="188.89" r="1.5"/><circle cx="369.80" cy="188.89" r="1.5"/><circle cx="370.65" cy="188.89" r="1.5"/><circle cx="371.50" cy="188.89" r="1.5"/><circle cx="372.35" cy="188.89" r="1.5"/><circle cx="373.19" cy="188.89" r="1.5"/><circle cx="374.04" cy="188.89" r="1.5"/><circle cx="374.89" cy="188.89" r="1.5"/><circle cx="375.74" cy="188.89" r="1.5"/><circle cx="376.58" cy="188.89" r="1.5"/><circle cx="377.43" cy="188.89" r="1.5"/><circle cx="378.28" cy="188.89" r="1.5"/><circle cx="379.12" cy="188.89" r="1.5"/><circle cx="379.97" cy="188.89" r="1.5"/><circle cx="380.82" cy="188.89" r="1.5"/><circle cx="381.67" cy="188.89" r="1.5"/><circle cx="382.51" cy="188.89" r="1.5"/><circle cx="383.36" cy="188.89" r="1.5"/><circle cx="384.21" cy="188.89" r="1.5"/><circle cx="385.06" cy="188.89" r="1.5"/><circle cx="385.90" cy="188.89" r="1.5"/><circle cx="386.75" cy="188.89" r="1.5"/><circle cx="387.60" cy="188.89" r="1.5"/><circle cx="388.45" cy="188.89" r="1.5"/><circle cx="389.29" cy="188.89" r="1.5"/><circle cx="390.14" cy="188.89" r="1.5"/><circle cx="390.99" cy="188.89" r="1.5"/><circle cx="391.84" cy="188.89" r="1.5"/><circle cx="392.69" cy="188.89" r="1.5"/><circle cx="393.53" cy="188.89" r="1.5"/><circle cx="394.38" cy="188.89" r="1.5"/><circle cx="395.23" cy="188.89" r="1.5"/><circle cx="396.07" cy="188.89" r="1.5"/><circle cx="396.92" cy="188.89" r="1.5"/><circle cx="397.77" cy="188.89" r="1.5"/><circle cx="398.62" cy="188.89" r="1.5"/><circle cx="399.47" cy="188.89" r="1.5"/><circle cx="400.31" cy="188.89" r="1.5"/><circle cx="401.16" cy="188.89" r="1.5"/><circle cx="402.01" cy="188.89" r="1.5"/><circle cx="402.86" cy="188.89" r="1.5"/><circle cx="403.70" cy="188.89" r="1.5"/><circle cx="404.55" cy="188.89" r="1.5"/><circle cx="405.40" cy="188.89" r="1.5"/><circle cx="406.25" cy="188.89" r="1.5"/><circle cx="407.09" cy="188.89" r="1.5"/><circle cx="407.94" cy="188.89" r="1.5"/><circle cx="408.79" cy="188.89" r="1.5"/><circle cx="409.63" cy="188.89" r="1.5"/><circle cx="410.48" cy="188.89" r="1.5"/><circle cx="411.33" cy="188.89" r="1.5"/><circle cx="412.18" cy="188.89" r="1.5"/><circle cx="413.02" cy="188.89" r="1.5"/><circle cx="413.87" cy="188.89" r="1.5"/><circle cx="414.72" cy="188.89" r="1.5"/><circle cx="415.57" cy="188.89" r="1.5"/><circle cx="416.42" cy="188.89" r="1.5"/><circle cx="417.26" cy="188.89" r="1.5"/><circle cx="418.11" cy="188.89" r="1.5"/><circle cx="418.96" cy="188.89" r="1.5"/><circle cx="419.81" cy="188.89" r="1.5"/><circle cx="420.65" cy="188.89" r="1.5"/><circle cx="421.50" cy="188.89" r="1.5"/></g>
<path d="M252.00,188.89 L252.08,188.89 L252.17,188.89 L252.25,188.89 L252.34,188.89 L252.42,188.89 L252.51,188.89 L252.59,188.89 L252.68,188.89 L252.76,188.89 L252.85,188.89 L252.93,188.89 L253.02,188.89 L253.10,188.89 L253.19,188.89 L253.27,188.89 L253.36,188.89 L253.44,188.89 L253.53,188.89 L253.61,188.89 L253.69,188.89 L253.78,188.89 L253.86,188.89 L253.95,188.89 L254.03,188.89 L254.12,188.89 L254.20,188.89 L254.29,188.89 L254.37,188.89 L254.46,188.89 L254.54,188.89 L254.63,188.89 L254.71,188.89 L254.80,188.89 L254.88,188.89 L254.97,188.89 L255.05,188.89 L255.14,188.89 L255.22,188.89 L255.31,188.89 L255.39,188.89 L255.47,188.89 L255.56,188.89 L255.64,188.89 L255.73,188.89 L255.81,188.89 L255.90,188.89 L255.98,188.89 L256.07,188.89 L256.15,188.89 L256.24,188.89 L256.32,188.89 L256.41,188.89 L256.49,188.89 L256.58,188.89 L256.66,188.89 L256.75,188.89 L256.83,188.89 L256.92,188.89 L257.00,188.89 L257.08,188.89 L257.17,188.89 L257.25,188.89 L257.34,188.89 L257.42,188.89 L257.51,188.89 L257.59,188.89 L257.68,188.89 L257.76,188.89 L257.85,188.89 L257.93,188.89 L258.02,188.89 L258.10,188.89 L258.19,188.89 L258.27,188.89 L258.36,188.89 L258.44,188.89 L258.53,188.89 L258.61,188.89 L258.70,188.89 L258.78,188.89 L258.86,188.89 L258.95,188.89 L259.03,188.89 L259.12,188.89 L259.20,188.89 L259.29,188.89 L259.37,188.89 L259.46,188.89 L259.54,188.89 L259.63,188.89 L259.71,188.89 L259.80,188.89 L259.88,188.89 L259.97,188.89 L260.05,188.89 L260.14,188.89 L260.22,188.89 L260.31,188.89 L260.39,188.89 L260.48,188.89 L260.56,188.89 L260.64,188.89 L260.73,188.89 L260.81,188.89 L260.90,188.89 L260.98,188.89 L261.07,188.89 L261.15,188.89 L261.24,188.89 L261.32,188.89 L261.41,188.89 L261.49,188.89 L261.58,188.89 L261.66,188.89 L261.75,188.89 L261.83,188.89 L261.92,188.89 L262.00,188.89 L262.09,188.89 L262.17,188.89 L262.25,188.89 L262.34,188.89 L262.42,188.89 L262.51,188.89 L262.59,188.89 L262.68,188.89 L262.76,188.89 L262.85,188.89 L262.93,188.89 L263.02,188.89 L263.10,188.89 L263.19,188.89 L263.27,188.89 L263.36,188.89 L263.44,188.89 L263.53,188.89 L263.61,188.89 L263.70,188.89 L263.78,188.89 L263.87,188.89 L263.95,188.89 L264.03,188.89 L264.12,188.89 L264.20,188.89 L264.29,188.89 L264.37,188.89 L264.46,188.89 L264.54,188.89 L264.63,188.89 L264.71,188.89 L264.80,188.89 L264.88,188.89 L264.97,188.89 L265.05,188.89 L265.14,188.89 L265.22,188.89 L265.31,188.89 L265.39,188.89 L265.48,188.89 L265.56,188.89 L265.64,188.89 L265.73,188.89 L265.81,188.89 L265.90,188.89 L265.98,188.89 L266.07,188.89 L266.15,188.89 L266.24,188.89 L266.32,188.89 L266.41,188.89 L266.49,188.89 L266.58,188.89 L266.66,188.89 L266.75,188.89 L266.83,188.89 L266.92,188.89 L267.00,188.89 L267.09,188.89 L267.17,188.89 L267.25,188.89 L267.34,188.89 L267.42,188.89 L267.51,188.89 L267.59,188.89 L267.68,188.89 L267.76,188.89 L267.85,188.89 L267.93,188.89 L268.02,188.89 L268.10,188.89 L268.19,188.89 L268.27,188.89 L268.36,188.89 L268.44,188.89 L268.53,188.89 L268.61,188.89 L268.70,188.89 L268.78,188.89 L268.87,188.89 L268.95,188.89 L269.03,188.89 L269.12,188.89 L269.20,188.89 L269.29,188.89 L269.37,188.89 L269.46,188.89 L269.54,188.89 L269.63,188.89 L269.71,188.89 L269.80,188.89 L269.88,188.89 L269.97,188.89 L270.05,188.89 L270.14,188.89 L270.22,188.89 L270.31,188.89 L270.39,188.89 L270.48,188.89 L270.56,188.89 L270.64,188.89 L270.73,188.89 L270.81,188.89 L270.90,188.89 L270.98,188.89 L271.07,188.89 L271.15,188.89 L271.24,188.89 L271.32,188.89 L271.41,188.89 L271.49,188.89 L271.58,188.89 L271.66,188.89 L271.75,188.89 L271.83,188.89 L271.92,188.89 L272.00,188.89 L272.09,188.89 L272.17,188.89 L272.26,188.89 L272.34,188.89 L272.42,188.89 L272.51,188.89 L272.59,188.89 L272.68,188.89 L272.76,188.89 L272.85,188.89 L272.93,188.89 L273.02,188.89 L273.10,188.89 L273.19,188.89 L273.27,188.89 L273.36,188.89 L273.44,188.89 L273.53,188.89 L273.61,188.89 L273.70,188.89 L273.78,188.89 L273.87,188.89 L273.95,188.89 L274.03,188.89 L274.12,188.89 L274.20,188.89 L274.29,188.89 L274.37,188.89 L274.46,188.89 L274.54,188.89 L274.63,188.89 L274.71,188.89 L274.80,188.89 L274.88,188.89 L274.97,188.89 L275.05,188.89 L275.14,188.89 L275.22,188.89 L275.31,188.89 L275.39,188.89 L275.48,188.89 L275.56,188.89 L275.65,188.89 L275.73,188.89 L275.81,188.89 L275.90,188.89 L275.98,188.89 L276.07,188.89 L276.15,188.89 L276.24,188.89 L276.32,188.89 L276.41,188.89 L276.49,188.89 L276.58,188.89 L276.66,188.89 L276.75,188.89 L276.83,188.89 L276.92,188.89 L277.00,188.89 L277.09,188.89 L277.17,188.89 L277.26,188.89 L277.34,188.89 L277.43,188.89 L277.51,188.89 L277.59,188.89 L277.68,188.89 L277.76,188.89 L277.85,188.89 L277.93,188.89 L278.02,188.89 L278.10,188.89 L278.19,188.89 L278.27,188.89 L278.36,188.89 L278.44,188.89 L278.53,188.89 L278.61,188.89 L278.70,188.89 L278.78,188.89 L278.87,188.89 L278.95,188.89 L279.04,188.89 L279.12,188.89 L279.20,188.89 L279.29,188.89 L279.37,188.89 L279.46,188.89 L279.54,188.89 L279.63,188.89 L279.71,188.89 L279.80,188.89 L279.88,188.89 L279.97,188.89 L280.05,188.89 L280.14,188.89 L280.22,188.89 L280.31,188.89 L280.39,188.89 L280.48,188.89 L280.56,188.89 L280.65,188.89 L280.73,188.89 L280.81,188.89 L280.90,188.89 L280.98,188.89 L281.07,188.89 L281.15,188.89 L281.24,188.89 L281.32,188.89 L281.41,188.89 L281.49,188.89 L281.58,188.89 L281.66,188.89 L281.75,188.89 L281.83,188.89 L281.92,188.89 L282.00,188.89 L282.09,188.89 L282.17,188.89 L282.26,188.89 L282.34,188.89 L282.43,188.89 L282.51,188.89 L282.59,188.89 L282.68,188.89 L282.76,188.89 L282.85,188.89 L282.93,188.89 L283.02,188.89 L283.10,188.89 L283.19,188.89 L283.27,188.89 L283.36,188.89 L283.44,188.89 L283.53,188.89 L283.61,188.89 L283.70,188.89 L283.78,188.89 L283.87,188.89 L283.95,188.89 L284.04,188.89 L284.12,188.89 L284.20,188.89 L284.29,188.89 L284.37,188.89 L284.46,188.89 L284.54,188.89 L284.63,188.89 L284.71,188.89 L284.80,188.89 L284.88,188.89 L284.97,188.89 L285.05,188.89 L285.14,188.89 L285.22,188.89 L285.31,188.89 L285.39,188.89 L285.48,188.89 L285.56,188.89 L285.65,188.89 L285.73,188.89 L285.82,188.89 L285.90,188.89 L285.98,188.89 L286.07,188.89 L286.15,188.89 L286.24,188.89 L286.32,188.89 L286.41,188.89 L286.49,188.89 L286.58,188.89 L286.66,188.89 L286.75,188.89 L286.83,188.89 L286.92,188.89 L287.00,188.89 L287.09,188.89 L287.17,188.89 L287.26,188.89 L287.34,188.89 L287.43,188.89 L287.51,188.89 L287.60,188.89 L287.68,188.89 L287.76,188.89 L287.85,188.89 L287.93,188.89 L288.02,188.89 L288.10,188.89 L288.19,188.89 L288.27,188.89 L288.36,188.89 L288.44,188.89 L288.53,188.89 L288.61,188.89 L288.70,188.89 L288.78,188.89 L288.87,188.89 L288.95,188.89 L289.04,188.89 L289.12,188.89 L289.21,188.89 L289.29,188.89 L289.37,188.89 L289.46,188.89 L289.54,188.89 L289.63,188.89 L289.71,188.89 L289.80,188.89 L289.88,188.89 L289.97,188.89 L290.05,188.89 L290.14,188.89 L290.22,188.89 L290.31,188.89 L290.39,188.89 L290.48,188.89 L290.56,188.89 L290.65,188.89 L290.73,188.89 L290.82,188.89 L290.90,188.89 L290.99,188.89 L291.07,188.89 L291.15,188.89 L291.24,188.89 L291.32,188.89 L291.41,188.89 L291.49,188.89 L291.58,188.89 L291.66,188.89 L291.75,188.89 L291.83,188.89 L291.92,188.89 L292.00,188.89 L292.09,188.89 L292.17,188.89 L292.26,188.89 L292.34,188.89 L292.43,188.89 L292.51,188.89 L292.60,188.89 L292.68,188.89 L292.76,188.89 L292.85,188.89 L292.93,188.89 L293.02,188.89 L293.10,188.89 L293.19,188.89 L293.27,188.89 L293.36,188.89 L293.44,188.89 L293.53,188.89 L293.61,188.89 L293.70,188.89 L293.78,188.89 L293.87,188.89 L293.95,188.89 L294.04,188.89 L294.12,188.89 L294.21,188.89 L294.29,188.89 L294.38,188.89 L294.46,188.89 L294.54,188.89 L294.63,188.89 L294.71,188.89 L294.80,188.89 L294.88,188.89 L294.97,188.89 L295.05,188.89 L295.14,188.89 L295.22,188.89 L295.31,188.89 L295.39,188.89 L295.48,188.89 L295.56,188.89 L295.65,188.89 L295.73,188.89 L295.82,188.89 L295.90,188.89 L295.99,188.89 L296.07,188.89 L296.15,188.89 L296.24,188.89 L296.32,188.89 L296.41,188.89 L296.49,188.89 L296.58,188.89 L296.66,188.89 L296.75,188.89 L296.83,188.89 L296.92,188.89 L297.00,188.89 L297.09,188.89 L297.17,188.89 L297.26,188.89 L297.34,188.89 L297.43,188.89 L297.51,188.89 L297.60,188.89 L297.68,188.89 L297.76,188.89 L297.85,188.89 L297.93,188.89 L298.02,188.89 L298.10,188.89 L298.19,188.89 L298.27,188.89 L298.36,188.89 L298.44,188.89 L298.53,188.89 L298.61,188.89 L298.70,188.89 L298.78,188.89 L298.87,188.89 L298.95,188.89 L299.04,188.89 L299.12,188.89 L299.21,188.89 L299.29,188.89 L299.38,188.89 L299.46,188.89 L299.54,188.89 L299.63,188.89 L299.71,188.89 L299.80,188.89 L299.88,188.89 L299.97,188.89 L300.05,188.89 L300.14,188.89 L300.22,188.89 L300.31,188.89 L300.39,188.89 L300.48,188.89 L300.56,188.89 L300.65,188.89 L300.73,188.89 L300.82,188.89 L300.90,188.89 L300.99,188.89 L301.07,188.89 L301.15,188.89 L301.24,188.89 L301.32,188.89 L301.41,188.89 L301.49,188.89 L301.58,188.89 L301.66,188.89 L301.75,188.89 L301.83,188.89 L301.92,188.89 L302.00,188.89 L302.09,188.89 L302.17,188.89 L302.26,188.89 L302.34,188.89 L302.43,188.89 L302.51,188.89 L302.60,188.89 L302.68,188.89 L302.77,188.89 L302.85,188.89 L302.93,188.89 L303.02,188.89 L303.10,188.89 L303.19,188.89 L303.27,188.89 L303.36,188.89 L303.44,188.89 L303.53,188.89 L303.61,188.89 L303.70,188.89 L303.78,188.89 L303.87,188.89 L303.95,188.89 L304.04,188.89 L304.12,188.89 L304.21,188.89 L304.29,188.89 L304.38,188.89 L304.46,188.89 L304.55,188.89 L304.63,188.89 L304.71,188.89 L304.80,188.89 L304.88,188.89 L304.97,188.89 L305.05,188.89 L305.14,188.89 L305.22,188.89 L305.31,188.89 L305.39,188.89 L305.48,188.89 L305.56,188.89 L305.65,188.89 L305.73,188.89 L305.82,188.89 L305.90,188.89 L305.99,188.89 L306.07,188.89 L306.16,188.89 L306.24,188.89 L306.32,188.89 L306.41,188.89 L306.49,188.89 L306.58,188.89 L306.66,188.89 L306.75,188.89 L306.83,188.89 L306.92,188.89 L307.00,188.89 L307.09,188.89 L307.17,188.89 L307.26,188.89 L307.34,188.89 L307.43,188.89 L307.51,188.89 L307.60,188.89 L307.68,188.89 L307.77,188.88 L307.85,188.88 L307.94,188.88 L308.02,188.88 L308.10,188.88 L308.19,188.88 L308.27,188.88 L308.36,188.88 L308.44,188.88 L308.53,188.88 L308.61,188.88 L308.70,188.88 L308.78,188.88 L308.87,188.88 L308.95,188.88 L309.04,188.88 L309.12,188.88 L309.21,188.87 L309.29,188.87 L309.38,188.87 L309.46,188.87 L309.55,188.87 L309.63,188.87 L309.71,188.87 L309.80,188.87 L309.88,188.86 L309.97,188.86 L310.05,188.86 L310.14,188.86 L310.22,188.86 L310.31,188.86 L310.39,188.85 L310.48,188.85 L310.56,188.85 L310.65,188.85 L310.73,188.84 L310.82,188.84 L310.90,188.84 L310.99,188.84 L311.07,188.83 L311.16,188.83 L311.24,188.83 L311.32,188.82 L311.41,188.82 L311.49,188.81 L311.58,188.81 L311.66,188.81 L311.75,188.80 L311.83,188.80 L311.92,188.79 L312.00,188.78 L312.09,188.78 L312.17,188.77 L312.26,188.77 L312.34,188.76 L312.43,188.75 L312.51,188.74 L312.60,188.74 L312.68,188.73 L312.77,188.72 L312.85,188.71 L312.94,188.70 L313.02,188.69 L313.10,188.68 L313.19,188.67 L313.27,188.65 L313.36,188.64 L313.44,188.63 L313.53,188.62 L313.61,188.60 L313.70,188.59 L313.78,188.57 L313.87,188.55 L313.95,188.54 L314.04,188.52 L314.12,188.50 L314.21,188.48 L314.29,188.46 L314.38,188.44 L314.46,188.41 L314.55,188.39 L314.63,188.37 L314.71,188.34 L314.80,188.31 L314.88,188.28 L314.97,188.25 L315.05,188.22 L315.14,188.19 L315.22,188.16 L315.31,188.12 L315.39,188.09 L315.48,188.05 L315.56,188.01 L315.65,187.97 L315.73,187.92 L315.82,187.88 L315.90,187.83 L315.99,187.78 L316.07,187.73 L316.16,187.68 L316.24,187.63 L316.33,187.57 L316.41,187.51 L316.49,187.45 L316.58,187.38 L316.66,187.32 L316.75,187.25 L316.83,187.17 L316.92,187.10 L317.00,187.02 L317.09,186.94 L317.17,186.86 L317.26,186.77 L317.34,186.68 L317.43,186.59 L317.51,186.49 L317.60,186.39 L317.68,186.29 L317.77,186.18 L317.85,186.07 L317.94,185.95 L318.02,185.84 L318.11,185.71 L318.19,185.58 L318.27,185.45 L318.36,185.32 L318.44,185.18 L318.53,185.03 L318.61,184.88 L318.70,184.72 L318.78,184.56 L318.87,184.40 L318.95,184.23 L319.04,184.05 L319.12,183.87 L319.21,183.68 L319.29,183.49 L319.38,183.29 L319.46,183.08 L319.55,182.87 L319.63,182.65 L319.72,182.43 L319.80,182.20 L319.88,181.96 L319.97,181.72 L320.05,181.47 L320.14,181.21 L320.22,180.94 L320.31,180.67 L320.39,180.39 L320.48,180.10 L320.56,179.80 L320.65,179.50 L320.73,179.19 L320.82,178.87 L320.90,178.54 L320.99,178.21 L321.07,177.86 L321.16,177.51 L321.24,177.15 L321.33,176.78 L321.41,176.40 L321.50,176.01 L321.58,175.62 L321.66,175.21 L321.75,174.80 L321.83,174.37 L321.92,173.94 L322.00,173.50 L322.09,173.04 L322.17,172.58 L322.26,172.11 L322.34,171.63 L322.43,171.14 L322.51,170.64 L322.60,170.13 L322.68,169.61 L322.77,169.08 L322.85,168.55 L322.94,168.00 L323.02,167.44 L323.11,166.87 L323.19,166.30 L323.27,165.71 L323.36,165.11 L323.44,164.51 L323.53,163.89 L323.61,163.27 L323.70,162.63 L323.78,161.99 L323.87,161.34 L323.95,160.68 L324.04,160.01 L324.12,159.33 L324.21,158.65 L324.29,157.95 L324.38,157.25 L324.46,156.54 L324.55,155.82 L324.63,155.09 L324.72,154.36 L324.80,153.62 L324.88,152.87 L324.97,152.11 L325.05,151.35 L325.14,150.58 L325.22,149.81 L325.31,149.03 L325.39,148.25 L325.48,147.46 L325.56,146.67 L325.65,145.87 L325.73,145.07 L325.82,144.27 L325.90,143.46 L325.99,142.65 L326.07,141.84 L326.16,141.03 L326.24,140.21 L326.33,139.40 L326.41,138.58 L326.50,137.77 L326.58,136.95 L326.66,136.14 L326.75,135.33 L326.83,134.52 L326.92,133.72 L327.00,132.91 L327.09,132.11 L327.17,131.32 L327.26,130.53 L327.34,129.75 L327.43,128.97 L327.51,128.20 L327.60,127.44 L327.68,126.69 L327.77,125.94 L327.85,125.20 L327.94,124.48 L328.02,123.76 L328.11,123.06 L328.19,122.37 L328.27,121.69 L328.36,121.02 L328.44,120.37 L328.53,119.74 L328.61,119.12 L328.70,118.51 L328.78,117.92 L328.87,117.35 L328.95,116.80 L329.04,116.27 L329.12,115.75 L329.21,115.26 L329.29,114.79 L329.38,114.34 L329.46,113.91 L329.55,113.50 L329.63,113.12 L329.72,112.76 L329.80,112.43 L329.89,112.12 L329.97,111.83 L330.05,111.58 L330.14,111.35 L330.22,111.15 L330.31,110.97 L330.39,110.83 L330.48,110.71 L330.56,110.63 L330.65,110.57 L330.73,110.55 L330.82,110.55 L330.90,110.59 L330.99,110.66 L331.07,110.77 L331.16,110.90 L331.24,111.07 L331.33,111.27 L331.41,111.51 L331.50,111.78 L331.58,112.08 L331.67,112.42 L331.75,112.80 L331.83,113.21 L331.92,113.65 L332.00,114.13 L332.09,114.65 L332.17,115.20 L332.26,115.78 L332.34,116.41 L332.43,117.07 L332.51,117.76 L332.60,118.49 L332.68,119.25 L332.77,120.05 L332.85,120.89 L332.94,121.76 L333.02,122.66 L333.11,123.60 L333.19,124.58 L333.28,125.58 L333.36,126.63 L333.44,127.70 L333.53,128.81 L333.61,129.95 L333.70,131.12 L333.78,132.33 L333.87,133.56 L333.95,134.83 L334.04,136.13 L334.12,137.45 L334.21,138.81 L334.29,140.19 L334.38,141.60 L334.46,143.04 L334.55,144.50 L334.63,145.99 L334.72,147.50 L334.80,149.04 L334.89,150.60 L334.97,152.18 L335.06,153.79 L335.14,155.41 L335.22,157.06 L335.31,158.72 L335.39,160.40 L335.48,162.10 L335.56,163.81 L335.65,165.54 L335.73,167.28 L335.82,169.04 L335.90,170.80 L335.99,172.58 L336.07,174.37 L336.16,176.17 L336.24,177.97 L336.33,179.78 L336.41,181.59 L336.50,183.41 L336.58,185.24 L336.67,187.06 L336.75,188.89 L336.83,190.72 L336.92,192.54 L337.00,194.37 L337.09,196.19 L337.17,198.00 L337.26,199.81 L337.34,201.61 L337.43,203.41 L337.51,205.20 L337.60,206.98 L337.68,208.74 L337.77,210.50 L337.85,212.24 L337.94,213.97 L338.02,215.68 L338.11,217.38 L338.19,219.06 L338.28,220.72 L338.36,222.37 L338.44,223.99 L338.53,225.60 L338.61,227.18 L338.70,228.74 L338.78,230.28 L338.87,231.79 L338.95,233.28 L339.04,234.74 L339.12,236.18 L339.21,237.59 L339.29,238.97 L339.38,240.33 L339.46,241.65 L339.55,242.95 L339.63,244.22 L339.72,245.45 L339.80,246.66 L339.89,247.83 L339.97,248.97 L340.06,250.08 L340.14,251.15 L340.22,252.20 L340.31,253.20 L340.39,254.18 L340.48,255.12 L340.56,256.02 L340.65,256.89 L340.73,257.73 L340.82,258.53 L340.90,259.29 L340.99,260.02 L341.07,260.71 L341.16,261.37 L341.24,262.00 L341.33,262.58 L341.41,263.13 L341.50,263.65 L341.58,264.13 L341.67,264.57 L341.75,264.98 L341.84,265.36 L341.92,265.70 L342.00,266.00 L342.09,266.27 L342.17,266.51 L342.26,266.71 L342.34,266.88 L342.43,267.01 L342.51,267.12 L342.60,267.19 L342.68,267.23 L342.77,267.23 L342.85,267.21 L342.94,267.15 L343.02,267.07 L343.11,266.95 L343.19,266.81 L343.28,266.63 L343.36,266.43 L343.45,266.20 L343.53,265.95 L343.61,265.66 L343.70,265.35 L343.78,265.02 L343.87,264.66 L343.95,264.28 L344.04,263.87 L344.12,263.44 L344.21,262.99 L344.29,262.52 L344.38,262.03 L344.46,261.51 L344.55,260.98 L344.63,260.43 L344.72,259.86 L344.80,259.27 L344.89,258.66 L344.97,258.04 L345.06,257.41 L345.14,256.76 L345.23,256.09 L345.31,255.41 L345.39,254.72 L345.48,254.02 L345.56,253.30 L345.65,252.58 L345.73,251.84 L345.82,251.09 L345.90,250.34 L345.99,249.58 L346.07,248.81 L346.16,248.03 L346.24,247.25 L346.33,246.46 L346.41,245.67 L346.50,244.87 L346.58,244.06 L346.67,243.26 L346.75,242.45 L346.84,241.64 L346.92,240.83 L347.00,240.01 L347.09,239.20 L347.17,238.38 L347.26,237.57 L347.34,236.75 L347.43,235.94 L347.51,235.13 L347.60,234.32 L347.68,233.51 L347.77,232.71 L347.85,231.91 L347.94,231.11 L348.02,230.32 L348.11,229.53 L348.19,228.75 L348.28,227.97 L348.36,227.20 L348.45,226.43 L348.53,225.67 L348.62,224.91 L348.70,224.16 L348.78,223.42 L348.87,222.69 L348.95,221.96 L349.04,221.24 L349.12,220.53 L349.21,219.83 L349.29,219.13 L349.38,218.45 L349.46,217.77 L349.55,217.10 L349.63,216.44 L349.72,215.79 L349.80,215.15 L349.89,214.51 L349.97,213.89 L350.06,213.27 L350.14,212.67 L350.23,212.07 L350.31,211.48 L350.39,210.91 L350.48,210.34 L350.56,209.78 L350.65,209.23 L350.73,208.70 L350.82,208.17 L350.90,207.65 L350.99,207.14 L351.07,206.64 L351.16,206.15 L351.24,205.67 L351.33,205.20 L351.41,204.74 L351.50,204.28 L351.58,203.84 L351.67,203.41 L351.75,202.98 L351.84,202.57 L351.92,202.16 L352.00,201.77 L352.09,201.38 L352.17,201.00 L352.26,200.63 L352.34,200.27 L352.43,199.92 L352.51,199.57 L352.60,199.24 L352.68,198.91 L352.77,198.59 L352.85,198.28 L352.94,197.98 L353.02,197.68 L353.11,197.39 L353.19,197.11 L353.28,196.84 L353.36,196.57 L353.45,196.31 L353.53,196.06 L353.62,195.82 L353.70,195.58 L353.78,195.35 L353.87,195.13 L353.95,194.91 L354.04,194.70 L354.12,194.49 L354.21,194.29 L354.29,194.10 L354.38,193.91 L354.46,193.73 L354.55,193.55 L354.63,193.38 L354.72,193.22 L354.80,193.06 L354.89,192.90 L354.97,192.75 L355.06,192.60 L355.14,192.46 L355.23,192.33 L355.31,192.20 L355.39,192.07 L355.48,191.94 L355.56,191.83 L355.65,191.71 L355.73,191.60 L355.82,191.49 L355.90,191.39 L355.99,191.29 L356.07,191.19 L356.16,191.10 L356.24,191.01 L356.33,190.92 L356.41,190.84 L356.50,190.76 L356.58,190.68 L356.67,190.61 L356.75,190.53 L356.84,190.46 L356.92,190.40 L357.01,190.33 L357.09,190.27 L357.17,190.21 L357.26,190.15 L357.34,190.10 L357.43,190.05 L357.51,190.00 L357.60,189.95 L357.68,189.90 L357.77,189.86 L357.85,189.81 L357.94,189.77 L358.02,189.73 L358.11,189.69 L358.19,189.66 L358.28,189.62 L358.36,189.59 L358.45,189.56 L358.53,189.53 L358.62,189.50 L358.70,189.47 L358.78,189.44 L358.87,189.41 L358.95,189.39 L359.04,189.37 L359.12,189.34 L359.21,189.32 L359.29,189.30 L359.38,189.28 L359.46,189.26 L359.55,189.24 L359.63,189.23 L359.72,189.21 L359.80,189.19 L359.89,189.18 L359.97,189.16 L360.06,189.15 L360.14,189.14 L360.23,189.13 L360.31,189.11 L360.40,189.10 L360.48,189.09 L360.56,189.08 L360.65,189.07 L360.73,189.06 L360.82,189.05 L360.90,189.04 L360.99,189.04 L361.07,189.03 L361.16,189.02 L361.24,189.01 L361.33,189.01 L361.41,189.00 L361.50,189.00 L361.58,188.99 L361.67,188.98 L361.75,188.98 L361.84,188.97 L361.92,188.97 L362.01,188.97 L362.09,188.96 L362.18,188.96 L362.26,188.95 L362.34,188.95 L362.43,188.95 L362.51,188.94 L362.60,188.94 L362.68,188.94 L362.77,188.94 L362.85,188.93 L362.94,188.93 L363.02,188.93 L363.11,188.93 L363.19,188.92 L363.28,188.92 L363.36,188.92 L363.45,188.92 L363.53,188.92 L363.62,188.92 L363.70,188.91 L363.79,188.91 L363.87,188.91 L363.95,188.91 L364.04,188.91 L364.12,188.91 L364.21,188.91 L364.29,188.91 L364.38,188.90 L364.46,188.90 L364.55,188.90 L364.63,188.90 L364.72,188.90 L364.80,188.90 L364.89,188.90 L364.97,188.90 L365.06,188.90 L365.14,188.90 L365.23,188.90 L365.31,188.90 L365.40,188.90 L365.48,188.90 L365.56,188.90 L365.65,188.90 L365.73,188.90 L365.82,188.89 L365.90,188.89 L365.99,188.89 L366.07,188.89 L366.16,188.89 L366.24,188.89 L366.33,188.89 L366.41,188.89 L366.50,188.89 L366.58,188.89 L366.67,188.89 L366.75,188.89 L366.84,188.89 L366.92,188.89 L367.01,188.89 L367.09,188.89 L367.18,188.89 L367.26,188.89 L367.34,188.89 L367.43,188.89 L367.51,188.89 L367.60,188.89 L367.68,188.89 L367.77,188.89 L367.85,188.89 L367.94,188.89 L368.02,188.89 L368.11,188.89 L368.19,188.89 L368.28,188.89 L368.36,188.89 L368.45,188.89 L368.53,188.89 L368.62,188.89 L368.70,188.89 L368.79,188.89 L368.87,188.89 L368.96,188.89 L369.04,188.89 L369.12,188.89 L369.21,188.89 L369.29,188.89 L369.38,188.89 L369.46,188.89 L369.55,188.89 L369.63,188.89 L369.72,188.89 L369.80,188.89 L369.89,188.89 L369.97,188.89 L370.06,188.89 L370.14,188.89 L370.23,188.89 L370.31,188.89 L370.40,188.89 L370.48,188.89 L370.57,188.89 L370.65,188.89 L370.73,188.89 L370.82,188.89 L370.90,188.89 L370.99,188.89 L371.07,188.89 L371.16,188.89 L371.24,188.89 L371.33,188.89 L371.41,188.89 L371.50,188.89 L371.58,188.89 L371.67,188.89 L371.75,188.89 L371.84,188.89 L371.92,188.89 L372.01,188.89 L372.09,188.89 L372.18,188.89 L372.26,188.89 L372.35,188.89 L372.43,188.89 L372.51,188.89 L372.60,188.89 L372.68,188.89 L372.77,188.89 L372.85,188.89 L372.94,188.89 L373.02,188.89 L373.11,188.89 L373.19,188.89 L373.28,188.89 L373.36,188.89 L373.45,188.89 L373.53,188.89 L373.62,188.89 L373.70,188.89 L373.79,188.89 L373.87,188.89 L373.96,188.89 L374.04,188.89 L374.12,188.89 L374.21,188.89 L374.29,188.89 L374.38,188.89 L374.46,188.89 L374.55,188.89 L374.63,188.89 L374.72,188.89 L374.80,188.89 L374.89,188.89 L374.97,188.89 L375.06,188.89 L375.14,188.89 L375.23,188.89 L375.31,188.89 L375.40,188.89 L375.48,188.89 L375.57,188.89 L375.65,188.89 L375.74,188.89 L375.82,188.89 L375.90,188.89 L375.99,188.89 L376.07,188.89 L376.16,188.89 L376.24,188.89 L376.33,188.89 L376.41,188.89 L376.50,188.89 L376.58,188.89 L376.67,188.89 L376.75,188.89 L376.84,188.89 L376.92,188.89 L377.01,188.89 L377.09,188.89 L377.18,188.89 L377.26,188.89 L377.35,188.89 L377.43,188.89 L377.51,188.89 L377.60,188.89 L377.68,188.89 L377.77,188.89 L377.85,188.89 L377.94,188.89 L378.02,188.89 L378.11,188.89 L378.19,188.89 L378.28,188.89 L378.36,188.89 L378.45,188.89 L378.53,188.89 L378.62,188.89 L378.70,188.89 L378.79,188.89 L378.87,188.89 L378.96,188.89 L379.04,188.89 L379.12,188.89 L379.21,188.89 L379.29,188.89 L379.38,188.89 L379.46,188.89 L379.55,188.89 L379.63,188.89 L379.72,188.89 L379.80,188.89 L379.89,188.89 L379.97,188.89 L380.06,188.89 L380.14,188.89 L380.23,188.89 L380.31,188.89 L380.40,188.89 L380.48,188.89 L380.57,188.89 L380.65,188.89 L380.74,188.89 L380.82,188.89 L380.90,188.89 L380.99,188.89 L381.07,188.89 L381.16,188.89 L381.24,188.89 L381.33,188.89 L381.41,188.89 L381.50,188.89 L381.58,188.89 L381.67,188.89 L381.75,188.89 L381.84,188.89 L381.92,188.89 L382.01,188.89 L382.09,188.89 L382.18,188.89 L382.26,188.89 L382.35,188.89 L382.43,188.89 L382.51,188.89 L382.60,188.89 L382.68,188.89 L382.77,188.89 L382.85,188.89 L382.94,188.89 L383.02,188.89 L383.11,188.89 L383.19,188.89 L383.28,188.89 L383.36,188.89 L383.45,188.89 L383.53,188.89 L383.62,188.89 L383.70,188.89 L383.79,188.89 L383.87,188.89 L383.96,188.89 L384.04,188.89 L384.13,188.89 L384.21,188.89 L384.29,188.89 L384.38,188.89 L384.46,188.89 L384.55,188.89 L384.63,188.89 L384.72,188.89 L384.80,188.89 L384.89,188.89 L384.97,188.89 L385.06,188.89 L385.14,188.89 L385.23,188.89 L385.31,188.89 L385.40,188.89 L385.48,188.89 L385.57,188.89 L385.65,188.89 L385.74,188.89 L385.82,188.89 L385.90,188.89 L385.99,188.89 L386.07,188.89 L386.16,188.89 L386.24,188.89 L386.33,188.89 L386.41,188.89 L386.50,188.89 L386.58,188.89 L386.67,188.89 L386.75,188.89 L386.84,188.89 L386.92,188.89 L387.01,188.89 L387.09,188.89 L387.18,188.89 L387.26,188.89 L387.35,188.89 L387.43,188.89 L387.52,188.89 L387.60,188.89 L387.68,188.89 L387.77,188.89 L387.85,188.89 L387.94,188.89 L388.02,188.89 L388.11,188.89 L388.19,188.89 L388.28,188.89 L388.36,188.89 L388.45,188.89 L388.53,188.89 L388.62,188.89 L388.70,188.89 L388.79,188.89 L388.87,188.89 L388.96,188.89 L389.04,188.89 L389.13,188.89 L389.21,188.89 L389.29,188.89 L389.38,188.89 L389.46,188.89 L389.55,188.89 L389.63,188.89 L389.72,188.89 L389.80,188.89 L389.89,188.89 L389.97,188.89 L390.06,188.89 L390.14,188.89 L390.23,188.89 L390.31,188.89 L390.40,188.89 L390.48,188.89 L390.57,188.89 L390.65,188.89 L390.74,188.89 L390.82,188.89 L390.91,188.89 L390.99,188.89 L391.07,188.89 L391.16,188.89 L391.24,188.89 L391.33,188.89 L391.41,188.89 L391.50,188.89 L391.58,188.89 L391.67,188.89 L391.75,188.89 L391.84,188.89 L391.92,188.89 L392.01,188.89 L392.09,188.89 L392.18,188.89 L392.26,188.89 L392.35,188.89 L392.43,188.89 L392.52,188.89 L392.60,188.89 L392.69,188.89 L392.77,188.89 L392.85,188.89 L392.94,188.89 L393.02,188.89 L393.11,188.89 L393.19,188.89 L393.28,188.89 L393.36,188.89 L393.45,188.89 L393.53,188.89 L393.62,188.89 L393.70,188.89 L393.79,188.89 L393.87,188.89 L393.96,188.89 L394.04,188.89 L394.13,188.89 L394.21,188.89 L394.30,188.89 L394.38,188.89 L394.46,188.89 L394.55,188.89 L394.63,188.89 L394.72,188.89 L394.80,188.89 L394.89,188.89 L394.97,188.89 L395.06,188.89 L395.14,188.89 L395.23,188.89 L395.31,188.89 L395.40,188.89 L395.48,188.89 L395.57,188.89 L395.65,188.89 L395.74,188.89 L395.82,188.89 L395.91,188.89 L395.99,188.89 L396.07,188.89 L396.16,188.89 L396.24,188.89 L396.33,188.89 L396.41,188.89 L396.50,188.89 L396.58,188.89 L396.67,188.89 L396.75,188.89 L396.84,188.89 L396.92,188.89 L397.01,188.89 L397.09,188.89 L397.18,188.89 L397.26,188.89 L397.35,188.89 L397.43,188.89 L397.52,188.89 L397.60,188.89 L397.69,188.89 L397.77,188.89 L397.85,188.89 L397.94,188.89 L398.02,188.89 L398.11,188.89 L398.19,188.89 L398.28,188.89 L398.36,188.89 L398.45,188.89 L398.53,188.89 L398.62,188.89 L398.70,188.89 L398.79,188.89 L398.87,188.89 L398.96,188.89 L399.04,188.89 L399.13,188.89 L399.21,188.89 L399.30,188.89 L399.38,188.89 L399.47,188.89 L399.55,188.89 L399.63,188.89 L399.72,188.89 L399.80,188.89 L399.89,188.89 L399.97,188.89 L400.06,188.89 L400.14,188.89 L400.23,188.89 L400.31,188.89 L400.40,188.89 L400.48,188.89 L400.57,188.89 L400.65,188.89 L400.74,188.89 L400.82,188.89 L400.91,188.89 L400.99,188.89 L401.08,188.89 L401.16,188.89 L401.24,188.89 L401.33,188.89 L401.41,188.89 L401.50,188.89 L401.58,188.89 L401.67,188.89 L401.75,188.89 L401.84,188.89 L401.92,188.89 L402.01,188.89 L402.09,188.89 L402.18,188.89 L402.26,188.89 L402.35,188.89 L402.43,188.89 L402.52,188.89 L402.60,188.89 L402.69,188.89 L402.77,188.89 L402.86,188.89 L402.94,188.89 L403.02,188.89 L403.11,188.89 L403.19,188.89 L403.28,188.89 L403.36,188.89 L403.45,188.89 L403.53,188.89 L403.62,188.89 L403.70,188.89 L403.79,188.89 L403.87,188.89 L403.96,188.89 L404.04,188.89 L404.13,188.89 L404.21,188.89 L404.30,188.89 L404.38,188.89 L404.47,188.89 L404.55,188.89 L404.63,188.89 L404.72,188.89 L404.80,188.89 L404.89,188.89 L404.97,188.89 L405.06,188.89 L405.14,188.89 L405.23,188.89 L405.31,188.89 L405.40,188.89 L405.48,188.89 L405.57,188.89 L405.65,188.89 L405.74,188.89 L405.82,188.89 L405.91,188.89 L405.99,188.89 L406.08,188.89 L406.16,188.89 L406.25,188.89 L406.33,188.89 L406.41,188.89 L406.50,188.89 L406.58,188.89 L406.67,188.89 L406.75,188.89 L406.84,188.89 L406.92,188.89 L407.01,188.89 L407.09,188.89 L407.18,188.89 L407.26,188.89 L407.35,188.89 L407.43,188.89 L407.52,188.89 L407.60,188.89 L407.69,188.89 L407.77,188.89 L407.86,188.89 L407.94,188.89 L408.02,188.89 L408.11,188.89 L408.19,188.89 L408.28,188.89 L408.36,188.89 L408.45,188.89 L408.53,188.89 L408.62,188.89 L408.70,188.89 L408.79,188.89 L408.87,188.89 L408.96,188.89 L409.04,188.89 L409.13,188.89 L409.21,188.89 L409.30,188.89 L409.38,188.89 L409.47,188.89 L409.55,188.89 L409.63,188.89 L409.72,188.89 L409.80,188.89 L409.89,188.89 L409.97,188.89 L410.06,188.89 L410.14,188.89 L410.23,188.89 L410.31,188.89 L410.40,188.89 L410.48,188.89 L410.57,188.89 L410.65,188.89 L410.74,188.89 L410.82,188.89 L410.91,188.89 L410.99,188.89 L411.08,188.89 L411.16,188.89 L411.25,188.89 L411.33,188.89 L411.41,188.89 L411.50,188.89 L411.58,188.89 L411.67,188.89 L411.75,188.89 L411.84,188.89 L411.92,188.89 L412.01,188.89 L412.09,188.89 L412.18,188.89 L412.26,188.89 L412.35,188.89 L412.43,188.89 L412.52,188.89 L412.60,188.89 L412.69,188.89 L412.77,188.89 L412.86,188.89 L412.94,188.89 L413.02,188.89 L413.11,188.89 L413.19,188.89 L413.28,188.89 L413.36,188.89 L413.45,188.89 L413.53,188.89 L413.62,188.89 L413.70,188.89 L413.79,188.89 L413.87,188.89 L413.96,188.89 L414.04,188.89 L414.13,188.89 L414.21,188.89 L414.30,188.89 L414.38,188.89 L414.47,188.89 L414.55,188.89 L414.64,188.89 L414.72,188.89 L414.80,188.89 L414.89,188.89 L414.97,188.89 L415.06,188.89 L415.14,188.89 L415.23,188.89 L415.31,188.89 L415.40,188.89 L415.48,188.89 L415.57,188.89 L415.65,188.89 L415.74,188.89 L415.82,188.89 L415.91,188.89 L415.99,188.89 L416.08,188.89 L416.16,188.89 L416.25,188.89 L416.33,188.89 L416.42,188.89 L416.50,188.89 L416.58,188.89 L416.67,188.89 L416.75,188.89 L416.84,188.89 L416.92,188.89 L417.01,188.89 L417.09,188.89 L417.18,188.89 L417.26,188.89 L417.35,188.89 L417.43,188.89 L417.52,188.89 L417.60,188.89 L417.69,188.89 L417.77,188.89 L417.86,188.89 L417.94,188.89 L418.03,188.89 L418.11,188.89 L418.19,188.89 L418.28,188.89 L418.36,188.89 L418.45,188.89 L418.53,188.89 L418.62,188.89 L418.70,188.89 L418.79,188.89 L418.87,188.89 L418.96,188.89 L419.04,188.89 L419.13,188.89 L419.21,188.89 L419.30,188.89 L419.38,188.89 L419.47,188.89 L419.55,188.89 L419.64,188.89 L419.72,188.89 L419.81,188.89 L419.89,188.89 L419.97,188.89 L420.06,188.89 L420.14,188.89 L420.23,188.89 L420.31,188.89 L420.40,188.89 L420.48,188.89 L420.57,188.89 L420.65,188.89 L420.74,188.89 L420.82,188.89 L420.91,188.89 L420.99,188.89 L421.08,188.89 L421.16,188.89 L421.25,188.89 L421.33,188.89 L421.42,188.89 L421.50,188.89" fill="none" stroke="#ff00ff" stroke-width="2" stroke-dasharray="6 4.6"/>
<g fill="#0000ff"><circle cx="252.00" cy="189.14" r="1.5"/><circle cx="252.85" cy="189.14" r="1.5"/><circle cx="253.69" cy="189.14" r="1.5"/><circle cx="254.54" cy="189.14" r="1.5"/><circle cx="255.39" cy="189.14" r="1.5"/><circle cx="256.24" cy="189.14" r="1.5"/><circle cx="257.08" cy="189.14" r="1.5"/><circle cx="257.93" cy="189.14" r="1.5"/><circle cx="258.78" cy="189.14" r="1.5"/><circle cx="259.63" cy="189.14" r="1.5"/><circle cx="260.48" cy="189.14" r="1.5"/><circle cx="261.32" cy="189.14" r="1.5"/><circle cx="262.17" cy="189.14" r="1.5"/><circle cx="263.02" cy="189.14" r="1.5"/><circle cx="263.87" cy="189.14" r="1.5"/><circle cx="264.71" cy="189.14" r="1.5"/><circle cx="265.56" cy="189.14" r="1.5"/><circle cx="266.41" cy="189.14" r="1.5"/><circle cx="267.25" cy="189.14" r="1.5"/><circle cx="268.10" cy="189.14" r="1.5"/><circle cx="268.95" cy="189.14" r="1.5"/><circle cx="269.80" cy="189.14" r="1.5"/><circle cx="270.64" cy="189.14" r="1.5"/><circle cx="271.49" cy="189.14" r="1.5"/><circle cx="272.34" cy="189.14" r="1.5"/><circle cx="273.19" cy="189.14" r="1.5"/><circle cx="274.03" cy="189.14" r="1.5"/><circle cx="274.88" cy="189.14" r="1.5"/><circle cx="275.73" cy="189.14" r="1.5"/><circle cx="276.58" cy="189.14" r="1.5"/><circle cx="277.43" cy="189.14" r="1.5"/><circle cx="278.27" cy="189.14" r="1.5"/><circle cx="279.12" cy="189.14" r="1.5"/><circle cx="279.97" cy="189.14" r="1.5"/><circle cx="280.81" cy="189.14" r="1.5"/><circle cx="281.66" cy="189.14" r="1.5"/><circle cx="282.51" cy="189.14" r="1.5"/><circle cx="283.36" cy="189.14" r="1.5"/><circle cx="284.20" cy="189.14" r="1.5"/><circle cx="285.05" cy="189.14" r="1.5"/><circle cx="285.90" cy="189.14" r="1.5"/><circle cx="286.75" cy="189.14" r="1.5"/><circle cx="287.60" cy="189.14" r="1.5"/><circle cx="288.44" cy="189.14" r="1.5"/><circle cx="289.29" cy="189.14" r="1.5"/><circle cx="290.14" cy="189.14" r="1.5"/><circle cx="290.99" cy="189.14" r="1.5"/><circle cx="291.83" cy="189.14" r="1.5"/><circle cx="292.68" cy="189.14" r="1.5"/><circle cx="293.53" cy="189.14" r="1.5"/><circle cx="294.38" cy="189.14" r="1.5"/><circle cx="295.22" cy="189.14" r="1.5"/><circle cx="296.07" cy="189.14" r="1.5"/><circle cx="296.92" cy="189.14" r="1.5"/><circle cx="297.76" cy="189.14" r="1.5"/><circle cx="298.61" cy="189.14" r="1.5"/><circle cx="299.46" cy="189.14" r="1.5"/><circle cx="300.31" cy="189.14" r="1.5"/><circle cx="301.16" cy="189.14" r="1.5"/><circle cx="302.00" cy="189.14" r="1.5"/><circle cx="302.85" cy="189.14" r="1.5"/><circle cx="303.70" cy="189.14" r="1.5"/><circle cx="304.55" cy="189.14" r="1.5"/><circle cx="305.39" cy="189.14" r="1.5"/><circle cx="306.24" cy="189.14" r="1.5"/><circle cx="307.09" cy="189.14" r="1.5"/><circle cx="307.94" cy="189.13" r="1.5"/><circle cx="308.78" cy="189.13" r="1.5"/><circle cx="309.63" cy="189.12" r="1.5"/><circle cx="310.48" cy="189.10" r="1.5"/><circle cx="311.32" cy="189.07" r="1.5"/><circle cx="312.17" cy="189.02" r="1.5"/><circle cx="313.02" cy="188.94" r="1.5"/><circle cx="313.87" cy="188.80" r="1.5"/><circle cx="314.71" cy="188.59" r="1.5"/><circle cx="315.56" cy="188.26" r="1.5"/><circle cx="316.41" cy="187.76" r="1.5"/><circle cx="317.26" cy="187.02" r="1.5"/><circle cx="318.11" cy="185.96" r="1.5"/><circle cx="318.95" cy="184.48" r="1.5"/><circle cx="319.80" cy="182.45" r="1.5"/><circle cx="320.65" cy="179.75" r="1.5"/><circle cx="321.50" cy="176.26" r="1.5"/><circle cx="322.34" cy="171.88" r="1.5"/><circle cx="323.19" cy="166.55" r="1.5"/><circle cx="324.04" cy="160.26" r="1.5"/><circle cx="324.88" cy="153.12" r="1.5"/><circle cx="325.73" cy="145.32" r="1.5"/><circle cx="326.58" cy="137.20" r="1.5"/><circle cx="327.43" cy="129.22" r="1.5"/><circle cx="328.27" cy="121.94" r="1.5"/><circle cx="329.12" cy="116.00" r="1.5"/><circle cx="329.97" cy="112.08" r="1.5"/><circle cx="330.82" cy="110.80" r="1.5"/><circle cx="331.67" cy="112.67" r="1.5"/><circle cx="332.51" cy="118.01" r="1.5"/><circle cx="333.36" cy="126.88" r="1.5"/><circle cx="334.21" cy="139.06" r="1.5"/><circle cx="335.06" cy="154.04" r="1.5"/><circle cx="335.90" cy="171.05" r="1.5"/><circle cx="336.75" cy="189.14" r="1.5"/><circle cx="337.60" cy="207.23" r="1.5"/><circle cx="338.44" cy="224.24" r="1.5"/><circle cx="339.29" cy="239.22" r="1.5"/><circle cx="340.14" cy="251.40" r="1.5"/><circle cx="340.99" cy="260.27" r="1.5"/><circle cx="341.84" cy="265.61" r="1.5"/><circle cx="342.68" cy="267.48" r="1.5"/><circle cx="343.53" cy="266.20" r="1.5"/><circle cx="344.38" cy="262.28" r="1.5"/><circle cx="345.23" cy="256.34" r="1.5"/><circle cx="346.07" cy="249.06" r="1.5"/><circle cx="346.92" cy="241.08" r="1.5"/><circle cx="347.77" cy="232.96" r="1.5"/><circle cx="348.62" cy="225.16" r="1.5"/><circle cx="349.46" cy="218.02" r="1.5"/><circle cx="350.31" cy="211.73" r="1.5"/><circle cx="351.16" cy="206.40" r="1.5"/><circle cx="352.00" cy="202.02" r="1.5"/><circle cx="352.85" cy="198.53" r="1.5"/><circle cx="353.70" cy="195.83" r="1.5"/><circle cx="354.55" cy="193.80" r="1.5"/><circle cx="355.39" cy="192.32" r="1.5"/><circle cx="356.24" cy="191.26" r="1.5"/><circle cx="357.09" cy="190.52" r="1.5"/><circle cx="357.94" cy="190.02" r="1.5"/><circle cx="358.79" cy="189.69" r="1.5"/><circle cx="359.63" cy="189.48" r="1.5"/><circle cx="360.48" cy="189.34" r="1.5"/><circle cx="361.33" cy="189.26" r="1.5"/><circle cx="362.18" cy="189.21" r="1.5"/><circle cx="363.02" cy="189.18" r="1.5"/><circle cx="363.87" cy="189.16" r="1.5"/><circle cx="364.72" cy="189.15" r="1.5"/><circle cx="365.56" cy="189.15" r="1.5"/><circle cx="366.41" cy="189.14" r="1.5"/><circle cx="367.26" cy="189.14" r="1.5"/><circle cx="368.11" cy="189.14" r="1.5"/><circle cx="368.96" cy="189.14" r="1.5"/><circle cx="369.80" cy="189.14" r="1.5"/><circle cx="370.65" cy="189.14" r="1.5"/><circle cx="371.50" cy="189.14" r="1.5"/><circle cx="372.35" cy="189.14" r="1.5"/><circle cx="373.19" cy="189.14" r="1.5"/><circle cx="374.04" cy="189.14" r="1.5"/><circle cx="374.89" cy="189.14" r="1.5"/><circle cx="375.74" cy="189.14" r="1.5"/><circle cx="376.58" cy="189.14" r="1.5"/><circle cx="377.43" cy="189.14" r="1.5"/><circle cx="378.28" cy="189.14" r="1.5"/><circle cx="379.12" cy="189.14" r="1.5"/><circle cx="379.97" cy="189.14" r="1.5"/><circle cx="380.82" cy="189.14" r="1.5"/><circle cx="381.67" cy="189.14" r="1.5"/><circle cx="382.51" cy="189.14" r="1.5"/><circle cx="383.36" cy="189.14" r="1.5"/><circle cx="384.21" cy="189.14" r="1.5"/><circle cx="385.06" cy="189.14" r="1.5"/><circle cx="385.90" cy="189.14" r="1.5"/><circle cx="386.75" cy="189.14" r="1.5"/><circle cx="387.60" cy="189.14" r="1.5"/><circle cx="388.45" cy="189.14" r="1.5"/><circle cx="389.29" cy="189.14" r="1.5"/><circle cx="390.14" cy="189.14" r="1.5"/><circle cx="390.99" cy="189.14" r="1.5"/><circle cx="391.84" cy="189.14" r="1.5"/><circle cx="392.69" cy="189.14" r="1.5"/><circle cx="393.53" cy="189.14" r="1.5"/><circle cx="394.38" cy="189.14" r="1.5"/><circle cx="395.23" cy="189.14" r="1.5"/><circle cx="396.07" cy="189.14" r="1.5"/><circle cx="396.92" cy="189.14" r="1.5"/><circle cx="397.77" cy="189.14" r="1.5"/><circle cx="398.62" cy="189.14" r="1.5"/><circle cx="399.47" cy="189.14" r="1.5"/><circle cx="400.31" cy="189.14" r="1.5"/><circle cx="401.16" cy="189.14" r="1.5"/><circle cx="402.01" cy="189.14" r="1.5"/><circle cx="402.86" cy="189.14" r="1.5"/><circle cx="403.70" cy="189.14" r="1.5"/><circle cx="404.55" cy="189.14" r="1.5"/><circle cx="405.40" cy="189.14" r="1.5"/><circle cx="406.25" cy="189.14" r="1.5"/><circle cx="407.09" cy="189.14" r="1.5"/><circle cx="407.94" cy="189.14" r="1.5"/><circle cx="408.79" cy="189.14" r="1.5"/><circle cx="409.63" cy="189.14" r="1.5"/><circle cx="410.48" cy="189.14" r="1.5"/><circle cx="411.33" cy="189.14" r="1.5"/><circle cx="412.18" cy="189.14" r="1.5"/><circle cx="413.02" cy="189.14" r="1.5"/><circle cx="413.87" cy="189.14" r="1.5"/><circle cx="414.72" cy="189.14" r="1.5"/><circle cx="415.57" cy="189.14" r="1.5"/><circle cx="416.42" cy="189.14" r="1.5"/><circle cx="417.26" cy="189.14" r="1.5"/><circle cx="418.11" cy="189.14" r="1.5"/><circle cx="418.96" cy="189.14" r="1.5"/><circle cx="419.81" cy="189.14" r="1.5"/><circle cx="420.65" cy="189.14" r="1.5"/><circle cx="421.50" cy="189.14" r="1.5"/></g>
<g transform="translate(336.25,299.90) scale(0.9654,1)"><text text-anchor="middle">Re(z)</text></g>
<g transform="translate(252.85,14.90) scale(0.9943371132906308,1)"><text text-anchor="start">(b) Im(Z) and</text></g>
<g transform="translate(335.50,14.90) scale(0.9466918582580277,1)"><text text-anchor="start">Im(Z’), Im(z)=0</text></g>
<path d="M309.55,38.3H336.25" stroke="#00ff00" stroke-width="2" stroke-dasharray="6 4.6"/>
<g transform="translate(338.85,43.70) scale(0.9769848000000001,1)"><text text-anchor="start">exact Im(Z)</text></g>
<circle cx="323.20" cy="54.599999999999994" r="1.5" fill="#ff0000"/>
<g transform="translate(338.85,59.70) scale(0.9769848000000001,1)"><text text-anchor="start">GPDF Im(Z)</text></g>
<path d="M309.55,70.3H336.25" stroke="#ff00ff" stroke-width="2" stroke-dasharray="6 4.6"/>
<g transform="translate(338.85,75.70) scale(0.9769848000000001,1)"><text text-anchor="start">exact Im(Z’)</text></g>
<circle cx="323.20" cy="86.6" r="1.5" fill="#0000ff"/>
<g transform="translate(338.85,91.70) scale(0.9769848000000001,1)"><text text-anchor="start">GPDF Im(Z’)</text></g>
</svg>
</body></html>
